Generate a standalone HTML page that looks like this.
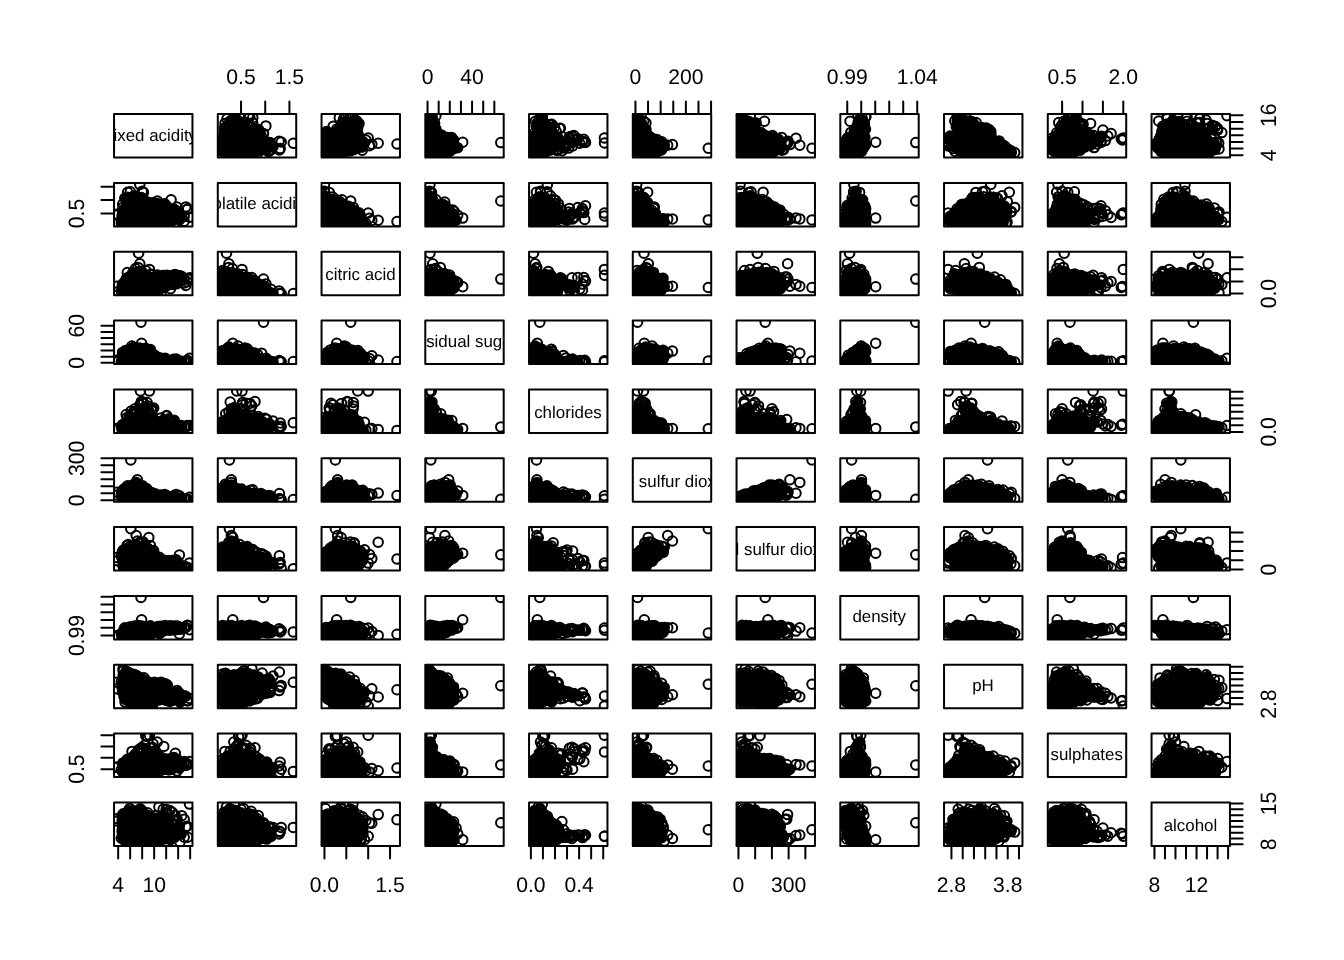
<!DOCTYPE html>
<html><head><meta charset="utf-8"><title>pairs</title>
<style>
html,body{margin:0;padding:0;background:#fff}
svg{display:block}
text{font-family:"Liberation Sans",Arial,Helvetica,sans-serif;fill:#000;text-rendering:geometricPrecision}
.a{font-size:21.12px}
.l{font-size:16.90px}
.p{fill:none;stroke:none;marker-start:url(#m);marker-mid:url(#m);marker-end:url(#m)}
.b{fill:none;stroke:#000;stroke-width:2;stroke-linejoin:round}
.f{fill:none;stroke:#000;stroke-width:1.2}
.t{fill:none;stroke:#000;stroke-width:2;stroke-linecap:round}
</style></head><body>
<svg width="1344" height="960" viewBox="0 0 1344 960">
<defs><marker id="m" markerUnits="userSpaceOnUse" markerWidth="14" markerHeight="14" refX="7" refY="7" orient="0"><circle cx="7" cy="7" r="4.752" fill="none" stroke="#000" stroke-width="2"/></marker>
<clipPath id="c0_0"><rect x="114.05" y="114.05" width="78.41" height="43.50"/></clipPath><clipPath id="c0_1"><rect x="217.80" y="114.05" width="78.41" height="43.50"/></clipPath><clipPath id="c0_2"><rect x="321.55" y="114.05" width="78.41" height="43.50"/></clipPath><clipPath id="c0_3"><rect x="425.30" y="114.05" width="78.41" height="43.50"/></clipPath><clipPath id="c0_4"><rect x="529.05" y="114.05" width="78.41" height="43.50"/></clipPath><clipPath id="c0_5"><rect x="632.80" y="114.05" width="78.41" height="43.50"/></clipPath><clipPath id="c0_6"><rect x="736.55" y="114.05" width="78.41" height="43.50"/></clipPath><clipPath id="c0_7"><rect x="840.30" y="114.05" width="78.41" height="43.50"/></clipPath><clipPath id="c0_8"><rect x="944.05" y="114.05" width="78.41" height="43.50"/></clipPath><clipPath id="c0_9"><rect x="1047.80" y="114.05" width="78.41" height="43.50"/></clipPath><clipPath id="c0_10"><rect x="1151.55" y="114.05" width="78.41" height="43.50"/></clipPath><clipPath id="c1_0"><rect x="114.05" y="182.89" width="78.41" height="43.50"/></clipPath><clipPath id="c1_1"><rect x="217.80" y="182.89" width="78.41" height="43.50"/></clipPath><clipPath id="c1_2"><rect x="321.55" y="182.89" width="78.41" height="43.50"/></clipPath><clipPath id="c1_3"><rect x="425.30" y="182.89" width="78.41" height="43.50"/></clipPath><clipPath id="c1_4"><rect x="529.05" y="182.89" width="78.41" height="43.50"/></clipPath><clipPath id="c1_5"><rect x="632.80" y="182.89" width="78.41" height="43.50"/></clipPath><clipPath id="c1_6"><rect x="736.55" y="182.89" width="78.41" height="43.50"/></clipPath><clipPath id="c1_7"><rect x="840.30" y="182.89" width="78.41" height="43.50"/></clipPath><clipPath id="c1_8"><rect x="944.05" y="182.89" width="78.41" height="43.50"/></clipPath><clipPath id="c1_9"><rect x="1047.80" y="182.89" width="78.41" height="43.50"/></clipPath><clipPath id="c1_10"><rect x="1151.55" y="182.89" width="78.41" height="43.50"/></clipPath><clipPath id="c2_0"><rect x="114.05" y="251.73" width="78.41" height="43.50"/></clipPath><clipPath id="c2_1"><rect x="217.80" y="251.73" width="78.41" height="43.50"/></clipPath><clipPath id="c2_2"><rect x="321.55" y="251.73" width="78.41" height="43.50"/></clipPath><clipPath id="c2_3"><rect x="425.30" y="251.73" width="78.41" height="43.50"/></clipPath><clipPath id="c2_4"><rect x="529.05" y="251.73" width="78.41" height="43.50"/></clipPath><clipPath id="c2_5"><rect x="632.80" y="251.73" width="78.41" height="43.50"/></clipPath><clipPath id="c2_6"><rect x="736.55" y="251.73" width="78.41" height="43.50"/></clipPath><clipPath id="c2_7"><rect x="840.30" y="251.73" width="78.41" height="43.50"/></clipPath><clipPath id="c2_8"><rect x="944.05" y="251.73" width="78.41" height="43.50"/></clipPath><clipPath id="c2_9"><rect x="1047.80" y="251.73" width="78.41" height="43.50"/></clipPath><clipPath id="c2_10"><rect x="1151.55" y="251.73" width="78.41" height="43.50"/></clipPath><clipPath id="c3_0"><rect x="114.05" y="320.57" width="78.41" height="43.50"/></clipPath><clipPath id="c3_1"><rect x="217.80" y="320.57" width="78.41" height="43.50"/></clipPath><clipPath id="c3_2"><rect x="321.55" y="320.57" width="78.41" height="43.50"/></clipPath><clipPath id="c3_3"><rect x="425.30" y="320.57" width="78.41" height="43.50"/></clipPath><clipPath id="c3_4"><rect x="529.05" y="320.57" width="78.41" height="43.50"/></clipPath><clipPath id="c3_5"><rect x="632.80" y="320.57" width="78.41" height="43.50"/></clipPath><clipPath id="c3_6"><rect x="736.55" y="320.57" width="78.41" height="43.50"/></clipPath><clipPath id="c3_7"><rect x="840.30" y="320.57" width="78.41" height="43.50"/></clipPath><clipPath id="c3_8"><rect x="944.05" y="320.57" width="78.41" height="43.50"/></clipPath><clipPath id="c3_9"><rect x="1047.80" y="320.57" width="78.41" height="43.50"/></clipPath><clipPath id="c3_10"><rect x="1151.55" y="320.57" width="78.41" height="43.50"/></clipPath><clipPath id="c4_0"><rect x="114.05" y="389.41" width="78.41" height="43.50"/></clipPath><clipPath id="c4_1"><rect x="217.80" y="389.41" width="78.41" height="43.50"/></clipPath><clipPath id="c4_2"><rect x="321.55" y="389.41" width="78.41" height="43.50"/></clipPath><clipPath id="c4_3"><rect x="425.30" y="389.41" width="78.41" height="43.50"/></clipPath><clipPath id="c4_4"><rect x="529.05" y="389.41" width="78.41" height="43.50"/></clipPath><clipPath id="c4_5"><rect x="632.80" y="389.41" width="78.41" height="43.50"/></clipPath><clipPath id="c4_6"><rect x="736.55" y="389.41" width="78.41" height="43.50"/></clipPath><clipPath id="c4_7"><rect x="840.30" y="389.41" width="78.41" height="43.50"/></clipPath><clipPath id="c4_8"><rect x="944.05" y="389.41" width="78.41" height="43.50"/></clipPath><clipPath id="c4_9"><rect x="1047.80" y="389.41" width="78.41" height="43.50"/></clipPath><clipPath id="c4_10"><rect x="1151.55" y="389.41" width="78.41" height="43.50"/></clipPath><clipPath id="c5_0"><rect x="114.05" y="458.25" width="78.41" height="43.50"/></clipPath><clipPath id="c5_1"><rect x="217.80" y="458.25" width="78.41" height="43.50"/></clipPath><clipPath id="c5_2"><rect x="321.55" y="458.25" width="78.41" height="43.50"/></clipPath><clipPath id="c5_3"><rect x="425.30" y="458.25" width="78.41" height="43.50"/></clipPath><clipPath id="c5_4"><rect x="529.05" y="458.25" width="78.41" height="43.50"/></clipPath><clipPath id="c5_5"><rect x="632.80" y="458.25" width="78.41" height="43.50"/></clipPath><clipPath id="c5_6"><rect x="736.55" y="458.25" width="78.41" height="43.50"/></clipPath><clipPath id="c5_7"><rect x="840.30" y="458.25" width="78.41" height="43.50"/></clipPath><clipPath id="c5_8"><rect x="944.05" y="458.25" width="78.41" height="43.50"/></clipPath><clipPath id="c5_9"><rect x="1047.80" y="458.25" width="78.41" height="43.50"/></clipPath><clipPath id="c5_10"><rect x="1151.55" y="458.25" width="78.41" height="43.50"/></clipPath><clipPath id="c6_0"><rect x="114.05" y="527.09" width="78.41" height="43.50"/></clipPath><clipPath id="c6_1"><rect x="217.80" y="527.09" width="78.41" height="43.50"/></clipPath><clipPath id="c6_2"><rect x="321.55" y="527.09" width="78.41" height="43.50"/></clipPath><clipPath id="c6_3"><rect x="425.30" y="527.09" width="78.41" height="43.50"/></clipPath><clipPath id="c6_4"><rect x="529.05" y="527.09" width="78.41" height="43.50"/></clipPath><clipPath id="c6_5"><rect x="632.80" y="527.09" width="78.41" height="43.50"/></clipPath><clipPath id="c6_6"><rect x="736.55" y="527.09" width="78.41" height="43.50"/></clipPath><clipPath id="c6_7"><rect x="840.30" y="527.09" width="78.41" height="43.50"/></clipPath><clipPath id="c6_8"><rect x="944.05" y="527.09" width="78.41" height="43.50"/></clipPath><clipPath id="c6_9"><rect x="1047.80" y="527.09" width="78.41" height="43.50"/></clipPath><clipPath id="c6_10"><rect x="1151.55" y="527.09" width="78.41" height="43.50"/></clipPath><clipPath id="c7_0"><rect x="114.05" y="595.93" width="78.41" height="43.50"/></clipPath><clipPath id="c7_1"><rect x="217.80" y="595.93" width="78.41" height="43.50"/></clipPath><clipPath id="c7_2"><rect x="321.55" y="595.93" width="78.41" height="43.50"/></clipPath><clipPath id="c7_3"><rect x="425.30" y="595.93" width="78.41" height="43.50"/></clipPath><clipPath id="c7_4"><rect x="529.05" y="595.93" width="78.41" height="43.50"/></clipPath><clipPath id="c7_5"><rect x="632.80" y="595.93" width="78.41" height="43.50"/></clipPath><clipPath id="c7_6"><rect x="736.55" y="595.93" width="78.41" height="43.50"/></clipPath><clipPath id="c7_7"><rect x="840.30" y="595.93" width="78.41" height="43.50"/></clipPath><clipPath id="c7_8"><rect x="944.05" y="595.93" width="78.41" height="43.50"/></clipPath><clipPath id="c7_9"><rect x="1047.80" y="595.93" width="78.41" height="43.50"/></clipPath><clipPath id="c7_10"><rect x="1151.55" y="595.93" width="78.41" height="43.50"/></clipPath><clipPath id="c8_0"><rect x="114.05" y="664.77" width="78.41" height="43.50"/></clipPath><clipPath id="c8_1"><rect x="217.80" y="664.77" width="78.41" height="43.50"/></clipPath><clipPath id="c8_2"><rect x="321.55" y="664.77" width="78.41" height="43.50"/></clipPath><clipPath id="c8_3"><rect x="425.30" y="664.77" width="78.41" height="43.50"/></clipPath><clipPath id="c8_4"><rect x="529.05" y="664.77" width="78.41" height="43.50"/></clipPath><clipPath id="c8_5"><rect x="632.80" y="664.77" width="78.41" height="43.50"/></clipPath><clipPath id="c8_6"><rect x="736.55" y="664.77" width="78.41" height="43.50"/></clipPath><clipPath id="c8_7"><rect x="840.30" y="664.77" width="78.41" height="43.50"/></clipPath><clipPath id="c8_8"><rect x="944.05" y="664.77" width="78.41" height="43.50"/></clipPath><clipPath id="c8_9"><rect x="1047.80" y="664.77" width="78.41" height="43.50"/></clipPath><clipPath id="c8_10"><rect x="1151.55" y="664.77" width="78.41" height="43.50"/></clipPath><clipPath id="c9_0"><rect x="114.05" y="733.61" width="78.41" height="43.50"/></clipPath><clipPath id="c9_1"><rect x="217.80" y="733.61" width="78.41" height="43.50"/></clipPath><clipPath id="c9_2"><rect x="321.55" y="733.61" width="78.41" height="43.50"/></clipPath><clipPath id="c9_3"><rect x="425.30" y="733.61" width="78.41" height="43.50"/></clipPath><clipPath id="c9_4"><rect x="529.05" y="733.61" width="78.41" height="43.50"/></clipPath><clipPath id="c9_5"><rect x="632.80" y="733.61" width="78.41" height="43.50"/></clipPath><clipPath id="c9_6"><rect x="736.55" y="733.61" width="78.41" height="43.50"/></clipPath><clipPath id="c9_7"><rect x="840.30" y="733.61" width="78.41" height="43.50"/></clipPath><clipPath id="c9_8"><rect x="944.05" y="733.61" width="78.41" height="43.50"/></clipPath><clipPath id="c9_9"><rect x="1047.80" y="733.61" width="78.41" height="43.50"/></clipPath><clipPath id="c9_10"><rect x="1151.55" y="733.61" width="78.41" height="43.50"/></clipPath><clipPath id="c10_0"><rect x="114.05" y="802.46" width="78.41" height="43.50"/></clipPath><clipPath id="c10_1"><rect x="217.80" y="802.46" width="78.41" height="43.50"/></clipPath><clipPath id="c10_2"><rect x="321.55" y="802.46" width="78.41" height="43.50"/></clipPath><clipPath id="c10_3"><rect x="425.30" y="802.46" width="78.41" height="43.50"/></clipPath><clipPath id="c10_4"><rect x="529.05" y="802.46" width="78.41" height="43.50"/></clipPath><clipPath id="c10_5"><rect x="632.80" y="802.46" width="78.41" height="43.50"/></clipPath><clipPath id="c10_6"><rect x="736.55" y="802.46" width="78.41" height="43.50"/></clipPath><clipPath id="c10_7"><rect x="840.30" y="802.46" width="78.41" height="43.50"/></clipPath><clipPath id="c10_8"><rect x="944.05" y="802.46" width="78.41" height="43.50"/></clipPath><clipPath id="c10_9"><rect x="1047.80" y="802.46" width="78.41" height="43.50"/></clipPath><clipPath id="c10_10"><rect x="1151.55" y="802.46" width="78.41" height="43.50"/></clipPath></defs>
<rect width="1344" height="960" fill="#fff"/>
<g clip-path="url(#c0_0)"><text class="l" text-anchor="middle" x="152.95" y="141.00">fixed acidity</text></g>
<rect class="b" x="114.05" y="114.05" width="78.41" height="43.50"/>
<g clip-path="url(#c0_1)"><path class="f" transform="translate(0 .5)" d="M237 114h1M253 114h1M234 115h5M230 116h10M244 116h1M229 117h11M244 117h1M228 118h20M253 118h1M226 119h27M226 120h27M226 121h27M224 122h29M256 122h1M224 123h25M252 123h5M223 124h26M252 124h5M221 125h28M252 125h9M221 126h40M221 127h41M220 128h43M221 129h43M221 130h45M221 131h44M220 132h45M221 133h44M221 134h44M221 135h45M220 136h48M219 137h49M278 137h1M218 138h53M218 139h55M218 140h56M284 140h1M218 141h56M284 141h2M217 142h59M217 143h59M217 144h60M280 144h1M217 145h67M217 146h61M281 146h3M217 147h60M217 148h60M218 149h58M218 150h58M218 151h53M274 151h2M219 152h51M274 152h2M219 153h51M277 153h1M220 154h50M279 154h1M220 155h38M267 155h3M222 156h36M223 157h16M243 157h2M235 158h2M236 159h1"/><polyline class="p" points="223.5,151.4 222.4,149.6 226.6,152.5 225.9,133.5 222.0,149.3 247.3,152.3 243.6,123.7 250.1,131.1 267.4,148.6 221.8,146.7 224.4,153.5 257.8,150.5 229.3,152.5 281.2,142.0 240.5,122.6 270.0,144.2 268.5,151.6 221.0,145.2 252.8,117.7 270.2,150.4 279.4,150.0 233.8,152.9 221.9,142.3 244.8,125.9 270.1,149.7 261.1,135.6 263.5,133.5 280.2,148.5 223.3,140.2 260.8,150.1 227.5,153.1 221.0,147.2 230.1,152.8 224.7,132.4 265.9,125.9 222.7,151.6 230.3,121.4 249.7,116.7 264.9,140.9 247.7,124.1 227.0,118.7 270.1,143.4 222.8,139.6 238.2,155.9 247.5,125.9 239.7,155.7 237.8,153.0 223.0,138.4 224.5,132.1 229.9,121.3 225.0,123.4 231.8,121.0 293.3,143.3 252.7,122.7 233.8,120.0 244.7,152.9 248.3,117.0 269.9,142.4 245.1,122.2 273.0,146.4 254.9,128.5 221.9,139.6 221.2,143.0 252.0,152.6 258.6,129.5 227.3,126.6 237.2,120.3 257.8,152.8 234.3,115.7 224.5,128.1 236.2,118.7 279.1,141.3"/></g>
<rect class="b" x="217.80" y="114.05" width="78.41" height="43.50"/>
<g clip-path="url(#c0_2)"><path class="f" transform="translate(0 .5)" d="M351 112h3M345 113h9M341 114h2M346 114h4M353 114h1M346 115h2M353 115h2M346 116h2M353 116h5M340 117h1M344 117h4M351 117h8M340 118h20M339 119h22M339 120h22M339 121h23M337 122h26M337 123h27M337 124h26M335 125h28M334 126h28M326 127h2M333 127h29M324 128h5M332 128h30M323 129h39M323 130h39M323 131h39M322 132h40M322 133h40M322 134h41M322 135h42M322 136h42M321 137h43M321 138h44M321 139h45M320 140h47M371 140h4M320 141h54M320 142h49M320 143h49M320 144h49M320 145h48M320 146h48M375 146h1M320 147h48M375 147h1M320 148h47M320 149h47M320 150h47M320 151h43M320 152h39M320 153h36M321 154h32M322 155h26M323 156h22M324 157h14M341 157h1M328 158h3M328 159h2"/><polyline class="p" points="336.7,152.5 369.5,145.7 325.0,144.6 326.3,138.0 324.5,152.3 324.5,148.6 327.8,153.5 337.7,152.5 362.0,147.1 351.7,149.3 342.1,151.5 324.5,142.0 336.7,129.0 339.3,117.7 331.7,152.9 350.1,150.4 343.9,152.1 326.3,133.5 324.7,144.5 359.0,123.6 326.6,131.4 335.5,153.1 325.5,138.5 363.0,141.8 341.0,152.9 371.8,144.3 356.0,121.4 357.5,148.0 350.7,116.7 343.7,118.7 351.7,149.8 337.7,155.9 357.8,133.5 327.6,155.7 345.9,121.3 359.1,136.6 365.9,140.0 356.8,121.0 378.2,143.3 325.8,135.0 356.9,129.6 353.7,149.8 342.2,122.7 355.1,120.0 345.9,117.0 347.2,151.1 325.1,138.5 362.3,150.2 350.6,150.8 397.0,144.0 324.5,152.6 333.2,126.2 368.2,138.0 352.9,115.7 357.6,128.1 350.7,118.7 364.5,143.2"/></g>
<rect class="b" x="321.55" y="114.05" width="78.41" height="43.50"/>
<g clip-path="url(#c0_3)"><path class="f" transform="translate(0 .5)" d="M428 113h6M427 114h8M426 115h10M426 116h11M426 117h11M426 118h11M426 119h11M425 120h14M425 121h14M425 122h14M425 123h14M425 124h14M425 125h14M425 126h14M425 127h15M425 128h15M425 129h16M425 130h16M425 131h18M425 132h20M425 133h28M425 134h29M425 135h30M425 136h31M424 137h33M424 138h34M424 139h34M424 140h34M424 141h34M424 142h34M424 143h35M424 144h36M424 145h37M424 146h38M424 147h38M424 148h38M424 149h38M424 150h37M424 151h36M424 152h32M424 153h30M425 154h28M425 155h26M425 156h24M425 157h11M439 157h2M429 158h1M429 159h1M429 160h1"/><polyline class="p" points="428.8,148.3 428.6,150.3 429.5,134.4 438.1,152.5 428.7,138.3 429.0,146.1 428.7,143.7 428.5,146.9 429.7,131.5 428.5,142.3 429.3,131.2 428.5,151.2 442.3,151.9 428.4,139.1 429.9,123.7 429.1,129.1 429.0,153.5 430.0,117.7 446.3,152.9 452.8,143.4 452.0,148.1 451.7,149.3 432.2,153.1 451.5,137.4 428.4,152.8 428.7,132.4 434.7,152.9 430.0,121.4 430.0,116.7 462.7,142.3 457.7,147.7 429.2,127.7 429.5,124.1 442.0,152.5 434.6,123.0 429.1,155.9 439.9,153.0 432.3,155.7 428.8,121.3 453.0,140.3 432.2,117.0 441.1,135.9 453.6,140.1 450.0,151.2 441.9,135.3 438.5,133.8 500.8,142.6 453.5,148.7 428.5,137.7 435.9,129.1 435.9,115.7 447.5,137.4"/></g>
<rect class="b" x="425.30" y="114.05" width="78.41" height="43.50"/>
<g clip-path="url(#c0_4)"><path class="f" transform="translate(0 .5)" d="M541 112h4M540 113h6M539 114h8M538 115h9M537 116h10M535 117h12M535 118h12M535 119h12M534 120h16M534 121h16M554 121h1M532 122h18M554 122h2M532 123h19M554 123h2M532 124h27M532 125h24M532 126h24M532 127h24M532 128h24M532 129h24M532 130h24M531 131h26M531 132h26M561 132h1M571 132h2M531 133h30M568 133h5M576 133h1M531 134h30M566 134h3M572 134h1M576 134h2M531 135h30M566 135h3M572 135h2M577 135h3M530 136h32M565 136h4M572 136h2M577 136h6M530 137h32M565 137h9M577 137h7M587 137h1M529 138h54M587 138h1M529 139h54M587 139h1M529 140h53M588 140h1M529 141h52M588 141h2M529 142h52M528 143h53M528 144h37M568 144h19M528 145h37M568 145h9M581 145h8M528 146h37M568 146h7M581 146h6M528 147h37M568 147h3M529 148h41M529 149h41M529 150h39M529 151h26M561 151h7M529 152h26M561 152h7M529 153h26M530 154h21M556 154h4M530 155h18M532 156h14M532 157h11M533 158h1M539 158h1"/><polyline class="p" points="534.1,141.2 545.3,150.4 534.1,149.9 533.0,152.5 570.0,138.6 552.0,147.7 584.7,141.8 540.7,153.5 534.5,139.0 535.2,152.5 533.2,146.2 557.7,149.0 535.3,135.8 556.7,146.3 540.4,117.7 572.0,136.3 577.8,138.8 535.7,152.9 537.1,125.9 568.8,143.2 556.2,131.6 572.4,142.7 532.5,146.2 551.1,148.5 534.7,132.8 545.3,123.6 550.9,130.9 579.8,143.2 550.2,150.1 532.7,142.8 559.6,128.5 533.7,139.5 546.5,151.5 560.4,128.3 574.3,139.6 541.7,116.7 533.0,149.0 551.1,127.7 560.0,141.0 539.9,118.7 573.9,135.6 569.4,136.8 536.8,155.9 536.2,126.0 535.8,155.7 535.3,121.3 532.0,146.0 533.6,139.1 550.2,125.1 604.5,143.0 582.5,141.2 550.7,124.4 565.8,146.9 537.4,122.6 554.6,127.2 568.6,148.1 542.3,117.0 551.8,124.2 556.9,150.4 532.8,140.3 585.5,142.4 572.6,145.9 562.2,150.8 583.8,139.2 533.1,139.0 582.3,141.6 563.4,147.9 604.4,138.0 544.1,152.8 542.4,115.7 561.9,136.4 558.1,138.0"/></g>
<rect class="b" x="529.05" y="114.05" width="78.41" height="43.50"/>
<g clip-path="url(#c0_5)"><path class="f" transform="translate(0 .5)" d="M638 112h2M636 113h4M635 114h6M634 115h8M633 116h9M633 117h13M633 118h12M633 119h12M633 120h12M632 121h13M632 122h14M632 123h16M632 124h16M632 125h16M632 126h18M632 127h18M632 128h18M632 129h19M632 130h19M632 131h19M632 132h19M632 133h20M632 134h21M632 135h25M632 136h27M632 137h30M632 138h32M632 139h33M632 140h34M632 141h37M632 142h37M632 143h37M632 144h37M632 145h37M632 146h37M632 147h37M632 148h37M632 149h37M632 150h34M633 151h33M633 152h32M634 153h30M634 154h28M635 155h24M637 156h19M639 157h15M646 158h2M646 159h2"/><polyline class="p" points="637.0,147.5 636.5,146.0 636.9,142.3 636.7,134.4 652.8,152.5 636.7,131.5 640.1,152.3 636.2,146.6 636.1,131.2 641.7,123.7 636.6,142.8 646.1,153.5 636.2,142.0 637.0,122.6 637.0,148.9 636.9,138.5 636.7,117.7 650.3,138.0 649.4,152.9 636.9,149.2 636.9,150.6 636.5,129.6 636.2,145.1 661.8,141.7 635.9,142.7 636.4,138.4 635.9,140.4 638.0,152.4 657.6,151.4 649.5,137.4 654.7,152.3 636.2,137.9 639.8,152.8 640.6,153.1 635.9,128.7 652.0,152.9 637.5,116.7 653.0,139.3 636.5,150.4 636.2,136.2 646.0,123.0 647.4,134.7 650.0,155.9 636.1,133.9 663.2,147.3 636.3,126.0 644.8,155.7 643.8,121.3 654.4,139.2 636.6,121.0 672.4,144.6 638.0,117.0 646.0,129.5 635.8,146.4 636.2,124.5 656.9,139.6 664.3,144.9 650.1,136.9 667.7,145.3 661.5,150.0 708.3,148.3 641.0,115.7"/></g>
<rect class="b" x="632.80" y="114.05" width="78.41" height="43.50"/>
<g clip-path="url(#c0_6)"><path class="f" transform="translate(0 .5)" d="M740 113h6M739 114h7M739 115h8M738 116h9M738 117h12M738 118h14M738 119h20M737 120h23M737 121h23M737 122h24M736 123h25M736 124h25M736 125h24M736 126h24M736 127h24M736 128h26M735 129h28M735 130h29M736 131h30M736 132h39M736 133h40M736 134h44M736 135h44M736 136h45M736 137h46M787 137h2M736 138h55M736 139h56M736 140h51M790 140h2M736 141h50M790 141h3M735 142h50M790 142h3M735 143h50M790 143h2M736 144h49M790 144h2M736 145h50M790 145h1M736 146h50M789 146h2M736 147h54M736 148h54M736 149h52M736 150h48M787 150h1M736 151h48M737 152h46M737 153h46M738 154h39M781 154h2M739 155h38M741 156h6M750 156h25M751 157h2M756 157h11M757 158h1M757 159h1"/><polyline class="p" points="740.3,137.7 766.9,152.5 754.7,151.9 778.5,139.8 744.2,152.3 751.0,151.2 770.9,151.9 740.7,142.8 762.7,153.5 783.5,149.6 771.4,152.5 766.5,136.0 740.0,144.0 741.0,122.6 740.1,131.6 740.5,148.3 780.3,145.9 796.0,138.3 743.4,117.7 740.0,141.9 786.7,141.9 780.0,143.4 780.5,141.7 739.8,137.6 741.0,127.8 751.3,123.6 740.0,148.7 754.4,152.4 759.2,153.1 780.0,147.5 781.6,137.4 773.6,152.3 753.5,152.8 760.7,132.4 739.6,128.7 770.8,152.9 749.0,121.4 786.8,142.3 741.3,150.3 750.1,151.6 742.1,116.7 756.2,123.0 763.7,134.7 759.9,155.9 739.6,142.8 740.0,126.0 754.3,155.7 740.1,150.1 781.3,146.1 764.5,121.3 779.3,149.0 741.0,121.0 787.6,143.3 780.1,148.9 740.6,151.9 740.1,134.6 789.9,144.6 785.0,142.3 739.9,125.0 739.5,130.5 765.7,153.1 772.5,135.6 739.6,137.6 745.2,152.6 778.4,139.3 781.9,150.3 799.8,145.3 739.5,143.7 812.0,148.3 750.3,115.7 788.0,141.3"/></g>
<rect class="b" x="736.55" y="114.05" width="78.41" height="43.50"/>
<g clip-path="url(#c0_7)"><path class="f" transform="translate(0 .5)" d="M861 113h4M860 114h5M858 115h7M857 116h9M856 117h10M855 118h12M855 119h12M855 120h14M854 121h15M854 122h15M854 123h15M854 124h15M853 125h16M852 126h18M850 127h20M850 128h20M850 129h20M850 130h20M850 131h19M850 132h18M847 133h21M846 134h22M845 135h24M844 136h25M843 137h27M843 138h26M842 139h27M841 140h28M840 141h31M840 142h31M840 143h31M840 144h31M840 145h30M840 146h30M839 147h30M840 148h28M840 149h28M840 150h27M840 151h26M839 152h27M839 153h26M840 154h25M840 155h23M841 156h15M859 156h1M842 157h11M843 158h1M849 158h2"/><polyline class="p" points="859.7,150.4 845.2,149.9 854.2,152.5 847.7,138.3 863.5,133.2 865.0,144.9 845.7,142.3 844.7,151.2 864.1,146.5 859.1,151.9 844.1,149.6 850.5,153.5 845.1,144.7 859.3,122.6 844.1,145.3 862.0,117.7 849.4,137.2 863.8,123.6 845.0,141.3 854.4,130.9 864.9,137.4 844.5,152.8 850.8,132.4 865.5,129.3 843.5,153.1 843.8,142.7 865.7,116.7 875.7,142.3 862.8,148.9 864.4,124.1 845.8,155.9 843.6,147.4 847.2,155.7 846.6,153.0 850.0,121.3 847.7,137.8 856.7,127.1 861.4,151.5 859.1,120.0 858.1,122.6 865.7,117.0 865.5,145.0 863.8,122.2 915.8,142.6 857.9,115.7 860.1,118.7"/></g>
<rect class="b" x="840.30" y="114.05" width="78.41" height="43.50"/>
<g clip-path="url(#c0_8)"><path class="f" transform="translate(0 .5)" d="M961 114h6M953 115h1M961 115h6M953 116h1M957 116h10M953 117h19M953 118h23M953 119h24M953 120h24M953 121h24M953 122h25M953 123h25M981 123h1M952 124h36M952 125h38M952 126h40M952 127h41M953 128h40M954 129h40M954 130h41M954 131h41M949 132h46M948 133h47M947 134h48M945 135h51M945 136h51M944 137h57M944 138h58M944 139h59M945 140h58M946 141h59M946 142h60M946 143h62M946 144h63M945 145h65M945 146h66M945 147h68M946 148h69M947 149h68M948 150h67M954 151h62M954 152h62M957 153h59M957 154h58M957 155h58M965 156h40M1010 156h5M974 157h3M980 157h16"/><polyline class="p" points="980.9,152.5 965.3,151.9 962.2,150.9 997.1,152.3 991.5,153.5 1002.9,152.5 1006.2,149.0 1003.0,145.0 973.2,125.5 965.6,117.7 955.2,151.4 1009.3,150.0 973.4,152.9 977.7,127.8 972.8,123.6 954.0,146.4 982.8,152.4 1007.1,148.5 981.7,153.1 958.5,148.8 948.9,146.1 982.6,128.7 987.0,152.9 958.2,128.6 960.5,150.6 1005.9,151.6 966.6,121.4 989.8,132.6 957.1,116.7 983.7,128.2 991.0,135.1 969.4,152.5 966.6,118.7 949.8,140.1 953.2,148.4 990.9,155.9 976.1,153.0 979.1,155.7 971.1,121.3 981.5,127.6 954.8,121.0 1011.3,152.4 950.1,136.1 957.3,121.0 1004.8,146.3 999.1,140.9 976.1,122.6 1010.8,150.8 958.2,117.0 986.3,128.1 990.8,131.5 972.7,122.4 1014.7,152.6 956.3,126.6 988.9,129.4 960.0,151.3 974.1,124.5 958.7,120.3 948.1,138.0 961.6,115.7 962.7,118.7"/></g>
<rect class="b" x="944.05" y="114.05" width="78.41" height="43.50"/>
<g clip-path="url(#c0_9)"><path class="f" transform="translate(0 .5)" d="M1072 113h2M1067 114h1M1072 114h4M1066 115h2M1072 115h8M1065 116h3M1071 116h10M1063 117h18M1062 118h19M1062 119h20M1062 120h23M1060 121h27M1060 122h21M1084 122h3M1059 123h22M1084 123h3M1058 124h23M1084 124h4M1057 125h30M1056 126h31M1056 127h31M1056 128h32M1055 129h36M1054 130h37M1108 130h1M1053 131h41M1053 132h41M1097 132h6M1053 133h41M1097 133h9M1051 134h55M1122 134h2M1050 135h56M1049 136h58M1048 137h58M1117 137h2M1126 137h2M1048 138h58M1117 138h2M1127 138h1M1048 139h58M1117 139h2M1048 140h55M1118 140h1M1048 141h55M1118 141h1M1126 141h1M1048 142h54M1119 142h1M1048 143h54M1120 143h5M1048 144h54M1122 144h1M1048 145h55M1048 146h48M1099 146h3M1048 147h48M1099 147h1M1048 148h45M1048 149h44M1048 150h39M1091 150h1M1048 151h38M1049 152h35M1050 153h33M1052 154h29M1053 155h24M1055 156h20M1059 157h4M1066 157h5M1062 158h1"/><polyline class="p" points="1055.4,151.4 1053.0,145.9 1059.4,152.5 1054.8,151.9 1073.2,151.2 1111.1,133.6 1060.7,152.3 1052.7,143.3 1066.6,151.9 1094.4,141.8 1089.8,145.6 1060.9,153.5 1052.2,145.2 1097.2,144.0 1079.7,122.6 1068.7,117.7 1083.0,147.2 1101.5,136.3 1052.4,149.9 1070.6,152.9 1073.7,151.6 1056.7,132.8 1086.9,132.5 1051.8,146.8 1094.1,147.6 1065.9,152.4 1059.2,153.1 1052.0,149.7 1107.8,136.0 1080.3,128.7 1051.6,145.6 1076.0,121.4 1079.9,126.1 1098.7,139.6 1070.3,116.7 1066.1,152.9 1076.0,118.7 1093.7,135.6 1084.9,147.0 1090.6,123.5 1099.7,136.8 1065.5,155.9 1065.7,155.7 1063.8,121.3 1051.9,144.2 1105.4,140.6 1102.9,130.0 1060.6,127.1 1121.3,139.0 1090.2,135.0 1074.4,120.0 1066.6,121.0 1100.9,142.0 1058.7,122.6 1081.4,148.1 1071.9,117.0 1083.1,124.2 1076.7,150.4 1080.2,150.2 1122.5,140.0 1100.9,142.4 1055.2,136.7 1052.3,140.8 1073.4,152.6 1056.7,152.7 1061.9,125.4 1066.8,120.3 1052.3,138.1 1123.3,138.0 1076.0,115.7"/></g>
<rect class="b" x="1047.80" y="114.05" width="78.41" height="43.50"/>
<g clip-path="url(#c0_10)"><path class="f" transform="translate(0 .5)" d="M1165 113h4M1171 116h3M1203 116h1M1171 117h5M1179 117h3M1191 117h1M1203 117h1M1170 118h14M1190 118h2M1200 118h4M1169 119h15M1190 119h2M1195 119h1M1201 119h3M1163 120h22M1189 120h7M1202 120h2M1163 121h26M1192 121h4M1202 121h2M1211 121h3M1162 122h27M1192 122h4M1202 122h2M1210 122h4M1160 123h29M1192 123h5M1202 123h2M1209 123h5M1217 123h1M1159 124h45M1207 124h7M1217 124h2M1159 125h46M1208 125h12M1159 126h46M1208 126h3M1214 126h3M1159 127h46M1208 127h3M1214 127h3M1221 127h1M1159 128h46M1208 128h3M1214 128h3M1159 129h60M1158 130h60M1158 131h59M1158 132h59M1158 133h59M1157 134h54M1214 134h5M1157 135h54M1157 136h54M1156 137h55M1155 138h58M1216 138h5M1155 139h63M1154 140h64M1221 140h1M1152 141h66M1222 141h1M1151 142h68M1151 143h68M1150 144h71M1151 145h72M1151 146h70M1152 147h68M1154 148h66M1154 149h66M1155 150h64M1156 151h63M1157 152h62M1158 153h61M1158 154h56M1160 155h53M1163 156h48M1164 157h3M1177 157h2M1193 157h8M1204 157h3M1197 158h3M1197 159h3"/><polyline class="p" points="1185.7,151.4 1161.5,150.4 1211.7,149.9 1166.7,152.5 1159.3,139.0 1162.8,133.2 1200.1,151.9 1156.7,144.9 1176.9,152.3 1157.4,146.5 1164.2,151.9 1171.5,123.7 1165.6,153.5 1206.8,139.0 1180.2,152.5 1161.5,136.0 1196.5,122.6 1173.5,151.6 1186.2,117.7 1215.5,126.6 1194.6,152.9 1171.1,152.1 1186.6,127.8 1207.1,123.6 1161.8,131.6 1215.5,147.1 1187.2,152.4 1177.6,153.1 1198.9,152.8 1217.6,130.3 1206.5,153.1 1212.4,128.7 1200.5,152.9 1217.6,128.6 1212.4,142.7 1179.3,121.4 1167.1,116.7 1200.7,128.2 1154.5,144.2 1159.8,148.9 1166.9,124.1 1170.4,152.5 1182.0,152.9 1167.1,118.7 1198.0,123.0 1190.8,123.5 1200.7,155.9 1193.0,153.0 1196.6,155.7 1187.1,121.3 1209.5,152.4 1173.1,152.4 1158.7,121.0 1161.0,151.5 1157.5,147.7 1214.9,149.6 1211.5,138.9 1214.3,143.2 1160.7,136.0 1206.0,120.0 1221.8,132.6 1219.0,148.9 1173.4,121.0 1208.6,127.9 1199.6,122.6 1187.1,117.0 1216.3,142.3 1184.7,124.6 1212.3,125.3 1218.7,143.0 1192.6,125.2 1173.0,120.3 1162.7,126.2 1227.0,115.7 1199.7,118.7"/></g>
<rect class="b" x="1151.55" y="114.05" width="78.41" height="43.50"/>
<g clip-path="url(#c1_0)"><path class="f" transform="translate(0 .5)" d="M141 187h3M140 188h2M138 189h1M138 190h1M138 191h1M147 191h1M132 192h7M147 192h1M126 193h16M147 193h1M123 194h24M122 195h25M122 196h25M121 197h26M121 198h29M153 198h3M121 199h37M121 200h46M122 201h46M122 202h47M122 203h48M187 203h1M122 204h48M174 204h1M187 204h2M122 205h54M122 206h55M119 207h64M191 207h1M119 208h64M191 208h1M119 209h64M118 210h65M118 211h65M118 212h70M118 213h71M118 214h68M118 215h68M118 216h68M118 217h68M118 218h70M117 219h71M117 220h71M117 221h67M117 222h66M117 223h64M118 224h57M179 224h2M119 225h55M120 226h42M165 226h4M122 227h28M129 228h18"/><polyline class="p" points="125.2,223.2 139.1,223.4 128.4,223.8 157.4,221.9 129.0,224.1 136.7,223.5 123.5,210.0 136.8,223.9 133.6,224.1 121.3,222.7 126.8,204.2 152.8,221.6 142.2,191.2 164.8,221.3 138.1,197.4 124.8,198.2 136.3,224.6 185.8,206.9 126.9,197.3 127.6,192.2 122.5,217.5 141.5,224.1 128.2,197.4 153.6,202.4 157.3,201.1 130.3,191.8 157.3,203.6 145.3,223.3 132.6,224.6 148.2,222.5 159.4,222.6 171.1,199.7 122.1,218.0 124.7,223.7 179.2,219.5 187.7,208.7 133.4,196.8 144.1,200.2 174.3,209.8 184.2,221.3 139.5,197.4 146.4,223.6 117.0,215.1 122.2,223.0 117.3,214.2 122.2,215.3 148.5,223.5 179.4,219.7 175.6,222.4 139.8,184.5 176.9,207.0 181.8,217.5 122.5,211.4 187.1,209.5 174.2,209.2 141.4,197.5 177.8,211.2 139.4,224.5 134.1,195.8 153.0,222.0 166.4,205.8 173.6,219.2 146.4,224.1 123.0,207.4 164.7,203.7 169.8,221.1 171.9,220.9 148.3,202.2 122.7,204.2 189.5,217.3 167.1,222.7 184.2,216.2 143.4,192.4"/></g>
<rect class="b" x="114.05" y="182.89" width="78.41" height="43.50"/>
<g clip-path="url(#c1_1)"><text class="l" text-anchor="middle" x="256.70" y="209.00">volatile acidity</text></g>
<rect class="b" x="217.80" y="182.89" width="78.41" height="43.50"/>
<g clip-path="url(#c1_2)"><path class="f" transform="translate(0 .5)" d="M324 187h2M321 188h8M324 189h1M324 190h1M324 191h1M323 192h6M320 193h10M320 194h10M320 195h14M320 196h15M338 196h2M320 197h15M338 197h2M320 198h22M320 199h23M320 200h27M320 201h27M320 202h30M320 203h34M320 204h34M320 205h34M320 206h35M320 207h38M320 208h39M320 209h41M320 210h42M320 211h44M320 212h44M320 213h44M320 214h44M371 214h2M320 215h45M371 215h2M320 216h45M320 217h45M320 218h48M320 219h48M320 220h48M320 221h49M320 222h50M321 223h50M321 224h50M322 225h48M323 226h46M326 227h42M330 228h20"/><polyline class="p" points="340.1,223.4 332.1,223.8 357.8,222.9 351.8,223.0 369.5,218.3 325.0,208.8 332.0,224.1 341.5,223.5 324.5,210.0 337.6,223.5 341.6,223.9 360.2,223.8 324.5,198.9 337.8,224.1 327.8,222.7 324.5,204.2 330.8,199.2 324.5,191.2 325.1,218.7 324.5,208.0 341.8,224.6 354.2,210.5 324.5,197.3 324.5,192.2 340.1,202.9 356.9,223.4 353.4,207.6 328.1,223.5 330.4,224.1 332.4,196.9 359.0,212.7 348.7,224.2 348.5,206.3 353.3,223.7 363.0,223.3 342.0,199.7 371.8,220.4 324.5,196.8 324.6,211.6 360.6,216.9 324.5,213.3 324.5,214.9 326.2,223.0 324.5,222.3 365.9,223.6 378.2,220.2 343.9,224.4 324.5,184.5 324.6,219.4 331.1,224.3 333.9,224.2 324.5,195.8 339.3,202.1 397.0,221.6 336.8,200.1 350.7,201.0 336.1,224.5 342.2,203.9 360.2,215.4 368.2,213.0 339.8,201.8 329.3,192.4"/></g>
<rect class="b" x="321.55" y="182.89" width="78.41" height="43.50"/>
<g clip-path="url(#c1_3)"><path class="f" transform="translate(0 .5)" d="M429 187h2M426 188h8M426 189h5M426 190h5M425 191h6M435 191h1M426 192h6M435 192h1M426 193h10M426 194h10M425 195h11M425 196h11M425 197h11M425 198h12M425 199h12M441 199h2M425 200h13M441 200h3M425 201h21M425 202h22M425 203h24M425 204h24M425 205h25M425 206h29M425 207h29M425 208h29M425 209h29M425 210h30M425 211h34M424 212h35M424 213h35M424 214h35M424 215h35M424 216h35M424 217h35M424 218h37M424 219h37M424 220h37M424 221h37M424 222h37M424 223h35M424 224h33M425 225h29M425 226h28M426 227h26M427 228h23"/><polyline class="p" points="428.8,208.5 428.9,218.1 453.2,219.7 449.3,222.3 428.6,216.1 429.1,223.2 444.0,223.4 442.2,223.8 428.9,221.7 428.5,223.0 428.6,219.5 436.2,224.1 429.2,223.5 429.1,211.7 450.8,222.0 429.7,202.7 429.9,223.9 433.3,224.1 450.2,222.7 429.5,191.2 439.3,224.0 430.2,197.4 430.0,198.2 446.6,207.9 432.0,224.6 429.6,199.2 431.5,192.2 428.3,223.8 443.9,224.1 452.8,210.1 429.5,197.4 454.0,220.7 428.4,212.4 429.4,202.7 430.1,196.9 451.7,214.4 429.6,191.8 435.8,199.6 428.5,224.6 433.3,203.3 431.5,199.7 436.2,204.8 447.3,224.3 462.7,218.1 457.7,215.2 432.6,199.5 443.0,204.4 449.4,210.9 429.9,184.5 429.1,204.6 452.0,213.3 445.0,206.0 435.3,224.3 449.5,223.5 448.8,224.2 441.9,224.5 429.4,195.8 444.7,202.1 500.8,201.0 456.1,220.2 435.3,203.4 454.0,211.3"/></g>
<rect class="b" x="425.30" y="182.89" width="78.41" height="43.50"/>
<g clip-path="url(#c1_4)"><path class="f" transform="translate(0 .5)" d="M540 187h3M544 188h7M544 189h1M541 191h1M541 192h1M536 193h11M536 194h11M535 195h13M552 195h3M533 196h19M532 197h20M532 198h20M531 199h24M559 199h1M531 200h25M559 200h1M531 201h25M559 201h1M531 202h29M531 203h29M531 204h29M580 204h2M531 205h29M580 205h2M531 206h29M563 206h2M579 206h3M585 206h1M530 207h32M579 207h7M530 208h32M565 208h1M578 208h5M530 209h32M565 209h1M570 209h4M578 209h5M530 210h32M565 210h1M570 210h11M587 210h1M530 211h50M585 211h3M530 212h50M585 212h3M530 213h50M585 213h3M529 214h59M529 215h55M587 215h1M529 216h42M574 216h10M528 217h43M574 217h6M528 218h43M578 218h2M528 219h45M528 220h37M568 220h5M528 221h37M568 221h5M528 222h37M568 222h7M528 223h31M564 223h6M528 224h29M566 224h2M529 225h26M530 226h24M531 227h21M533 228h11M549 228h1"/><polyline class="p" points="534.5,223.2 536.0,223.4 534.0,215.2 536.9,223.8 535.5,207.4 533.0,221.5 535.4,224.1 541.9,223.5 570.0,215.9 584.7,219.5 538.3,223.9 535.0,224.1 533.4,216.4 557.7,209.8 534.8,211.4 553.5,199.2 551.7,204.1 540.5,191.2 544.5,197.4 533.3,215.6 537.2,224.6 552.0,222.3 539.2,197.3 536.4,192.2 572.0,213.3 577.8,207.6 533.2,222.4 535.6,202.9 568.8,218.3 572.4,214.0 532.5,217.2 539.3,196.9 547.1,191.8 548.6,222.5 579.8,212.7 534.8,209.3 550.2,202.5 532.7,219.8 535.2,199.6 533.5,223.5 534.6,208.8 533.8,224.3 574.3,217.1 532.3,221.7 555.5,200.2 560.0,208.1 573.9,217.8 569.4,208.4 556.1,220.1 542.4,223.8 532.0,222.6 534.5,207.4 542.7,224.4 604.5,215.9 547.4,184.5 582.5,210.8 533.7,212.8 554.9,203.6 565.8,217.5 568.6,212.0 585.5,205.8 550.5,195.8 567.0,220.2 572.6,218.9 562.2,217.2 583.8,212.6 549.0,224.0 582.3,208.6 558.4,203.9 563.4,222.0 563.4,218.9 533.9,208.5 604.4,213.0 561.9,211.1 540.6,192.4"/></g>
<rect class="b" x="529.05" y="182.89" width="78.41" height="43.50"/>
<g clip-path="url(#c1_5)"><path class="f" transform="translate(0 .5)" d="M635 187h3M633 188h8M633 189h1M632 190h2M641 190h2M632 191h2M641 191h2M632 192h2M637 192h6M633 193h12M633 194h13M633 195h14M632 196h16M632 197h17M632 198h17M633 199h17M633 200h18M633 201h19M633 202h19M632 203h24M632 204h21M632 205h21M632 206h21M632 207h22M632 208h23M632 209h27M632 210h27M632 211h27M632 212h28M632 213h28M632 214h31M632 215h36M632 216h36M632 217h36M632 218h36M632 219h36M632 220h36M632 221h37M632 222h37M632 223h37M633 224h35M634 225h33M634 226h32M636 227h24M638 228h21"/><polyline class="p" points="637.0,217.4 636.5,213.5 651.4,223.4 656.1,216.5 657.8,223.8 636.7,216.7 638.2,223.0 646.4,224.1 638.9,223.5 636.7,208.9 636.2,218.4 636.1,216.2 642.0,223.4 643.6,223.9 642.1,224.1 636.3,220.2 655.1,214.2 636.7,221.2 636.2,191.2 636.9,204.7 637.0,197.4 644.2,198.2 636.3,221.3 647.9,224.6 643.6,197.3 647.7,192.2 652.6,223.8 651.3,210.1 636.7,202.4 638.0,196.9 637.8,191.8 635.9,208.9 640.1,224.2 647.5,202.5 637.4,223.2 660.0,222.9 636.2,203.8 636.1,222.5 657.2,224.3 636.2,197.4 636.1,212.3 659.7,218.7 653.6,208.3 663.2,218.9 636.0,204.2 637.9,223.6 637.0,223.6 636.7,184.5 655.5,213.3 644.6,224.3 672.4,218.9 663.1,218.7 635.7,214.6 638.2,195.8 664.3,222.3 667.7,218.9 636.1,219.9 708.3,219.9 654.3,207.1 638.3,192.4"/></g>
<rect class="b" x="632.80" y="182.89" width="78.41" height="43.50"/>
<g clip-path="url(#c1_6)"><path class="f" transform="translate(0 .5)" d="M737 188h1M745 189h1M745 190h1M745 191h1M744 192h9M741 193h15M737 194h19M737 195h22M736 196h31M736 197h31M736 198h29M768 198h1M736 199h29M768 199h2M736 200h29M768 200h3M736 201h35M736 202h37M736 203h40M735 204h43M736 205h42M736 206h46M736 207h47M736 208h48M736 209h48M736 210h49M735 211h49M735 212h49M735 213h49M787 213h2M735 214h56M735 215h58M735 216h58M736 217h51M790 217h5M736 218h50M790 218h2M736 219h50M790 219h2M736 220h50M790 220h2M736 221h50M790 221h5M736 222h51M790 222h2M737 223h53M737 224h47M787 224h2M737 225h46M738 226h44M740 227h41M746 228h31"/><polyline class="p" points="740.3,218.8 770.7,223.4 772.4,223.8 778.5,212.0 755.4,224.1 744.3,223.5 777.5,222.9 765.2,223.8 756.4,224.1 740.7,211.2 783.5,214.2 740.0,217.8 740.5,191.2 752.2,224.0 743.3,197.4 753.8,198.2 796.0,218.1 740.1,221.3 756.3,224.6 752.5,197.3 763.1,192.2 767.5,223.8 761.7,223.5 741.0,207.5 761.6,224.1 786.7,218.0 780.0,210.1 740.2,209.1 780.5,220.9 739.8,215.7 749.0,196.9 751.0,191.8 740.1,208.9 774.3,223.8 751.4,224.2 762.4,199.6 781.6,220.6 759.2,224.6 740.8,222.5 778.9,223.7 740.6,205.4 739.6,216.4 769.4,204.8 786.8,218.9 775.2,224.3 740.1,207.0 741.3,197.4 769.4,223.9 739.6,211.1 748.8,223.8 739.6,204.2 787.6,220.2 768.4,224.4 740.6,223.0 740.0,184.5 771.3,206.0 748.0,224.1 789.9,218.9 785.0,218.9 739.5,214.6 763.6,224.5 750.4,195.8 766.9,202.1 799.8,218.9 761.5,202.7 812.0,219.9 774.5,207.1 740.0,197.7 788.0,217.3 748.6,192.4"/></g>
<rect class="b" x="736.55" y="182.89" width="78.41" height="43.50"/>
<g clip-path="url(#c1_7)"><path class="f" transform="translate(0 .5)" d="M855 187h3M851 188h10M851 189h10M850 190h11M850 191h11M850 192h11M850 193h11M850 194h11M850 195h14M849 196h16M848 197h18M848 198h19M848 199h19M848 200h19M847 201h20M845 202h22M844 203h24M844 204h25M843 205h26M843 206h26M843 207h27M843 208h27M843 209h27M842 210h28M842 211h28M841 212h29M841 213h29M841 214h29M841 215h29M840 216h31M840 217h31M839 218h32M839 219h32M840 220h30M840 221h30M840 222h30M840 223h30M840 224h30M840 225h30M841 226h28M843 227h25M845 228h20"/><polyline class="p" points="847.2,208.5 858.4,223.4 845.2,221.9 854.3,223.8 865.0,220.2 850.7,224.1 847.7,223.5 845.8,223.3 844.7,222.0 844.1,219.3 851.1,204.2 860.4,199.2 856.2,191.2 852.1,198.2 844.2,222.4 851.7,224.6 855.2,192.2 845.5,223.8 860.3,224.1 853.6,191.8 848.2,224.2 844.2,223.0 846.3,224.6 865.5,213.2 862.6,199.7 843.5,218.0 843.8,223.0 860.5,224.3 865.7,208.7 875.7,218.1 865.6,223.8 856.0,224.0 844.9,213.5 843.6,219.7 853.9,184.5 847.0,206.7 847.3,205.5 854.7,224.5 864.7,205.8 915.8,201.0 843.7,223.1 864.6,223.9 859.6,192.4"/></g>
<rect class="b" x="840.30" y="182.89" width="78.41" height="43.50"/>
<g clip-path="url(#c1_8)"><path class="f" transform="translate(0 .5)" d="M986 187h1M972 193h11M987 193h8M970 194h13M987 194h12M970 195h28M969 196h29M968 197h30M968 198h30M967 199h32M1002 199h2M961 200h43M960 201h44M959 202h47M958 203h49M957 204h51M955 205h54M954 206h57M953 207h58M953 208h58M953 209h58M951 210h60M951 211h60M949 212h62M948 213h63M947 214h64M946 215h65M945 216h66M945 217h65M945 218h65M945 219h65M945 220h66M945 221h63M946 222h62M1011 222h1M946 223h61M947 224h60M949 225h58M951 226h56M952 227h56M962 228h26"/><polyline class="p" points="988.7,223.2 970.0,223.4 967.8,223.8 961.2,207.4 967.4,224.1 973.0,223.5 960.4,223.3 953.3,222.3 972.1,223.9 954.3,223.8 987.4,198.9 966.6,224.1 991.5,222.7 979.9,223.3 1002.9,220.0 971.6,199.2 1006.2,209.1 985.2,191.2 975.9,197.4 997.5,198.2 1003.0,220.8 981.9,223.5 963.5,224.6 993.3,197.3 1009.3,192.2 1000.3,223.8 972.2,224.1 993.7,197.4 999.2,204.0 975.2,223.5 991.5,223.6 989.8,196.9 982.5,191.8 955.0,212.4 1007.1,222.1 976.8,224.6 985.3,223.6 948.9,219.7 959.9,223.7 962.5,204.8 1005.9,223.7 1000.6,204.0 957.1,208.7 983.5,196.8 949.8,221.4 972.7,197.4 996.4,198.3 984.8,224.0 961.7,204.4 1007.4,201.8 1006.9,211.7 981.4,223.8 972.9,224.4 983.8,199.5 952.4,215.5 990.8,184.5 1011.3,211.6 1002.2,205.3 1010.8,212.2 996.4,223.6 986.1,224.2 979.8,197.5 971.6,224.5 1004.3,206.1 1002.0,195.8 950.2,216.2 969.1,202.1 963.3,204.2 1003.0,222.4 978.7,224.5 1014.7,207.4 948.1,213.0 975.9,192.4"/></g>
<rect class="b" x="944.05" y="182.89" width="78.41" height="43.50"/>
<g clip-path="url(#c1_9)"><path class="f" transform="translate(0 .5)" d="M1057 188h4M1062 192h5M1057 193h13M1055 194h15M1054 195h24M1054 196h24M1054 197h25M1054 198h25M1055 199h27M1055 200h27M1055 201h27M1085 201h1M1054 202h28M1085 202h2M1054 203h28M1085 203h4M1053 204h33M1089 204h2M1094 204h3M1053 205h33M1089 205h4M1096 205h1M1101 205h1M1053 206h33M1089 206h4M1096 206h1M1101 206h2M1052 207h37M1092 207h1M1096 207h9M1052 208h37M1092 208h13M1052 209h37M1092 209h13M1122 209h3M1050 210h55M1124 210h2M1049 211h57M1126 211h1M1049 212h57M1118 212h1M1126 212h2M1048 213h58M1118 213h1M1126 213h2M1048 214h52M1104 214h4M1117 214h2M1048 215h47M1098 215h2M1104 215h4M1116 215h3M1048 216h47M1098 216h2M1104 216h4M1116 216h3M1048 217h47M1098 217h9M1116 217h4M1048 218h47M1098 218h1M1106 218h1M1119 218h5M1048 219h51M1106 219h1M1048 220h51M1048 221h52M1048 222h51M1048 223h42M1093 223h6M1049 224h41M1049 225h37M1050 226h34M1052 227h31M1054 228h20M1078 228h1"/><polyline class="p" points="1055.4,223.2 1066.8,223.4 1061.9,223.8 1053.0,221.4 1111.1,217.5 1059.1,224.1 1052.7,221.5 1089.6,215.9 1094.4,219.5 1089.8,214.7 1055.6,224.1 1052.2,215.8 1075.1,199.2 1083.7,209.3 1062.1,191.2 1097.2,208.1 1056.4,207.9 1058.8,224.6 1071.5,199.2 1062.1,197.3 1056.6,192.2 1077.2,202.9 1101.5,213.3 1052.4,219.0 1063.4,224.1 1058.2,204.8 1073.6,223.5 1087.3,206.8 1058.1,196.9 1074.4,191.8 1054.3,223.4 1051.8,215.5 1080.9,223.4 1094.1,222.5 1061.6,224.6 1053.8,223.6 1052.0,218.9 1083.8,204.8 1107.8,214.8 1051.6,215.9 1052.1,221.5 1098.7,217.1 1090.2,213.8 1084.9,220.9 1068.7,224.0 1055.2,210.8 1099.7,208.4 1052.4,213.5 1086.8,208.6 1051.9,222.1 1105.4,210.8 1057.3,204.2 1064.8,224.4 1086.1,220.8 1102.9,216.2 1058.0,184.5 1098.1,210.8 1121.3,214.8 1054.3,224.2 1072.5,223.9 1100.9,212.2 1066.9,197.5 1080.2,203.2 1122.5,213.5 1100.9,205.8 1064.8,195.8 1078.2,224.1 1072.5,224.5 1093.6,208.6 1123.3,213.0 1067.8,192.4 1052.3,222.9"/></g>
<rect class="b" x="1047.80" y="182.89" width="78.41" height="43.50"/>
<g clip-path="url(#c1_10)"><path class="f" transform="translate(0 .5)" d="M1173 188h1M1181 188h2M1173 189h1M1181 189h2M1181 190h5M1172 191h1M1181 191h5M1172 192h1M1181 192h6M1167 193h11M1181 193h8M1166 194h23M1163 195h26M1162 196h28M1161 197h33M1160 198h34M1160 199h34M1160 200h38M1160 201h42M1160 202h42M1160 203h42M1205 203h6M1160 204h52M1157 205h55M1157 206h56M1157 207h56M1157 208h57M1218 208h3M1157 209h58M1221 209h1M1157 210h58M1222 210h1M1157 211h58M1157 212h61M1223 212h1M1156 213h62M1223 213h1M1155 214h64M1154 215h66M1154 216h69M1153 217h70M1153 218h70M1152 219h71M1152 220h71M1151 221h72M1151 222h71M1151 223h70M1151 224h69M1154 225h62M1154 226h61M1154 227h59M1158 228h35M1196 228h2M1205 228h1"/><polyline class="p" points="1176.1,223.4 1211.7,221.9 1176.4,223.8 1192.1,223.0 1156.7,220.2 1181.9,224.1 1195.5,223.5 1165.6,223.4 1157.4,222.0 1172.6,223.5 1207.3,222.3 1178.8,223.9 1163.0,223.8 1179.0,198.9 1209.6,222.7 1163.9,199.2 1185.0,191.2 1168.4,223.5 1198.4,205.8 1176.2,197.4 1169.9,224.6 1174.5,197.3 1177.9,192.2 1196.6,223.8 1215.5,216.7 1165.6,224.1 1201.8,222.3 1191.0,202.9 1185.5,197.4 1208.9,209.3 1203.9,208.6 1203.7,223.5 1164.2,204.6 1168.7,196.9 1176.4,191.8 1161.8,213.3 1186.2,224.2 1209.8,223.0 1161.0,208.5 1188.6,224.6 1199.8,223.6 1209.3,208.8 1159.6,223.7 1198.5,205.4 1217.6,218.9 1217.6,213.5 1212.4,223.0 1159.1,216.6 1165.2,224.3 1206.5,204.0 1154.5,223.8 1190.4,200.9 1174.1,224.0 1195.8,204.1 1157.4,217.0 1161.3,204.4 1161.7,224.4 1208.2,207.6 1185.0,184.5 1214.9,216.2 1205.2,224.0 1155.2,221.7 1201.4,204.9 1214.3,207.9 1160.7,211.8 1221.8,221.6 1219.0,212.0 1191.5,224.2 1197.9,223.9 1207.0,206.7 1174.0,224.3 1184.7,195.8 1218.7,219.8 1158.1,224.0 1193.4,201.0 1227.0,217.3 1173.1,192.4"/></g>
<rect class="b" x="1151.55" y="182.89" width="78.41" height="43.50"/>
<g clip-path="url(#c2_0)"><path class="f" transform="translate(0 .5)" d="M136 263h2M143 266h2M132 267h1M139 267h6M131 268h2M136 268h9M130 269h15M130 270h17M175 270h1M129 271h21M154 271h5M163 271h5M173 271h7M129 272h21M154 272h28M127 273h57M126 274h66M124 275h64M124 276h64M123 277h63M122 278h64M192 278h2M122 279h64M192 279h2M121 280h68M192 280h1M120 281h69M118 282h71M118 283h73M118 284h66M189 284h2M118 285h64M189 285h1M118 286h64M118 287h61M118 288h59M183 288h1M118 289h51M118 290h50M117 291h51M117 292h45M118 293h44M118 294h44M118 295h44M118 296h44M121 297h29"/><polyline class="p" points="148.5,276.9 123.2,286.8 128.1,292.7 136.3,293.1 135.5,268.6 137.3,293.3 149.3,292.6 140.4,293.0 123.5,293.6 135.6,273.8 130.1,293.6 145.9,292.4 121.3,291.8 126.8,293.6 132.8,272.8 146.5,275.8 128.9,278.5 142.2,293.6 132.6,293.6 165.5,286.8 185.8,285.4 154.4,277.1 126.9,279.4 123.9,282.8 157.3,292.6 137.6,293.5 175.2,274.4 161.2,292.4 122.1,287.5 148.3,293.0 142.4,272.3 171.1,283.9 122.4,284.5 138.0,267.4 179.2,276.1 131.2,275.3 187.7,279.1 184.2,282.9 117.0,286.3 137.9,272.4 157.4,275.1 170.8,284.4 117.3,291.9 159.9,276.2 179.4,281.7 151.8,274.4 154.8,292.0 145.7,270.6 180.0,275.7 139.8,263.8 151.0,292.4 154.6,292.8 164.4,275.6 128.0,277.4 173.8,275.0 176.9,283.8 181.8,276.6 163.2,275.6 179.9,281.9 187.1,281.7 172.7,284.5 150.6,274.3 148.4,293.3 127.3,272.6 126.2,279.1 138.6,253.3 157.9,292.2 123.0,293.6 171.3,275.8 145.0,293.6 162.5,287.6 170.5,288.8 149.4,269.4 189.5,277.8 167.1,275.2 184.2,279.1 139.8,271.4"/></g>
<rect class="b" x="114.05" y="251.73" width="78.41" height="43.50"/>
<g clip-path="url(#c2_1)"><path class="f" transform="translate(0 .5)" d="M233 264h1M223 266h2M221 267h4M220 268h8M232 268h1M219 269h18M219 270h24M219 271h24M246 271h1M219 272h24M246 272h1M218 273h30M218 274h33M219 275h32M219 276h37M219 277h38M218 278h41M218 279h41M218 280h43M264 280h1M218 281h47M217 282h48M217 283h50M217 284h54M217 285h53M217 286h53M217 287h53M217 288h54M217 289h59M217 290h60M218 291h59M284 291h1M218 292h59M284 292h1M219 293h58M284 293h2M220 294h58M284 294h2M221 295h57M284 295h1M222 296h57M224 297h55"/><polyline class="p" points="222.4,289.4 239.7,292.7 224.1,275.1 255.2,293.1 232.4,268.6 249.4,293.3 222.0,289.4 245.6,293.0 247.3,293.6 260.5,292.3 242.2,277.7 222.4,273.8 267.4,293.6 221.8,286.2 230.6,293.2 250.8,280.7 224.4,291.8 257.8,293.6 266.7,290.1 227.0,272.8 281.2,293.6 245.6,293.4 270.0,292.4 268.5,293.6 231.6,293.3 250.8,293.6 261.9,293.6 221.0,284.0 246.5,277.1 270.2,293.6 279.4,293.6 260.1,284.9 251.7,277.6 223.0,291.6 221.9,290.3 239.3,292.9 271.0,289.2 242.5,274.4 221.8,280.2 254.0,280.3 253.0,293.5 236.9,293.0 223.3,272.3 265.9,283.9 228.6,267.4 249.7,279.1 271.1,293.6 244.4,293.5 233.3,293.3 234.9,273.5 241.5,293.6 238.5,293.6 227.0,272.4 239.0,275.1 223.9,292.7 225.1,293.6 222.8,270.6 228.9,263.8 293.3,293.6 230.4,293.5 221.5,289.9 255.0,281.1 273.0,293.6 261.7,285.4 226.5,253.3 265.2,286.7 263.5,279.1 221.2,287.2 258.3,283.8 237.6,273.8 242.0,269.4 262.1,285.1 279.1,290.9"/></g>
<rect class="b" x="217.80" y="251.73" width="78.41" height="43.50"/>
<g clip-path="url(#c2_2)"><text class="l" text-anchor="middle" x="360.45" y="280.00">citric acid</text></g>
<rect class="b" x="321.55" y="251.73" width="78.41" height="43.50"/>
<g clip-path="url(#c2_3)"><path class="f" transform="translate(0 .5)" d="M436 264h2M431 265h1M435 265h3M429 266h3M435 266h4M430 267h2M435 267h2M430 268h7M430 269h7M444 269h1M427 270h20M425 271h26M425 272h28M425 273h28M425 274h29M424 275h30M424 276h31M424 277h33M424 278h35M424 279h34M424 280h34M424 281h34M461 281h1M424 282h34M461 282h1M424 283h38M424 284h38M424 285h37M424 286h36M424 287h35M424 288h35M424 289h35M424 290h34M424 291h33M424 292h31M424 293h30M425 294h27M425 295h24M426 296h21M427 297h10"/><polyline class="p" points="428.8,287.0 428.9,284.8 453.2,284.1 428.6,286.9 428.9,283.0 429.0,279.6 429.2,292.7 430.3,293.1 428.7,279.2 428.5,278.5 428.9,290.1 428.6,283.2 435.4,268.6 430.0,293.3 429.9,293.6 428.7,276.5 434.8,273.8 430.6,293.6 428.5,293.2 432.3,272.8 446.0,292.1 432.9,293.0 428.5,281.8 428.5,288.5 452.0,287.7 454.0,283.3 434.9,273.2 445.9,274.8 440.4,291.5 440.2,292.4 436.7,293.0 433.5,272.3 440.3,267.4 441.7,292.8 462.7,286.8 457.7,282.5 441.2,274.1 444.3,273.5 450.5,279.5 432.7,293.6 431.9,272.4 434.9,293.6 428.7,270.6 450.3,278.0 432.7,263.8 428.4,275.5 450.8,290.3 429.9,253.3 500.8,279.1 453.5,287.3 456.1,281.5 454.0,288.0 449.6,275.0 429.1,273.8 431.3,269.4 437.8,271.4 453.7,280.4"/></g>
<rect class="b" x="425.30" y="251.73" width="78.41" height="43.50"/>
<g clip-path="url(#c2_4)"><path class="f" transform="translate(0 .5)" d="M536 263h4M531 266h3M531 267h5M531 268h7M530 269h8M530 270h11M545 270h1M530 271h23M530 272h24M608 272h1M530 273h25M530 274h25M559 274h4M580 274h2M530 275h34M530 276h35M529 277h38M529 278h38M580 278h2M529 279h38M580 279h2M529 280h40M580 280h1M589 280h1M529 281h47M580 281h1M529 282h47M579 282h2M528 283h54M528 284h54M528 285h52M528 286h51M585 286h1M528 287h51M585 287h1M528 288h51M529 289h50M529 290h50M529 291h33M566 291h13M529 292h33M567 292h7M578 292h1M530 293h31M571 293h2M578 293h1M530 294h31M571 294h2M531 295h30M531 296h29M533 297h20M556 297h2"/><polyline class="p" points="533.0,286.8 540.0,292.7 538.4,293.1 536.2,268.6 538.5,293.3 539.8,293.6 570.0,290.7 584.7,280.7 536.7,273.8 533.8,281.0 535.1,293.2 537.9,293.6 550.0,292.5 557.7,290.9 534.3,272.8 540.5,293.6 545.4,276.0 542.3,293.6 545.1,293.6 572.0,277.7 577.8,277.6 533.9,290.5 533.2,284.0 535.6,293.6 568.8,288.1 532.5,286.5 545.3,274.4 547.1,293.6 534.4,276.0 579.8,289.0 550.2,293.3 532.7,289.2 533.1,282.1 559.6,278.5 533.8,279.0 552.8,292.6 534.9,272.3 533.9,293.3 536.8,267.4 560.4,277.8 574.3,290.9 550.6,276.9 573.9,286.0 569.4,284.7 533.1,278.2 532.0,284.0 533.6,270.6 535.1,263.8 604.5,275.2 582.5,289.9 548.9,275.6 550.7,275.0 556.9,293.4 585.5,281.1 550.5,293.6 562.2,279.1 583.8,277.6 533.5,253.3 582.3,284.1 532.9,291.4 604.4,269.4 548.3,271.4"/></g>
<rect class="b" x="529.05" y="251.73" width="78.41" height="43.50"/>
<g clip-path="url(#c2_5)"><path class="f" transform="translate(0 .5)" d="M644 263h3M644 264h2M643 265h3M641 266h5M651 266h1M638 267h14M638 268h17M637 269h19M636 270h21M635 271h23M633 272h25M633 273h25M633 274h31M633 275h33M632 276h35M632 277h35M632 278h36M632 279h36M632 280h36M632 281h36M632 282h37M632 283h36M632 284h36M632 285h36M632 286h37M632 287h37M632 288h37M632 289h37M632 290h37M632 291h33M632 292h33M632 293h31M632 294h28M633 295h22M633 296h21M635 297h17"/><polyline class="p" points="637.0,283.2 636.5,287.1 657.8,289.4 636.8,291.9 654.4,290.1 636.7,280.3 640.2,292.7 656.4,277.9 639.6,293.1 647.3,268.6 638.5,293.3 640.8,293.0 636.7,284.5 640.1,293.6 636.1,278.9 644.5,292.4 644.2,293.6 636.9,292.9 636.2,293.6 648.5,292.7 636.3,277.5 647.7,293.6 636.1,284.1 649.9,292.8 636.5,289.1 661.8,278.4 639.1,273.2 636.2,292.0 635.9,291.0 655.0,276.3 658.4,290.4 636.1,281.6 639.1,272.3 635.9,277.6 646.0,267.4 651.4,292.9 636.1,286.8 653.5,272.4 637.0,275.1 663.2,286.3 637.0,270.6 648.3,263.8 672.4,286.3 663.1,278.2 644.0,253.3 664.3,286.5 667.7,286.3 661.5,289.6 708.3,287.5 643.5,269.4 648.0,271.4"/></g>
<rect class="b" x="632.80" y="251.73" width="78.41" height="43.50"/>
<g clip-path="url(#c2_6)"><path class="f" transform="translate(0 .5)" d="M762 267h1M754 268h1M758 268h5M766 268h5M753 269h18M746 270h28M740 271h35M738 272h41M737 273h42M787 273h1M737 274h47M787 274h3M736 275h48M790 275h1M736 276h49M790 276h1M736 277h49M790 277h2M735 278h50M790 278h2M735 279h50M790 279h3M736 280h49M790 280h3M736 281h50M789 281h4M736 282h57M736 283h55M736 284h55M736 285h53M735 286h53M735 287h52M735 288h52M735 289h52M735 290h49M735 291h49M736 292h47M736 293h44M736 294h43M736 295h38M737 296h36M738 297h29"/><polyline class="p" points="740.3,283.9 745.1,292.7 752.6,293.1 772.2,291.0 765.5,268.6 741.6,293.3 744.2,293.6 765.2,273.8 745.8,293.6 753.7,293.2 757.8,292.4 740.7,292.6 754.7,293.6 783.5,285.1 755.1,272.8 740.0,292.2 740.5,293.6 741.0,277.4 742.1,276.0 740.1,282.9 777.0,277.2 796.0,284.4 748.2,293.6 740.1,277.5 752.5,293.6 763.1,293.6 740.0,287.0 786.7,282.0 780.5,278.4 751.3,274.4 776.4,289.3 739.8,283.1 766.5,292.4 778.9,277.6 740.0,289.9 759.1,272.3 757.9,293.3 739.6,277.6 758.2,267.4 786.8,277.1 769.9,292.9 776.5,289.6 769.3,273.5 771.6,292.1 765.3,293.6 766.7,272.4 746.6,275.1 739.6,291.7 739.6,290.2 760.3,293.6 744.5,270.6 741.0,275.7 787.6,263.8 740.0,293.6 774.8,276.0 747.9,274.1 740.4,275.6 742.6,275.6 780.4,288.8 789.9,286.3 785.0,277.1 739.5,279.8 777.1,290.3 754.5,272.6 757.3,253.3 739.6,285.9 799.8,286.3 812.0,287.5 772.0,273.8 750.0,269.4 774.0,271.4 788.0,279.3"/></g>
<rect class="b" x="736.55" y="251.73" width="78.41" height="43.50"/>
<g clip-path="url(#c2_7)"><path class="f" transform="translate(0 .5)" d="M853 263h1M849 265h3M859 265h3M847 266h5M858 266h5M845 267h7M856 267h4M863 267h1M845 268h15M863 268h2M845 269h15M863 269h2M845 270h20M842 271h24M843 272h24M843 273h25M843 274h25M843 275h25M842 276h27M842 277h28M841 278h29M841 279h29M841 280h29M841 281h29M840 282h30M840 283h30M840 284h31M840 285h31M840 286h31M839 287h32M839 288h32M839 289h30M839 290h30M840 291h28M840 292h27M840 293h26M840 294h26M844 295h21M844 296h20M844 297h18"/><polyline class="p" points="851.6,292.7 857.9,293.1 846.6,278.5 865.0,284.9 851.4,268.6 853.9,293.3 850.7,293.6 844.7,286.7 864.1,287.6 855.5,293.6 844.1,293.2 849.2,272.8 845.1,279.0 844.2,284.2 844.1,287.0 857.7,293.6 860.2,293.0 845.5,291.3 858.7,273.2 863.8,274.4 862.3,290.3 849.5,293.5 865.5,286.2 855.0,272.3 843.5,287.0 854.8,267.4 843.8,283.8 861.8,292.8 865.7,279.1 875.7,286.8 843.6,289.1 843.7,283.6 846.3,270.6 847.5,263.8 865.7,281.7 847.8,272.6 849.6,253.3 915.8,279.1 864.9,288.8 860.7,269.4 843.7,290.7 860.0,271.4"/></g>
<rect class="b" x="840.30" y="251.73" width="78.41" height="43.50"/>
<g clip-path="url(#c2_8)"><path class="f" transform="translate(0 .5)" d="M969 266h1M952 267h1M961 267h1M969 267h6M952 268h1M960 268h2M965 268h11M952 269h1M960 269h17M952 270h4M959 270h24M951 271h32M951 272h37M950 273h39M950 274h42M948 275h45M948 276h46M948 277h51M947 278h53M946 279h55M946 280h61M946 281h63M946 282h64M946 283h64M946 284h64M945 285h66M945 286h66M945 287h67M946 288h67M946 289h69M947 290h68M948 291h67M949 292h67M953 293h63M957 294h59M959 295h56M962 296h53M968 297h47"/><polyline class="p" points="990.1,292.7 1000.4,279.7 987.8,293.1 999.0,284.2 976.2,292.4 958.1,290.3 966.2,268.6 993.8,293.3 981.4,293.0 985.8,277.7 997.1,293.6 953.3,277.7 954.3,273.8 987.4,293.6 975.8,293.2 973.0,272.8 985.2,293.6 992.7,293.4 979.5,293.3 981.4,293.6 987.2,277.5 1009.3,293.6 962.5,291.6 971.6,292.7 996.9,281.5 974.3,273.2 984.2,277.0 980.3,273.9 1007.1,287.4 990.9,278.7 948.9,286.5 969.0,272.3 979.3,267.4 1005.9,284.4 1000.6,293.6 970.1,292.4 989.2,293.6 971.8,292.9 964.4,274.1 949.8,283.0 953.2,288.9 972.7,293.6 969.9,293.6 979.3,293.6 965.1,272.4 1007.4,293.2 960.0,274.4 955.6,270.6 964.4,263.8 962.6,291.8 1011.3,293.3 950.1,280.3 968.6,293.2 962.3,292.0 950.2,287.9 1000.9,284.0 1010.8,291.8 1004.0,293.3 964.6,292.6 994.5,277.1 984.6,276.7 950.2,288.5 977.3,253.3 1014.7,293.6 986.3,276.3 948.1,269.4 960.9,291.7 973.4,271.4"/></g>
<rect class="b" x="944.05" y="251.73" width="78.41" height="43.50"/>
<g clip-path="url(#c2_9)"><path class="f" transform="translate(0 .5)" d="M1059 265h1M1059 266h1M1056 267h12M1056 268h12M1055 269h13M1053 270h16M1073 270h4M1052 271h29M1051 272h33M1050 273h40M1050 274h40M1050 275h41M1049 276h49M1104 276h2M1049 277h50M1105 277h1M1049 278h50M1105 278h3M1048 279h51M1105 279h3M1048 280h51M1105 280h3M1048 281h60M1048 282h60M1048 283h60M1048 284h57M1108 284h1M1048 285h54M1109 285h1M1126 285h1M1048 286h54M1109 286h1M1048 287h54M1117 287h1M1048 288h55M1117 288h1M1048 289h50M1102 289h1M1048 290h46M1102 290h3M1048 291h46M1102 291h1M1049 292h45M1102 292h1M1049 293h39M1091 293h3M1101 293h1M1050 294h38M1091 294h1M1052 295h33M1096 295h3M1053 296h32M1054 297h26"/><polyline class="p" points="1053.0,289.3 1066.5,292.7 1066.1,293.1 1111.1,281.5 1056.9,268.6 1061.6,293.3 1075.9,292.8 1060.7,293.6 1052.7,286.3 1089.6,290.7 1094.4,280.7 1066.6,293.6 1055.1,293.2 1062.8,293.6 1052.2,285.6 1057.4,272.8 1054.0,278.8 1097.2,291.2 1070.9,292.8 1070.1,276.0 1075.4,293.3 1053.4,277.5 1071.5,293.6 1056.6,293.6 1101.5,277.7 1053.1,279.2 1053.2,291.3 1087.3,292.9 1066.1,273.2 1073.1,274.4 1074.4,293.6 1053.7,274.8 1051.8,287.2 1087.6,278.2 1094.1,279.7 1078.9,292.3 1052.2,280.7 1074.8,273.9 1107.8,282.7 1063.3,267.4 1051.6,284.0 1052.1,289.0 1098.7,290.9 1081.4,276.9 1093.7,286.0 1090.6,276.8 1099.7,284.7 1105.4,286.3 1059.1,270.6 1059.3,263.8 1093.1,275.2 1086.1,277.3 1102.9,280.3 1098.1,289.9 1121.3,287.5 1080.3,275.6 1090.2,288.3 1100.9,287.5 1076.7,293.4 1080.2,292.9 1122.5,286.6 1100.9,281.1 1064.2,253.3 1052.2,290.9 1083.9,291.2 1081.7,275.8 1123.3,269.4 1064.8,271.4"/></g>
<rect class="b" x="1047.80" y="251.73" width="78.41" height="43.50"/>
<g clip-path="url(#c2_10)"><path class="f" transform="translate(0 .5)" d="M1192 263h1M1196 266h1M1162 267h3M1195 267h3M1160 268h5M1172 268h2M1180 268h2M1194 268h4M1165 269h1M1170 269h5M1179 269h4M1193 269h5M1207 269h2M1159 270h1M1165 270h20M1192 270h6M1201 270h1M1207 270h2M1159 271h1M1165 271h45M1157 272h54M1156 273h56M1155 274h57M1216 274h2M1154 275h58M1155 276h59M1155 277h59M1221 277h1M1155 278h60M1221 278h1M1154 279h61M1221 279h1M1154 280h65M1154 281h65M1222 281h2M1154 282h65M1152 283h69M1152 284h69M1151 285h70M1151 286h70M1151 287h72M1152 288h71M1153 289h66M1154 290h65M1155 291h63M1155 292h61M1155 293h59M1159 294h55M1159 295h52M1159 296h51M1162 297h47"/><polyline class="p" points="1175.2,292.7 1208.7,279.6 1168.5,293.1 1156.7,284.9 1193.0,268.6 1198.3,293.3 1179.6,292.8 1176.9,293.6 1157.4,287.6 1163.7,292.4 1163.0,273.8 1179.0,293.6 1205.7,293.2 1185.6,292.4 1174.3,293.6 1194.9,272.8 1208.7,279.0 1186.1,292.9 1185.0,293.6 1172.4,293.4 1203.7,292.8 1187.8,293.3 1166.6,293.6 1170.0,293.6 1192.7,292.5 1215.5,277.6 1191.0,293.6 1208.9,291.9 1162.8,273.2 1207.1,274.4 1159.8,290.3 1197.4,293.5 1164.8,293.3 1169.9,273.9 1215.5,285.4 1159.6,277.6 1217.6,279.1 1209.9,279.9 1172.6,272.3 1212.4,277.6 1192.3,267.4 1217.6,279.3 1159.1,292.8 1206.5,293.6 1154.5,279.5 1180.7,274.1 1188.5,293.5 1181.4,273.5 1158.4,279.5 1180.8,272.4 1197.3,274.4 1197.4,270.6 1158.7,275.7 1208.1,263.8 1164.3,277.0 1162.7,293.3 1214.9,288.2 1181.1,293.6 1155.2,286.4 1201.4,293.6 1221.8,284.6 1193.3,293.6 1219.0,293.1 1210.4,279.4 1216.3,286.0 1204.1,272.6 1198.6,253.3 1218.7,284.5 1183.2,273.8 1169.2,269.4 1227.0,277.8 1162.7,271.4"/></g>
<rect class="b" x="1151.55" y="251.73" width="78.41" height="43.50"/>
<g clip-path="url(#c3_0)"><path class="f" transform="translate(0 .5)" d="M131 342h3M129 343h8M129 344h18M128 345h23M125 346h28M123 347h31M122 348h33M120 349h35M119 350h36M119 351h37M118 352h39M118 353h41M118 354h49M118 355h50M172 355h6M187 355h1M116 356h63M186 356h3M118 357h72M118 358h73M118 359h68M189 359h2M118 360h68M189 360h3M117 361h69M189 361h3M117 362h69M189 362h3M117 363h75M117 364h74M115 365h75M117 366h1M121 366h47M179 366h1"/><polyline class="p" points="130.7,362.1 129.5,362.0 143.5,361.6 136.2,348.6 139.9,361.5 127.2,362.2 132.1,362.0 134.5,361.9 147.4,361.7 151.0,361.5 139.7,361.8 155.8,361.7 148.8,362.2 139.1,362.2 144.1,362.0 160.9,361.6 141.5,362.3 123.5,361.5 161.6,361.8 125.5,362.3 147.4,362.4 175.0,361.5 165.3,362.0 172.6,360.3 137.0,362.4 121.3,362.0 151.3,361.9 129.8,362.3 177.0,361.0 139.2,362.3 171.8,360.4 185.8,361.5 132.3,362.3 134.0,362.4 169.8,361.2 122.5,352.4 139.5,348.8 131.0,349.3 155.5,361.9 171.1,361.6 135.5,348.1 145.1,362.3 175.2,359.9 129.0,349.4 150.4,349.5 122.6,362.3 159.4,362.2 122.4,358.9 179.2,361.5 166.7,361.9 187.7,361.5 141.6,343.3 131.9,346.1 139.5,348.1 184.2,361.5 176.2,358.9 117.0,362.0 122.2,356.0 117.3,360.2 179.4,362.1 168.5,360.5 127.1,362.4 181.8,361.2 145.1,348.7 187.1,360.2 153.0,355.3 145.6,348.3 173.4,359.2 158.5,358.7 125.6,350.4 154.1,354.9 156.8,356.7 141.0,322.2 149.9,362.3 165.3,358.2 160.5,358.1 189.5,358.2"/></g>
<rect class="b" x="114.05" y="320.57" width="78.41" height="43.50"/>
<g clip-path="url(#c3_1)"><path class="f" transform="translate(0 .5)" d="M228 343h3M235 343h2M226 344h12M242 344h5M225 345h24M223 346h27M220 347h31M219 348h33M218 349h38M218 350h42M218 351h41M217 352h42M217 353h42M217 354h45M265 354h3M217 355h52M217 356h53M217 357h55M277 357h1M217 358h60M217 359h60M284 359h1M217 360h60M284 360h1M217 361h60M284 361h2M217 362h60M284 362h2M217 363h60M284 363h1M218 364h59M284 364h1M219 365h56M220 366h41"/><polyline class="p" points="250.0,362.1 232.7,362.0 229.8,348.6 242.8,361.5 225.2,350.8 236.4,362.2 258.3,361.3 223.6,361.9 230.4,361.8 225.4,362.0 228.2,362.0 239.7,361.9 255.2,361.3 223.9,362.3 246.4,361.6 222.0,358.0 244.3,362.0 225.7,349.9 260.5,361.7 236.9,362.4 242.3,362.0 222.3,361.5 267.4,361.1 227.2,362.4 221.8,359.6 230.6,362.3 257.8,361.8 266.7,361.3 224.4,350.2 252.2,361.8 281.2,361.7 270.0,361.3 251.1,352.2 221.0,360.4 266.9,361.7 279.4,360.6 222.4,362.4 221.9,353.7 247.2,348.8 270.1,361.7 228.0,348.1 242.9,362.3 263.5,361.8 271.0,361.4 239.4,349.4 280.2,361.7 247.2,361.9 266.1,358.2 221.0,362.3 264.0,361.9 233.0,362.4 256.6,358.0 221.5,351.9 232.8,343.3 238.0,346.1 257.4,354.2 258.2,358.3 254.7,361.9 293.3,361.5 257.2,361.9 254.5,353.1 221.7,351.0 221.3,354.9 273.0,361.8 240.7,362.3 261.7,353.3 263.5,322.2 225.3,362.4 228.9,347.0 245.0,348.1 259.6,361.9 279.1,361.0"/></g>
<rect class="b" x="217.80" y="320.57" width="78.41" height="43.50"/>
<g clip-path="url(#c3_2)"><path class="f" transform="translate(0 .5)" d="M342 342h4M342 343h6M332 344h18M332 345h19M329 346h29M328 347h32M327 348h35M325 349h37M324 350h39M324 351h40M323 352h42M322 353h47M322 354h47M322 355h47M322 356h47M321 357h48M375 357h1M320 358h49M320 359h49M373 359h1M320 360h47M373 360h1M320 361h47M371 361h3M320 362h47M371 362h1M321 363h45M371 363h1M321 364h45M369 364h1M322 365h44M324 366h37M365 366h2"/><polyline class="p" points="336.5,362.1 340.3,362.0 341.5,348.6 344.3,361.6 327.5,361.4 343.6,362.1 354.6,361.5 349.7,362.0 330.3,361.6 326.1,361.9 325.4,361.3 351.8,362.3 330.8,362.1 347.3,362.0 369.5,358.5 325.0,361.4 334.6,362.3 324.5,361.5 336.7,362.3 340.4,362.4 355.3,362.2 324.5,361.1 325.2,362.3 362.0,360.2 327.1,352.6 324.5,360.6 338.3,348.8 328.7,362.3 358.3,352.6 337.5,348.5 326.6,355.8 325.5,357.7 343.2,362.3 333.1,362.4 363.0,359.5 371.8,355.7 325.9,355.0 336.7,343.3 344.4,346.1 360.6,353.5 349.9,350.1 362.7,360.4 349.7,362.3 346.3,362.3 324.5,358.7 365.9,362.2 352.6,350.2 378.2,360.0 357.7,361.7 324.5,362.0 358.3,361.8 357.1,362.4 330.4,349.9 397.0,361.5 350.7,322.2 335.8,348.4 346.4,347.0 334.5,348.1 358.0,350.6 360.2,362.0 368.2,360.7 364.5,357.1"/></g>
<rect class="b" x="321.55" y="320.57" width="78.41" height="43.50"/>
<g clip-path="url(#c3_3)"><text class="l" text-anchor="middle" x="464.20" y="347.00">residual sugar</text></g>
<rect class="b" x="425.30" y="320.57" width="78.41" height="43.50"/>
<g clip-path="url(#c3_4)"><path class="f" transform="translate(0 .5)" d="M533 342h4M533 343h5M532 344h10M531 345h12M552 345h1M530 346h15M552 346h2M530 347h19M530 348h22M555 348h1M529 349h23M555 349h1M529 350h27M529 351h28M529 352h29M529 353h31M529 354h31M529 355h31M569 355h5M528 356h34M569 356h7M583 356h3M528 357h59M528 358h60M528 359h54M585 359h4M528 360h54M588 360h2M528 361h54M588 361h2M529 362h53M588 362h2M529 363h54M588 363h2M529 364h54M587 364h2M530 365h53M586 365h2M532 366h26"/><polyline class="p" points="535.6,362.1 537.1,362.0 534.1,361.6 552.3,361.5 538.4,362.2 548.3,361.6 541.3,361.7 533.0,356.9 543.7,361.8 535.9,362.3 542.9,350.7 542.1,362.0 533.4,362.0 570.0,361.3 584.7,360.3 534.1,351.8 534.2,362.3 533.2,362.1 557.7,361.7 542.2,362.3 533.3,351.3 533.5,350.3 552.0,351.4 572.0,360.1 577.8,361.9 551.0,361.9 568.8,361.8 538.9,348.1 572.4,361.0 539.3,362.3 547.6,361.8 532.5,359.8 579.8,360.6 559.6,361.4 534.9,348.5 544.9,362.2 560.4,361.9 574.3,361.7 537.3,343.3 535.1,346.1 532.3,360.5 560.0,361.2 550.4,362.3 556.1,356.1 569.4,361.0 557.1,362.0 532.0,357.1 549.5,353.7 542.5,350.1 604.5,361.7 582.5,361.6 541.7,349.3 565.8,357.9 548.1,351.6 533.0,362.3 551.4,349.3 532.6,362.2 533.2,349.9 585.5,361.8 567.0,361.0 547.3,362.4 572.6,359.1 562.2,361.5 539.8,322.2 582.3,361.6 563.4,355.5 534.3,347.0 554.1,353.9 563.4,361.6 604.4,360.7 554.5,362.2"/></g>
<rect class="b" x="529.05" y="320.57" width="78.41" height="43.50"/>
<g clip-path="url(#c3_5)"><path class="f" transform="translate(0 .5)" d="M649 342h1M644 343h6M639 344h1M643 344h7M639 345h18M639 346h19M662 346h2M638 347h28M635 348h32M635 349h33M634 350h34M633 351h35M633 352h35M633 353h35M633 354h35M632 355h37M632 356h39M632 357h37M632 358h36M632 359h36M632 360h35M632 361h35M632 362h34M632 363h33M633 364h31M634 365h27M635 366h23"/><polyline class="p" points="642.5,362.1 638.9,362.0 637.8,361.6 637.0,359.7 637.9,362.0 636.5,361.7 644.8,361.8 650.3,361.3 637.8,354.7 658.1,351.4 648.5,361.8 647.6,362.0 650.2,362.0 637.2,356.3 637.7,362.3 636.1,361.8 641.6,362.4 639.6,351.4 644.8,362.4 636.8,356.1 652.6,362.4 655.0,361.8 642.8,349.9 651.3,348.8 644.3,348.1 636.2,360.8 661.8,351.2 654.8,349.3 635.9,361.8 636.4,355.6 659.0,360.9 657.6,361.9 660.2,361.0 641.6,349.5 644.3,343.3 652.1,346.1 647.1,362.3 637.0,352.6 649.5,362.3 663.2,359.1 636.9,362.4 655.5,349.3 672.4,351.1 636.2,357.5 663.1,350.3 635.7,361.7 664.3,355.7 637.5,322.2 667.7,353.2 645.8,347.0 661.5,360.6 708.3,361.0 639.0,348.3"/></g>
<rect class="b" x="632.80" y="320.57" width="78.41" height="43.50"/>
<g clip-path="url(#c3_6)"><path class="f" transform="translate(0 .5)" d="M764 342h3M763 343h6M759 344h18M757 345h25M755 346h29M753 347h32M749 348h37M747 349h39M745 350h41M744 351h42M743 352h43M743 353h44M738 354h51M737 355h53M736 356h56M736 357h56M736 358h56M736 359h50M789 359h3M736 360h49M789 360h3M736 361h49M736 362h49M736 363h46M737 364h44M738 365h42M740 366h38"/><polyline class="p" points="764.3,362.1 754.0,362.0 770.5,348.6 740.3,361.2 758.1,362.2 744.7,361.6 749.2,361.3 751.0,362.0 741.3,361.4 741.3,361.7 745.1,361.9 755.5,352.0 770.6,361.3 778.5,359.2 767.3,362.0 772.5,362.0 760.3,362.1 758.3,362.3 741.2,361.8 751.0,362.3 783.5,355.7 747.8,362.2 740.0,361.3 769.4,362.1 773.3,362.0 740.1,361.5 768.8,362.3 796.0,361.8 755.8,362.4 739.9,361.8 786.7,357.6 780.0,348.8 761.4,362.4 777.4,361.9 753.5,351.3 744.7,362.3 746.9,353.5 781.6,349.5 749.1,362.3 753.5,362.3 739.6,361.4 779.8,359.2 767.9,343.3 765.8,346.1 764.8,362.3 744.0,362.4 739.6,361.7 742.5,358.0 756.4,350.2 776.4,348.9 787.6,360.0 750.2,352.3 789.9,351.1 785.0,357.7 765.2,322.2 747.2,362.4 739.6,357.7 799.8,353.2 741.2,362.3 775.6,348.1 812.0,361.0 759.3,348.3 788.0,354.5"/></g>
<rect class="b" x="736.55" y="320.57" width="78.41" height="43.50"/>
<g clip-path="url(#c3_7)"><path class="f" transform="translate(0 .5)" d="M860 342h3M859 343h5M858 344h8M857 345h10M855 346h13M854 347h15M853 348h17M851 349h19M850 350h20M848 351h22M846 352h24M845 353h25M844 354h25M844 355h25M844 356h25M843 357h26M843 358h26M841 359h29M840 360h30M840 361h30M839 362h31M840 363h30M840 364h29M841 365h27M842 366h20"/><polyline class="p" points="847.2,362.1 849.8,362.0 859.6,348.6 858.0,361.5 851.5,361.9 854.5,361.7 859.5,361.5 845.2,361.3 860.7,361.4 863.5,361.3 846.6,362.3 855.0,362.1 865.0,350.7 845.7,362.3 857.8,361.8 844.7,362.3 844.1,362.3 855.0,352.2 848.3,355.3 852.9,352.4 863.1,348.1 859.7,361.8 857.2,349.4 864.9,349.5 864.0,354.2 865.5,361.0 843.5,362.4 861.1,361.9 865.7,361.5 875.7,343.3 861.2,346.1 865.6,351.9 864.1,348.1 850.7,362.3 846.7,359.1 865.7,360.2 865.5,349.3 915.8,322.2"/></g>
<rect class="b" x="840.30" y="320.57" width="78.41" height="43.50"/>
<g clip-path="url(#c3_8)"><path class="f" transform="translate(0 .5)" d="M964 342h3M962 343h10M958 344h18M982 344h1M956 345h29M955 346h31M950 347h42M948 348h49M947 349h50M947 350h56M946 351h58M946 352h59M945 353h61M945 354h61M945 355h62M945 356h65M945 357h67M945 358h70M945 359h70M944 360h1M948 360h67M944 361h1M948 361h68M948 362h68M945 363h70M946 364h68M951 365h63M954 366h53"/><polyline class="p" points="983.8,362.1 970.5,362.0 962.0,361.6 981.2,362.2 993.3,361.3 975.1,362.0 966.9,361.7 985.0,351.6 990.7,361.3 978.8,362.0 990.1,361.9 959.2,362.2 1000.4,355.0 988.1,351.9 957.2,362.2 988.8,362.1 997.1,361.5 969.8,362.3 964.6,361.8 957.0,349.9 991.5,362.1 972.9,362.4 999.6,362.0 954.5,361.5 996.7,362.4 1002.9,356.8 1004.3,362.3 967.5,362.3 962.2,361.8 1006.2,360.0 976.0,362.3 996.0,353.7 980.1,362.3 1009.3,360.6 992.0,362.3 1000.3,362.4 956.2,349.9 974.8,348.8 988.6,362.4 958.9,348.1 998.8,354.0 977.7,362.3 954.0,350.9 954.8,362.1 985.8,362.4 948.9,354.9 998.6,351.7 1005.9,362.1 981.1,349.5 971.1,343.3 965.0,346.1 983.6,362.4 950.4,352.9 964.3,362.4 952.4,361.0 1011.3,361.5 950.1,360.8 950.4,351.4 992.7,351.9 989.5,350.7 975.3,348.7 1002.1,355.2 984.7,322.2 1014.7,362.1 982.5,348.4 969.9,347.0 948.1,360.7"/></g>
<rect class="b" x="944.05" y="320.57" width="78.41" height="43.50"/>
<g clip-path="url(#c3_9)"><path class="f" transform="translate(0 .5)" d="M1060 341h1M1057 342h4M1056 343h6M1055 344h8M1069 344h3M1053 345h20M1053 346h25M1052 347h27M1052 348h28M1051 349h30M1050 350h31M1049 351h33M1048 352h35M1048 353h36M1048 354h39M1048 355h40M1048 356h41M1094 356h2M1100 356h3M1048 357h64M1125 357h1M1048 358h59M1126 358h1M1048 359h59M1118 359h1M1126 359h1M1048 360h59M1116 360h3M1127 360h1M1048 361h59M1116 361h3M1127 361h1M1048 362h59M1116 362h3M1048 363h59M1118 363h1M1126 363h1M1049 364h58M1050 365h62M1052 366h31"/><polyline class="p" points="1063.3,362.1 1061.4,362.0 1058.1,361.6 1082.7,361.5 1067.7,362.2 1058.5,361.9 1071.7,361.7 1076.2,361.5 1072.7,361.8 1053.0,360.1 1057.4,362.0 1111.1,361.3 1055.9,350.7 1072.2,362.0 1052.7,356.0 1089.6,361.3 1094.4,360.3 1065.5,362.4 1089.8,361.6 1079.3,361.6 1055.1,362.3 1052.2,353.5 1054.0,362.2 1063.2,362.3 1083.7,361.5 1097.2,361.6 1074.8,361.9 1101.5,360.1 1060.0,362.4 1079.6,361.9 1052.4,361.9 1093.5,361.9 1056.7,348.8 1062.4,349.3 1056.2,348.1 1077.0,361.8 1086.9,361.7 1066.7,349.4 1067.9,362.4 1051.8,359.9 1079.2,354.3 1080.9,362.3 1076.7,350.4 1052.0,362.0 1082.3,357.6 1086.7,361.9 1071.1,362.3 1107.8,361.3 1051.6,355.6 1056.4,362.3 1098.7,361.7 1057.2,343.3 1058.4,346.1 1070.3,348.1 1073.8,362.3 1090.6,361.1 1086.8,360.0 1105.4,361.5 1102.9,361.1 1121.3,361.5 1052.7,362.3 1100.9,361.7 1122.5,361.6 1079.1,353.7 1100.9,361.8 1054.9,350.1 1069.9,322.2 1084.7,357.7 1059.7,347.0 1076.4,362.3 1123.3,360.7"/></g>
<rect class="b" x="1047.80" y="320.57" width="78.41" height="43.50"/>
<g clip-path="url(#c3_10)"><path class="f" transform="translate(0 .5)" d="M1176 343h1M1184 343h2M1161 344h9M1174 344h7M1184 344h3M1194 344h2M1159 345h39M1156 346h43M1155 347h44M1153 348h50M1152 349h52M1151 350h58M1153 351h57M1153 352h59M1153 353h60M1153 354h60M1151 355h66M1153 356h65M1153 357h69M1153 358h69M1153 359h70M1152 360h71M1153 361h71M1155 362h69M1155 363h70M1156 364h68M1157 365h64M1161 366h53"/><polyline class="p" points="1198.9,362.1 1167.5,362.0 1191.4,361.6 1185.4,348.6 1181.8,361.5 1183.0,362.2 1178.5,361.6 1172.0,361.9 1200.6,362.0 1194.9,361.6 1211.7,361.3 1185.9,362.1 1175.2,361.9 1192.8,362.2 1159.3,361.3 1162.8,361.3 1178.8,362.0 1192.1,362.3 1162.0,362.1 1195.8,362.1 1156.7,350.7 1203.6,362.3 1171.0,362.3 1157.4,349.9 1183.1,362.4 1188.2,362.0 1205.7,362.3 1165.6,362.0 1209.6,362.0 1196.7,362.3 1207.1,354.2 1203.9,353.6 1209.7,362.3 1215.5,361.2 1169.7,349.9 1189.5,348.8 1185.1,362.4 1162.3,348.1 1200.7,351.9 1193.2,349.4 1187.1,362.4 1174.2,348.5 1209.3,355.8 1198.2,362.4 1217.6,361.6 1217.6,362.0 1212.4,362.3 1175.6,362.3 1201.8,362.3 1162.9,343.3 1173.6,346.1 1154.5,351.9 1164.0,348.1 1190.7,362.3 1157.4,359.1 1158.7,361.7 1161.7,362.3 1179.8,362.3 1214.9,359.1 1155.2,358.0 1164.0,362.4 1221.8,360.7 1219.0,361.4 1179.0,348.7 1194.1,362.4 1195.0,348.3 1193.4,322.2 1183.9,347.0 1166.6,348.1 1227.0,358.2"/></g>
<rect class="b" x="1151.55" y="320.57" width="78.41" height="43.50"/>
<g clip-path="url(#c4_0)"><path class="f" transform="translate(0 .5)" d="M140 396h2M140 397h2M139 398h5M138 399h5M138 400h1M137 401h2M146 401h1M137 402h2M146 402h3M136 403h3M143 403h6M136 404h3M143 404h6M152 404h3M136 405h21M136 406h16M155 406h3M131 407h18M156 407h2M131 408h18M157 408h1M131 409h18M152 409h1M157 409h1M130 410h2M136 410h14M127 411h5M136 411h14M127 412h5M136 412h14M127 413h29M125 414h32M170 414h1M125 415h32M167 415h4M125 416h32M165 416h2M170 416h5M125 417h42M170 417h7M125 418h42M173 418h5M123 419h47M173 419h5M123 420h47M173 420h6M121 421h61M187 421h3M120 422h72M119 423h74M117 424h69M189 424h5M117 425h69M189 425h5M117 426h69M189 426h5M117 427h69M189 427h4M118 428h68M189 428h4M118 429h68M189 429h2M118 430h70M118 431h66M118 432h44M166 432h7M176 432h6M118 433h43M178 433h3M121 434h29M132 435h5"/><polyline class="p" points="143.5,430.1 136.1,429.8 127.7,430.1 139.8,430.0 125.2,429.9 132.6,430.2 123.2,430.7 141.0,430.4 134.9,430.5 161.6,427.2 138.3,430.5 148.3,410.2 142.4,402.0 161.8,427.9 172.6,427.1 121.3,426.5 147.5,429.9 129.4,417.0 153.3,429.5 132.1,430.4 134.2,417.6 130.4,430.6 171.8,425.5 165.5,427.7 185.8,426.6 152.3,409.1 147.8,405.9 154.5,420.3 171.1,428.5 139.9,410.9 160.8,417.9 140.8,408.8 134.5,431.0 158.6,429.8 175.2,423.9 162.1,420.8 140.0,404.8 127.5,421.2 140.5,430.9 122.1,428.5 166.3,416.0 146.5,430.3 125.0,423.2 148.2,430.2 122.1,429.6 166.7,415.5 146.4,407.8 187.7,425.9 163.8,420.9 136.2,431.1 167.8,420.7 184.2,426.9 153.7,408.0 151.4,410.5 117.0,428.6 127.4,430.6 170.8,428.9 175.4,427.4 117.3,429.2 179.4,429.4 134.9,431.3 172.5,421.2 140.4,391.0 143.6,403.2 173.8,420.9 181.8,426.5 133.2,412.5 168.8,418.8 131.2,411.0 187.1,425.5 165.8,427.9 174.2,420.3 127.0,417.5 131.6,430.9 145.1,430.8 141.4,401.6 136.2,411.8 135.0,408.8 126.2,414.5 147.1,402.5 147.6,430.7 136.3,413.8 181.2,425.5 149.4,391.1 122.7,424.5 189.5,425.5 152.1,414.7"/></g>
<rect class="b" x="114.05" y="389.41" width="78.41" height="43.50"/>
<g clip-path="url(#c4_1)"><path class="f" transform="translate(0 .5)" d="M239 387h1M244 399h3M250 399h2M246 400h1M250 400h3M246 401h1M250 401h1M246 402h1M246 403h1M232 404h6M246 404h1M255 404h1M230 405h9M242 405h5M255 405h1M228 406h11M242 406h5M252 406h4M228 407h13M244 407h5M255 407h1M227 408h14M244 408h5M227 409h14M244 409h6M228 410h22M228 411h22M253 411h2M228 412h22M253 412h2M227 413h23M253 413h8M227 414h39M225 415h39M224 416h40M222 417h42M270 417h1M221 418h44M270 418h1M219 419h47M270 419h1M277 419h1M219 420h52M277 420h1M218 421h55M277 421h1M218 422h61M218 423h61M282 423h3M218 424h59M283 424h2M217 425h60M283 425h2M217 426h60M283 426h3M217 427h60M284 427h2M217 428h60M284 428h1M217 429h60M217 430h60M218 431h54M276 431h2M282 431h1M218 432h51M219 433h49M221 434h32M223 435h12"/><polyline class="p" points="250.0,429.3 223.5,429.9 237.8,429.9 238.0,430.2 252.1,429.4 226.6,430.7 222.0,429.4 244.9,429.4 230.7,430.4 236.8,410.2 230.2,402.0 267.4,427.1 221.8,429.6 235.7,430.5 230.6,430.6 247.7,417.0 244.9,429.7 266.7,419.3 281.2,426.5 270.0,424.3 237.3,430.6 221.0,428.4 225.1,420.2 266.9,424.0 270.2,427.3 279.4,428.8 241.4,409.1 251.7,405.9 225.0,430.6 260.1,429.3 232.4,410.9 240.1,408.8 234.4,431.0 257.1,428.8 280.2,422.9 242.5,404.8 248.5,429.7 260.8,421.2 229.7,430.9 266.1,429.5 221.0,429.1 223.0,430.4 242.5,429.9 221.5,430.3 234.6,407.8 226.2,431.1 264.9,418.3 250.7,415.7 233.3,408.0 250.2,410.5 229.1,417.9 224.7,431.3 251.6,417.9 251.9,429.9 221.4,425.3 236.7,391.0 293.3,422.7 246.0,403.2 253.1,429.8 242.4,430.3 222.7,430.9 255.0,401.6 273.0,421.0 246.1,430.0 228.9,411.8 231.3,408.8 261.7,429.3 242.6,402.5 222.1,421.8 249.8,403.4 258.3,416.6 225.7,413.8 231.3,413.8 250.0,430.2 242.0,391.1 265.0,423.2 262.1,421.5 279.1,426.5"/></g>
<rect class="b" x="217.80" y="389.41" width="78.41" height="43.50"/>
<g clip-path="url(#c4_2)"><path class="f" transform="translate(0 .5)" d="M331 399h1M343 399h2M336 402h1M327 403h2M336 403h1M349 403h3M327 404h3M336 404h4M349 404h2M326 405h4M333 405h11M349 405h2M326 406h20M349 406h2M330 407h15M330 408h15M333 409h12M333 410h18M333 411h24M330 412h27M325 413h32M325 414h32M325 415h32M324 416h34M323 417h37M321 418h41M321 419h41M321 420h41M320 421h43M320 422h43M320 423h43M320 424h44M320 425h44M368 425h1M320 426h49M374 426h2M320 427h47M320 428h47M320 429h47M320 430h48M321 431h47M374 431h1M322 432h46M374 432h1M323 433h47M324 434h35M362 434h5M336 435h7"/><polyline class="p" points="334.6,430.1 349.1,429.4 341.9,430.0 336.7,430.7 357.8,429.1 346.0,429.5 346.7,429.9 329.2,429.7 369.5,429.0 325.0,427.7 324.5,426.9 339.4,430.5 329.7,410.2 347.7,402.0 349.7,429.9 360.2,428.7 347.1,430.3 325.2,429.5 324.5,428.0 330.1,430.0 329.3,417.0 362.0,430.0 350.8,430.0 324.5,425.6 324.5,424.0 324.5,428.8 353.1,409.1 333.2,430.3 353.4,405.9 341.7,430.6 324.5,429.3 334.3,410.9 338.0,408.8 337.3,431.0 355.3,429.5 332.4,430.5 359.0,423.9 324.5,422.9 356.3,429.9 332.8,404.8 325.0,421.2 332.4,430.9 345.3,430.7 351.7,416.0 329.9,430.4 326.3,419.8 349.2,430.4 353.7,430.0 363.0,429.7 325.0,430.2 371.8,428.6 352.9,415.5 329.3,407.8 338.2,408.0 340.5,410.5 352.3,430.7 341.8,431.3 327.8,417.9 365.9,430.4 378.2,429.6 357.7,391.0 334.7,409.1 331.1,403.2 324.5,429.8 357.9,420.9 324.9,417.5 347.1,401.6 324.5,421.0 341.9,411.8 350.6,414.5 353.3,402.5 397.0,430.4 358.0,430.1 341.5,403.4 328.4,430.8 368.2,391.1 364.5,422.2"/></g>
<rect class="b" x="321.55" y="389.41" width="78.41" height="43.50"/>
<g clip-path="url(#c4_3)"><path class="f" transform="translate(0 .5)" d="M426 389h1M426 390h1M435 390h1M425 391h2M435 391h1M426 392h1M435 392h1M426 393h1M428 396h5M428 397h5M427 398h7M426 399h9M426 400h10M425 401h11M425 402h12M425 403h12M425 404h12M425 405h12M425 406h13M425 407h13M425 408h14M425 409h14M425 410h13M425 411h13M425 412h13M425 413h13M425 414h17M425 415h20M425 416h27M425 417h27M425 418h27M425 419h27M425 420h28M424 421h29M424 422h30M424 423h32M424 424h33M424 425h36M424 426h36M424 427h37M424 428h38M424 429h38M424 430h38M424 431h38M425 432h37M426 433h34M427 434h30M429 435h10"/><polyline class="p" points="428.8,429.3 429.7,430.1 429.9,420.0 440.0,429.8 449.3,429.4 428.6,427.7 429.1,430.0 438.1,430.7 444.2,429.5 444.0,429.9 428.5,429.1 449.3,425.2 428.5,429.5 433.0,430.4 429.0,430.5 439.7,430.5 446.8,429.8 432.0,402.0 447.3,430.1 428.8,430.6 429.6,417.0 450.2,430.0 428.5,425.6 448.2,430.6 450.2,430.4 448.1,420.2 432.5,409.1 429.3,405.9 429.2,420.7 441.8,430.6 429.3,410.9 454.0,427.4 433.0,431.0 444.5,430.4 436.5,430.9 453.3,429.7 428.6,424.1 429.3,415.5 462.7,428.4 457.7,429.6 428.4,421.0 439.6,417.9 429.0,417.3 428.5,430.4 437.9,431.3 429.5,391.0 429.7,403.2 452.0,425.9 453.0,429.9 436.4,412.5 428.4,430.7 451.8,420.5 428.6,430.9 429.4,401.6 434.2,408.8 500.8,426.9 440.7,413.8 456.1,430.0 443.7,419.0 431.3,391.1"/></g>
<rect class="b" x="425.30" y="389.41" width="78.41" height="43.50"/>
<g clip-path="url(#c4_4)"><text class="l" text-anchor="middle" x="567.95" y="418.00">chlorides</text></g>
<rect class="b" x="529.05" y="389.41" width="78.41" height="43.50"/>
<g clip-path="url(#c4_5)"><path class="f" transform="translate(0 .5)" d="M640 395h1M639 396h5M639 397h5M639 398h6M638 399h5M646 399h1M640 400h3M646 400h2M636 401h1M640 401h3M646 401h3M636 402h1M640 402h9M635 403h2M640 403h10M635 404h15M635 405h15M635 406h15M634 407h16M633 408h18M633 409h18M633 410h19M634 411h19M634 412h16M653 412h1M634 413h16M653 413h2M633 414h17M653 414h2M633 415h22M633 416h22M632 417h25M632 418h26M632 419h31M632 420h33M632 421h33M632 422h34M632 423h34M632 424h36M632 425h37M632 426h37M632 427h37M632 428h37M632 429h37M632 430h37M632 431h37M633 432h36M634 433h31M636 434h23M643 435h4"/><polyline class="p" points="637.8,430.1 637.0,427.6 643.9,430.1 649.8,429.4 640.2,430.0 636.5,421.4 650.3,429.9 646.2,430.2 636.7,427.1 652.8,430.7 658.1,429.3 636.7,423.7 641.2,430.4 645.5,430.5 636.2,429.4 636.1,427.2 637.4,410.2 642.2,402.0 639.3,430.5 648.2,430.4 652.6,420.2 646.6,409.1 636.1,422.4 644.2,405.9 651.9,419.5 643.3,431.0 636.4,430.0 659.0,429.5 640.1,404.8 635.9,420.8 636.1,430.0 660.2,429.6 657.2,430.3 637.0,415.5 646.2,431.1 659.3,422.9 639.2,408.0 646.2,410.5 663.2,429.2 637.0,430.4 637.5,391.0 637.1,409.1 639.3,403.2 648.1,412.5 657.4,422.4 672.4,428.6 663.1,429.6 654.3,420.5 635.7,424.7 641.1,401.6 644.2,402.5 664.3,428.5 645.2,403.4 667.7,428.6 650.2,413.8 636.0,418.6 661.5,423.0 708.3,428.8 639.8,430.8 643.5,391.1"/></g>
<rect class="b" x="632.80" y="389.41" width="78.41" height="43.50"/>
<g clip-path="url(#c4_6)"><path class="f" transform="translate(0 .5)" d="M744 396h3M744 397h3M742 398h5M753 399h1M749 401h1M749 402h1M756 402h1M749 403h1M756 403h1M746 404h4M755 404h2M744 405h7M755 405h5M741 406h17M741 407h15M762 407h1M740 408h15M762 408h1M768 408h5M739 409h15M768 409h5M738 410h16M760 410h2M766 410h3M738 411h16M758 411h4M766 411h3M774 411h1M738 412h16M758 412h4M766 412h3M774 412h1M738 413h24M766 413h3M774 413h1M738 414h37M737 415h38M736 416h41M736 417h48M735 418h49M736 419h49M736 420h49M736 421h49M736 422h49M735 423h50M735 424h55M735 425h58M735 426h58M736 427h59M736 428h59M736 429h59M736 430h59M737 431h58M738 432h54M739 433h51M740 434h40M752 435h12"/><polyline class="p" points="753.2,430.1 740.3,428.0 769.8,429.4 765.2,429.6 751.9,430.0 764.8,430.2 768.0,429.8 779.2,429.3 766.9,430.7 772.8,429.7 774.6,429.9 750.0,429.9 744.3,429.4 751.9,430.4 763.3,430.5 756.8,430.5 754.5,410.2 775.3,420.2 744.2,402.0 773.2,430.0 760.3,430.5 783.5,429.4 754.7,430.6 746.4,429.6 750.1,430.4 740.0,423.9 772.1,430.4 756.8,417.6 740.1,426.8 796.0,427.8 775.5,430.4 740.7,420.5 747.5,430.1 757.3,409.1 758.5,405.9 742.8,429.5 786.7,419.5 749.2,410.9 745.9,408.8 753.1,431.0 741.8,430.5 739.8,427.7 740.0,420.8 752.3,404.8 771.4,430.7 757.4,430.9 781.6,429.6 742.5,416.0 740.8,430.0 739.6,427.3 786.8,428.6 749.0,430.7 747.8,407.8 759.0,431.1 769.9,417.9 744.3,410.5 761.1,417.3 747.5,430.5 740.0,428.9 762.4,431.3 744.5,430.4 787.6,429.6 746.0,391.0 756.8,409.1 754.9,403.2 770.2,412.5 780.4,422.4 789.9,428.6 742.4,411.0 780.8,420.5 739.5,424.7 777.1,430.6 744.2,401.6 773.6,411.8 771.9,408.8 770.1,414.5 754.9,402.5 744.5,403.4 739.6,422.6 740.9,416.6 799.8,428.6 739.5,418.6 763.5,413.8 812.0,428.8 750.0,391.1"/></g>
<rect class="b" x="736.55" y="389.41" width="78.41" height="43.50"/>
<g clip-path="url(#c4_7)"><path class="f" transform="translate(0 .5)" d="M855 396h6M855 397h6M854 398h7M853 399h9M852 400h10M852 401h10M852 402h11M852 403h11M852 404h12M852 405h12M851 406h13M851 407h13M850 408h15M850 409h15M849 410h15M851 411h13M851 412h13M847 413h1M851 413h14M847 414h19M847 415h19M847 416h19M846 417h22M844 418h25M844 419h26M843 420h27M842 421h28M841 422h29M841 423h29M841 424h29M840 425h30M840 426h31M840 427h31M840 428h31M839 429h32M840 430h29M840 431h29M840 432h28M841 433h26M842 434h22M846 435h6"/><polyline class="p" points="855.2,429.8 861.9,429.4 852.1,430.0 845.2,430.1 858.6,429.7 854.2,430.7 857.7,429.9 865.0,425.2 849.9,430.4 844.7,429.9 864.1,428.8 857.8,402.0 859.4,430.0 844.1,429.5 847.0,430.6 854.0,417.0 861.3,430.0 844.2,425.6 857.6,430.6 860.3,409.1 848.3,431.0 845.4,430.5 857.0,404.8 849.8,430.9 864.9,429.6 861.6,416.0 865.5,426.3 843.5,429.6 875.7,428.4 847.0,421.0 850.6,431.3 856.8,391.0 843.8,430.4 855.6,412.5 865.7,425.5 865.5,420.5 846.3,430.9 861.5,430.6 855.8,401.6 852.8,411.8 845.3,422.8 854.2,408.8 851.0,414.5 860.5,402.5 915.8,426.9 860.7,391.1"/></g>
<rect class="b" x="840.30" y="389.41" width="78.41" height="43.50"/>
<g clip-path="url(#c4_8)"><path class="f" transform="translate(0 .5)" d="M965 396h1M965 397h1M968 400h1M968 401h1M965 402h4M963 403h7M963 404h10M960 405h14M960 406h16M960 407h16M960 408h6M969 408h7M960 409h6M969 409h8M960 410h6M969 410h9M960 411h19M962 412h18M962 413h20M986 413h1M962 414h25M992 414h2M957 415h1M962 415h25M992 415h2M956 416h39M956 417h39M956 418h40M955 419h41M954 420h46M954 421h47M952 422h59M952 423h59M950 424h61M948 425h63M946 426h67M946 427h67M945 428h70M945 429h70M945 430h70M946 431h67M947 432h65M949 433h60M952 434h53M960 435h2M967 435h8"/><polyline class="p" points="962.0,430.1 976.0,429.6 958.5,421.5 988.7,429.9 980.1,429.6 985.0,429.4 990.7,429.9 978.8,430.0 1002.2,429.9 975.8,430.2 983.3,429.5 965.3,430.0 980.9,430.7 999.0,429.7 992.7,423.2 965.4,430.4 977.1,430.5 963.7,430.5 969.7,410.2 964.1,402.0 987.0,429.9 991.4,430.0 996.7,429.8 953.8,430.0 1004.3,429.2 974.6,430.6 990.5,417.0 959.1,429.9 966.1,417.6 997.5,425.6 1003.0,430.3 952.0,428.5 1009.3,428.8 965.3,409.1 988.6,430.5 966.7,405.9 970.8,410.9 999.2,426.0 963.9,408.8 998.5,425.3 974.5,431.0 993.8,430.2 952.1,429.3 956.1,430.4 957.6,404.8 991.4,421.2 954.8,426.4 967.0,430.9 993.5,430.7 952.9,430.1 971.0,430.4 959.5,430.6 948.9,429.0 991.5,419.8 961.3,415.5 971.9,431.1 982.0,418.3 949.8,428.5 970.9,408.0 986.5,430.6 1006.9,426.3 960.6,431.3 981.2,417.9 978.0,416.8 958.1,421.2 966.1,391.0 971.3,403.2 1011.3,426.3 1000.6,425.9 974.0,412.5 955.4,425.3 1010.8,426.1 973.2,411.0 1006.6,429.5 961.4,420.3 989.0,417.5 1004.0,425.9 984.8,430.9 977.6,430.8 960.7,401.6 998.1,424.0 1002.0,421.0 965.5,411.8 976.5,414.5 964.6,402.5 971.8,403.4 987.9,416.6 1014.7,426.5 998.4,430.6 979.9,416.6 962.7,413.8 955.4,420.4 948.1,391.1 1003.3,430.6"/></g>
<rect class="b" x="944.05" y="389.41" width="78.41" height="43.50"/>
<g clip-path="url(#c4_9)"><path class="f" transform="translate(0 .5)" d="M1093 396h2M1093 397h2M1093 398h6M1095 399h4M1097 400h2M1081 401h2M1097 401h2M1083 402h1M1097 402h2M1083 403h2M1097 403h2M1083 404h2M1089 404h2M1094 404h9M1081 405h10M1094 405h11M1075 406h1M1080 406h6M1089 406h2M1094 406h9M1076 407h5M1084 407h2M1089 407h10M1058 408h2M1076 408h5M1084 408h2M1089 408h1M1095 408h3M1057 409h3M1064 409h3M1076 409h5M1085 409h1M1089 409h1M1095 409h3M1054 410h6M1065 410h2M1076 410h5M1085 410h1M1089 410h1M1095 410h3M1104 410h2M1054 411h6M1065 411h2M1076 411h5M1085 411h7M1095 411h3M1056 412h6M1065 412h2M1070 412h11M1085 412h3M1092 412h4M1056 413h6M1065 413h23M1092 413h4M1099 413h2M1056 414h32M1092 414h3M1099 414h3M1054 415h33M1092 415h3M1099 415h3M1054 416h33M1092 416h3M1053 417h34M1092 417h4M1053 418h45M1053 419h45M1052 420h46M1105 420h2M1123 420h1M1051 421h48M1105 421h2M1050 422h49M1102 422h3M1049 423h50M1102 423h2M1108 423h1M1126 423h1M1048 424h51M1102 424h1M1116 424h2M1048 425h53M1116 425h2M1048 426h53M1116 426h2M1048 427h47M1048 428h47M1048 429h46M1106 429h1M1121 429h2M1048 430h45M1048 431h44M1049 432h36M1050 433h32M1052 434h27M1058 435h4"/><polyline class="p" points="1058.1,430.1 1082.7,420.0 1064.2,429.6 1055.3,430.0 1069.0,430.0 1063.9,430.0 1054.3,424.4 1053.0,429.2 1059.4,430.7 1084.2,427.3 1054.8,430.1 1073.6,429.7 1111.1,426.5 1065.1,430.5 1052.7,428.4 1089.6,410.2 1094.4,402.0 1053.9,430.2 1070.9,430.0 1089.8,426.7 1068.8,417.0 1052.2,429.1 1055.9,430.4 1097.2,421.9 1071.8,430.4 1076.0,429.7 1060.4,417.6 1101.5,409.1 1079.6,405.9 1052.4,424.7 1093.5,420.7 1079.9,410.9 1081.9,417.9 1084.1,408.8 1059.9,431.0 1051.8,429.4 1080.9,429.3 1094.1,422.1 1080.6,404.8 1073.8,416.0 1056.5,419.8 1052.0,430.1 1107.8,424.5 1051.6,429.1 1078.7,415.5 1098.7,407.8 1060.8,431.1 1087.6,415.7 1093.7,408.0 1084.9,427.8 1058.7,417.9 1090.6,427.2 1099.7,410.5 1062.1,417.9 1068.9,430.4 1105.4,425.9 1093.1,391.0 1102.9,423.9 1085.4,409.1 1098.1,403.2 1121.3,425.2 1074.5,430.1 1090.2,422.5 1100.9,420.5 1062.1,412.5 1081.4,411.0 1122.5,424.2 1100.9,401.6 1060.1,411.8 1062.1,408.8 1057.9,414.5 1075.6,402.5 1054.4,430.7 1093.6,403.4 1055.5,413.8 1078.2,430.1 1066.2,413.8 1074.8,430.3 1084.8,420.5 1123.3,391.1 1053.7,430.8 1089.5,414.7 1090.8,416.8"/></g>
<rect class="b" x="1047.80" y="389.41" width="78.41" height="43.50"/>
<g clip-path="url(#c4_10)"><path class="f" transform="translate(0 .5)" d="M1169 396h2M1169 397h2M1169 398h5M1166 399h9M1164 400h12M1163 401h13M1163 402h13M1162 403h14M1162 404h14M1162 405h14M1164 406h12M1164 407h12M1164 408h12M1163 409h14M1161 410h17M1162 411h16M1162 412h16M1184 412h1M1162 413h24M1161 414h31M1160 415h33M1159 416h36M1157 417h39M1156 418h46M1155 419h52M1155 420h54M1154 421h58M1154 422h63M1153 423h71M1152 424h72M1151 425h73M1151 426h73M1150 427h74M1151 428h73M1151 429h72M1152 430h70M1154 431h68M1156 432h63M1158 433h60M1160 434h55M1194 435h5M1203 435h2"/><polyline class="p" points="1191.4,430.1 1177.6,429.8 1198.0,430.1 1167.7,429.4 1199.4,430.0 1185.7,429.9 1172.0,429.6 1200.6,430.0 1174.4,429.9 1211.7,430.1 1186.8,430.0 1179.3,430.0 1166.7,430.7 1159.3,428.2 1204.3,429.7 1156.7,425.2 1197.3,430.4 1182.6,430.5 1171.1,429.9 1198.7,430.5 1157.4,428.8 1171.8,402.0 1207.3,429.7 1195.5,430.5 1209.6,430.0 1206.8,429.9 1163.4,430.0 1210.7,430.4 1164.9,417.6 1178.7,430.6 1185.5,430.5 1171.1,405.9 1189.7,430.4 1215.5,426.0 1162.7,419.5 1208.9,425.6 1203.9,431.0 1171.1,430.4 1207.1,423.9 1159.8,429.4 1172.9,430.4 1193.5,420.8 1198.9,422.1 1215.5,429.8 1205.0,430.9 1192.5,430.7 1190.7,419.9 1192.6,419.8 1217.6,427.4 1154.5,427.3 1197.7,431.1 1174.9,415.7 1163.4,417.3 1188.1,417.9 1211.9,430.4 1178.5,416.8 1196.0,431.3 1189.7,417.9 1169.2,391.0 1205.1,422.7 1165.0,409.1 1166.6,403.2 1221.8,427.7 1219.0,426.8 1166.8,411.0 1160.3,429.9 1159.2,420.5 1178.8,430.8 1170.9,401.6 1173.4,411.8 1212.3,425.7 1158.1,421.8 1180.7,416.6 1175.9,430.5 1183.7,416.6 1180.8,413.8 1169.2,391.1 1227.0,425.5 1195.6,414.7"/></g>
<rect class="b" x="1151.55" y="389.41" width="78.41" height="43.50"/>
<g clip-path="url(#c5_0)"><path class="f" transform="translate(0 .5)" d="M134 478h3M133 479h6M133 480h7M131 481h12M126 482h19M125 483h21M124 484h23M123 485h26M121 486h29M120 487h31M119 488h34M119 489h36M119 490h39M164 490h1M118 491h49M177 491h1M118 492h51M172 492h2M177 492h1M181 492h1M118 493h60M181 493h2M117 494h67M187 494h1M117 495h69M117 496h69M189 496h2M118 497h68M189 497h3M118 498h68M189 498h5M118 499h68M189 499h4M119 500h67M189 500h3M120 501h66M189 501h2M121 502h70M124 503h65M133 504h34"/><polyline class="p" points="129.5,498.4 132.2,499.4 134.8,499.7 141.5,499.5 139.1,499.5 155.8,499.6 123.2,490.6 160.9,499.6 123.5,497.7 133.8,499.8 161.6,499.9 175.0,496.8 130.3,499.2 172.6,498.5 121.3,494.3 142.2,499.9 177.0,499.4 129.6,499.4 148.3,499.5 171.8,497.6 151.7,499.6 128.8,499.3 145.1,499.6 185.8,499.6 149.2,492.0 169.8,498.9 126.6,499.5 164.3,499.7 136.4,499.9 142.6,485.7 140.8,500.0 145.0,500.0 123.3,498.9 125.2,488.0 150.4,492.5 123.4,489.6 149.4,499.9 122.6,497.9 171.1,499.0 122.1,497.4 166.1,500.0 122.4,491.1 179.2,498.6 187.7,499.2 146.9,490.6 184.2,498.9 152.5,499.9 176.2,494.4 155.2,493.7 117.0,492.2 156.7,499.9 171.2,499.4 132.6,484.9 170.8,499.8 117.3,495.1 179.4,495.7 180.0,499.4 172.5,496.3 165.9,495.4 147.2,489.8 181.8,498.9 159.0,499.9 137.4,479.8 172.7,499.8 164.6,494.4 146.4,488.4 136.9,484.3 151.2,492.2 136.2,482.4 127.6,485.8 130.8,459.9 189.5,497.2 160.5,495.0"/></g>
<rect class="b" x="114.05" y="458.25" width="78.41" height="43.50"/>
<g clip-path="url(#c5_1)"><path class="f" transform="translate(0 .5)" d="M227 479h1M234 479h2M224 480h4M234 480h2M223 481h13M222 482h14M221 483h15M221 484h16M219 485h24M218 486h26M249 486h1M218 487h32M217 488h33M218 489h39M218 490h46M218 491h47M268 491h1M217 492h55M217 493h58M217 494h58M217 495h62M283 495h1M218 496h60M283 496h1M218 497h60M218 498h60M284 498h1M218 499h59M284 499h2M218 500h59M284 500h2M219 501h58M284 501h1M220 502h57M284 502h1M222 503h50M282 503h2M225 504h26M258 504h1"/><polyline class="p" points="233.9,499.4 256.4,498.5 241.1,499.7 235.6,488.8 222.4,487.9 244.2,499.5 235.2,499.6 249.6,499.0 223.9,498.7 222.0,494.2 223.0,498.3 254.8,498.9 249.4,499.6 232.1,499.8 236.1,499.9 250.1,499.7 267.4,498.5 221.8,496.6 229.0,499.8 239.7,489.4 227.1,499.6 281.2,499.9 256.9,499.5 270.0,499.4 268.5,495.4 227.0,499.8 221.0,493.4 252.8,499.6 270.2,495.8 279.4,493.5 238.0,499.9 247.2,491.5 261.1,499.6 227.8,485.7 253.7,494.1 280.2,499.0 249.3,500.0 221.8,497.7 247.0,499.8 260.8,493.6 223.6,499.2 224.1,486.7 258.5,499.8 224.8,499.9 264.0,499.5 254.4,499.9 221.5,488.2 266.2,499.4 244.6,499.9 270.1,499.9 250.4,490.2 231.3,484.9 222.8,498.9 239.9,499.9 222.8,499.4 253.0,493.4 293.3,499.6 241.4,489.1 221.9,498.6 235.7,488.1 231.3,479.8 241.7,500.0 273.0,498.7 225.2,484.3 231.3,482.4 229.4,459.9 252.6,489.8 262.1,494.2 279.1,498.7"/></g>
<rect class="b" x="217.80" y="458.25" width="78.41" height="43.50"/>
<g clip-path="url(#c5_2)"><path class="f" transform="translate(0 .5)" d="M337 478h2M334 479h8M333 480h9M333 481h9M345 481h9M330 482h25M329 483h27M328 484h29M327 485h30M327 486h37M325 487h41M324 488h42M323 489h44M322 490h48M321 491h49M374 491h1M321 492h48M374 492h1M320 493h49M373 493h1M320 494h49M373 494h1M320 495h49M373 495h1M320 496h49M373 496h3M320 497h50M373 497h2M320 498h54M320 499h51M320 500h50M321 501h45M321 502h44M323 503h36M325 504h29"/><polyline class="p" points="343.3,499.4 336.2,499.7 345.8,499.5 327.5,499.5 338.7,499.6 348.4,499.6 330.3,499.3 369.5,493.7 325.0,498.6 324.5,497.7 340.6,499.8 350.9,499.9 324.5,498.5 333.1,499.7 324.5,495.4 325.7,499.5 324.5,499.9 326.1,493.0 353.8,499.4 356.2,498.6 353.5,499.8 324.5,493.5 326.0,492.3 334.5,499.9 351.9,485.7 361.2,498.3 327.4,499.9 329.3,500.0 343.4,500.0 355.8,489.4 341.8,486.7 330.3,487.5 346.1,499.9 363.0,498.3 371.8,494.4 325.7,491.5 337.5,499.9 362.7,490.2 348.9,499.9 357.8,499.4 365.9,499.4 378.2,493.1 337.6,479.8 352.2,485.0 349.7,485.7 397.0,495.5 337.6,482.4 331.8,485.8 335.4,459.9 368.2,495.8 346.7,484.9 364.5,493.3"/></g>
<rect class="b" x="321.55" y="458.25" width="78.41" height="43.50"/>
<g clip-path="url(#c5_3)"><path class="f" transform="translate(0 .5)" d="M443 479h1M440 480h4M433 481h12M449 481h4M430 482h23M429 483h25M428 484h27M427 485h28M426 486h29M425 487h32M425 488h32M425 489h32M424 490h33M424 491h35M424 492h38M424 493h37M424 494h37M424 495h37M424 496h36M424 497h36M424 498h36M424 499h34M424 500h30M425 501h29M426 502h24M453 502h1M427 503h21M429 504h2"/><polyline class="p" points="428.8,496.4 428.9,498.4 429.7,499.0 438.8,498.6 429.9,499.2 433.1,499.4 428.6,497.7 429.0,498.9 429.6,499.7 442.2,499.0 428.7,495.8 428.5,498.7 428.6,494.1 429.0,492.1 439.3,499.3 430.8,499.8 428.5,499.0 429.3,499.9 448.0,498.0 450.2,496.8 428.7,492.0 428.3,490.7 429.4,489.5 437.1,499.4 452.8,491.5 454.0,495.3 448.5,485.7 452.0,489.5 440.6,499.7 431.1,487.2 429.2,488.0 430.9,486.6 451.6,496.9 462.7,495.4 457.7,491.0 454.1,493.0 446.0,499.4 434.2,484.9 428.3,499.5 448.7,479.8 437.1,499.9 446.6,499.3 450.2,485.0 445.0,485.7 440.4,484.3 500.8,499.2 444.9,482.4 456.1,494.5 431.6,485.8 430.8,459.9 453.7,498.3"/></g>
<rect class="b" x="425.30" y="458.25" width="78.41" height="43.50"/>
<g clip-path="url(#c5_4)"><path class="f" transform="translate(0 .5)" d="M536 478h2M533 479h8M533 480h9M533 481h9M532 482h10M545 482h4M532 483h18M531 484h20M531 485h20M531 486h23M530 487h26M530 488h27M564 488h1M529 489h29M529 490h31M567 490h7M529 491h35M567 491h4M574 491h11M529 492h42M574 492h12M528 493h43M574 493h13M528 494h61M528 495h56M587 495h2M528 496h54M587 496h3M529 497h53M587 497h3M529 498h53M585 498h5M529 499h50M585 499h4M530 500h49M583 500h5M530 501h49M583 501h4M531 502h32M568 502h7M583 502h1M532 503h30M569 503h4M535 504h20"/><polyline class="p" points="534.1,499.0 538.6,499.4 549.8,499.7 541.3,499.5 533.0,490.6 535.3,499.3 545.6,499.6 533.6,497.1 535.4,499.8 539.4,499.9 570.0,499.2 584.7,496.5 533.4,498.1 557.7,498.3 552.0,490.8 572.0,494.1 548.0,499.9 577.8,495.4 553.2,491.1 568.8,497.8 572.4,495.9 532.5,495.9 538.9,485.7 534.4,499.7 535.2,487.2 579.8,497.7 550.9,500.0 559.6,498.5 534.3,499.9 541.6,499.9 553.0,499.7 535.1,486.6 533.8,488.2 560.4,499.4 532.3,494.3 547.1,487.0 573.9,498.2 569.4,494.3 535.7,484.9 532.0,494.9 533.6,499.4 558.1,499.4 604.5,499.2 571.9,499.4 582.5,498.1 565.8,493.3 536.9,479.8 535.0,485.0 546.0,499.9 551.4,489.8 543.9,500.1 585.5,497.1 562.2,494.9 583.8,495.4 582.3,494.9 536.9,482.4 563.4,492.1 554.9,500.0 554.1,491.6 546.9,485.8 536.5,459.9 532.8,497.9 604.4,495.8"/></g>
<rect class="b" x="529.05" y="458.25" width="78.41" height="43.50"/>
<g clip-path="url(#c5_5)"><text class="l" text-anchor="middle" x="671.70" y="487.00">free sulfur dioxide</text></g>
<rect class="b" x="632.80" y="458.25" width="78.41" height="43.50"/>
<g clip-path="url(#c5_6)"><path class="f" transform="translate(0 .5)" d="M779 480h2M768 481h11M766 482h13M782 482h3M765 483h14M782 483h4M762 484h25M760 485h27M756 486h31M752 487h36M751 488h39M749 489h42M744 490h49M741 491h52M739 492h48M790 492h3M738 493h48M790 493h2M737 494h49M790 494h2M737 495h49M790 495h2M737 496h54M736 497h48M787 497h3M736 498h48M787 498h2M736 499h45M787 499h1M735 500h42M736 501h39M736 502h35M737 503h32M739 504h5M749 504h6"/><polyline class="p" points="755.8,499.0 766.5,498.6 751.7,499.4 740.3,498.2 761.2,498.3 744.7,498.5 745.8,499.7 741.3,499.5 779.2,489.0 774.7,496.3 770.9,497.1 759.3,499.3 745.6,495.4 752.5,499.8 741.2,499.9 750.5,494.2 740.7,499.7 783.5,489.4 740.0,499.5 755.3,499.5 796.0,493.2 759.5,490.8 741.0,496.1 753.4,492.6 786.7,491.1 760.1,489.9 780.5,485.7 739.8,499.5 746.2,494.9 740.1,500.0 776.9,487.2 739.8,500.0 760.8,499.1 781.6,492.5 745.4,494.3 750.3,493.6 764.1,498.9 764.4,499.5 739.6,500.0 768.6,486.6 786.8,495.0 753.4,490.9 771.2,497.6 779.8,495.1 773.1,497.5 748.4,493.7 762.4,489.1 744.3,494.3 740.7,495.9 770.1,498.0 771.9,484.9 767.5,499.1 744.0,499.9 763.2,488.3 767.3,499.4 748.5,499.9 754.4,499.9 787.6,493.1 758.4,490.4 755.7,490.5 780.4,488.1 789.9,479.8 769.2,485.0 778.1,495.7 785.0,495.0 739.5,500.1 779.3,484.3 764.2,487.7 799.8,482.4 812.0,459.9 760.8,489.2 778.0,484.9 788.0,491.9"/></g>
<rect class="b" x="736.55" y="458.25" width="78.41" height="43.50"/>
<g clip-path="url(#c5_7)"><path class="f" transform="translate(0 .5)" d="M858 478h4M858 479h8M857 480h9M852 481h14M850 482h16M848 483h18M847 484h19M846 485h20M844 486h24M843 487h26M843 488h27M842 489h28M842 490h28M841 491h29M841 492h29M840 493h31M840 494h31M839 495h32M839 496h32M839 497h32M839 498h31M839 499h31M840 500h30M840 501h29M841 502h27M842 503h25M848 504h13"/><polyline class="p" points="850.6,499.4 857.5,499.7 853.4,499.5 863.5,498.3 846.6,498.7 859.8,499.4 865.0,491.1 849.5,499.8 857.8,499.9 854.6,499.8 844.1,496.4 846.3,499.6 845.4,493.3 844.6,498.7 844.2,495.2 862.0,499.6 845.5,490.7 848.3,489.5 861.5,485.7 849.9,487.2 848.7,488.0 865.5,497.0 843.5,497.4 859.5,500.0 850.0,486.6 846.0,489.9 865.7,499.2 875.7,495.4 865.6,491.7 844.6,499.1 853.1,484.9 843.6,499.5 863.9,499.6 851.2,499.9 843.7,495.3 847.8,499.9 861.5,479.8 865.5,489.8 915.8,499.2 861.4,482.4 851.6,459.9 843.7,494.5"/></g>
<rect class="b" x="840.30" y="458.25" width="78.41" height="43.50"/>
<g clip-path="url(#c5_8)"><path class="f" transform="translate(0 .5)" d="M968 480h1M964 481h17M961 482h20M985 482h2M961 483h26M960 484h33M956 485h38M952 486h52M951 487h53M950 488h54M1010 488h2M949 489h55M947 490h61M947 491h61M946 492h63M945 493h69M945 494h70M944 495h71M944 496h69M944 497h68M945 498h67M945 499h67M948 500h64M949 501h63M949 502h60M954 503h54M962 504h32"/><polyline class="p" points="962.0,499.0 974.7,499.4 981.0,499.7 978.5,499.5 964.6,499.6 971.2,499.3 962.7,499.4 993.8,498.6 972.2,499.8 964.6,499.9 999.6,499.2 954.5,498.5 982.7,499.8 968.1,499.4 1002.9,494.4 1004.3,494.6 987.8,499.6 1006.2,495.1 985.2,499.9 991.0,499.4 952.0,491.8 1009.3,493.5 958.0,498.9 1000.3,490.7 974.5,499.9 995.4,499.7 977.2,499.9 967.6,485.7 988.9,500.0 994.2,499.8 999.5,499.6 954.0,490.2 997.6,489.6 948.9,498.8 959.9,489.3 996.5,499.9 982.6,500.0 961.3,499.4 957.1,499.2 959.0,489.0 949.8,495.8 989.5,488.3 959.0,499.4 972.8,484.9 1007.4,498.6 979.4,486.9 967.3,499.8 992.2,500.0 1006.9,498.9 950.4,496.8 969.0,499.9 955.6,499.4 954.8,499.4 976.8,485.6 1011.3,492.2 950.1,496.7 1000.6,499.6 950.2,494.4 979.7,499.9 1004.8,499.3 968.3,479.8 1010.8,497.5 966.0,485.0 985.0,487.3 962.1,487.5 953.5,490.0 959.9,485.7 962.1,499.9 1003.0,490.1 981.5,484.3 1014.7,498.6 999.8,499.9 956.3,499.8 965.0,482.4 989.0,485.8 987.5,459.9 948.1,495.8 978.1,484.9 950.0,493.0"/></g>
<rect class="b" x="944.05" y="458.25" width="78.41" height="43.50"/>
<g clip-path="url(#c5_9)"><path class="f" transform="translate(0 .5)" d="M1063 480h4M1061 481h8M1055 482h15M1053 483h19M1052 484h23M1078 484h1M1052 485h29M1051 486h32M1051 487h33M1051 488h34M1050 489h36M1049 490h37M1099 490h4M1049 491h39M1092 491h12M1048 492h57M1048 493h58M1126 493h1M1048 494h61M1118 494h1M1126 494h1M1048 495h61M1118 495h1M1127 495h1M1048 496h59M1117 496h2M1127 496h1M1048 497h59M1116 497h3M1048 498h59M1116 498h3M1049 499h58M1116 499h3M1049 500h55M1119 500h1M1050 501h54M1051 502h53M1052 503h42M1103 503h3M1055 504h19M1080 504h1"/><polyline class="p" points="1082.7,499.2 1059.8,499.4 1075.7,498.5 1076.2,499.7 1068.0,499.5 1062.8,499.5 1053.0,493.8 1072.4,499.6 1111.1,499.4 1057.4,499.3 1066.4,499.8 1067.5,499.9 1052.7,495.6 1089.6,499.2 1079.3,499.7 1071.8,488.9 1052.2,496.3 1054.0,499.6 1062.1,499.9 1097.2,498.6 1101.5,494.1 1093.5,498.8 1053.2,498.8 1070.7,499.9 1060.2,485.7 1087.3,495.4 1060.3,499.9 1051.8,497.0 1069.2,486.7 1082.3,493.2 1055.1,499.9 1083.8,499.2 1107.8,498.2 1080.3,500.0 1051.6,494.1 1054.9,489.9 1090.2,499.4 1081.3,490.2 1099.7,494.3 1076.4,499.9 1062.1,484.9 1070.4,486.9 1105.4,499.2 1063.8,499.9 1102.9,498.9 1085.4,499.4 1121.3,496.8 1052.7,498.9 1055.3,486.4 1062.1,479.8 1067.3,485.0 1122.5,496.1 1052.2,492.4 1078.2,488.4 1064.1,484.3 1093.6,494.9 1084.7,499.8 1069.9,482.4 1072.4,500.0 1057.8,499.9 1067.8,459.9 1123.3,495.8"/></g>
<rect class="b" x="1047.80" y="458.25" width="78.41" height="43.50"/>
<g clip-path="url(#c5_10)"><path class="f" transform="translate(0 .5)" d="M1169 478h1M1169 479h1M1168 480h2M1168 481h2M1179 481h6M1164 482h21M1189 482h1M1164 483h26M1195 483h7M1162 484h28M1194 484h12M1159 485h48M1157 486h51M1155 487h54M1153 488h57M1152 489h60M1216 489h1M1151 490h68M1151 491h69M1151 492h70M1151 493h70M1151 494h70M1151 495h73M1152 496h71M1152 497h71M1153 498h70M1155 499h69M1155 500h69M1155 501h69M1156 502h69M1157 503h66M1163 504h31M1200 504h1M1209 504h4"/><polyline class="p" points="1192.3,499.4 1203.4,498.5 1168.6,499.7 1194.9,499.5 1176.9,499.5 1179.1,499.6 1182.6,499.6 1163.7,488.6 1208.7,498.6 1156.7,491.1 1185.8,499.3 1190.4,499.8 1179.1,499.9 1171.1,499.5 1162.2,489.1 1199.3,499.0 1162.1,498.6 1206.8,499.1 1208.6,499.6 1173.8,499.5 1185.0,499.9 1196.5,499.4 1203.7,499.0 1201.3,499.8 1204.3,499.4 1171.5,499.9 1189.6,489.5 1215.5,498.9 1167.5,485.7 1182.8,499.9 1196.1,487.2 1215.5,494.3 1174.1,486.7 1187.5,487.5 1174.2,499.8 1167.4,499.9 1159.6,489.3 1217.6,498.6 1164.3,499.5 1212.4,500.0 1217.6,497.1 1199.7,486.6 1205.4,490.9 1154.5,491.7 1177.0,499.9 1208.3,491.8 1204.0,489.4 1161.3,499.3 1188.2,499.9 1186.0,484.9 1193.9,499.8 1158.7,499.4 1192.3,485.6 1155.2,494.9 1208.0,499.8 1200.1,499.9 1221.8,499.3 1219.0,499.6 1165.0,479.8 1180.7,485.0 1162.8,499.9 1216.3,493.4 1197.2,499.8 1164.9,500.1 1172.3,485.7 1160.7,484.3 1171.3,482.4 1166.3,485.8 1180.8,459.9 1203.9,488.0 1227.0,497.2 1209.6,499.8"/></g>
<rect class="b" x="1151.55" y="458.25" width="78.41" height="43.50"/>
<g clip-path="url(#c6_0)"><path class="f" transform="translate(0 .5)" d="M138 537h3M138 538h7M133 539h1M137 539h2M143 539h3M128 540h1M133 540h1M137 540h2M143 540h4M128 541h11M143 541h5M128 542h22M128 543h22M123 544h1M127 544h23M123 545h28M122 546h33M121 547h35M120 548h37M119 549h39M119 550h39M118 551h40M118 552h40M117 553h44M117 554h45M117 555h46M175 555h1M117 556h49M169 556h10M118 557h62M118 558h62M118 559h64M118 560h64M118 561h65M119 562h66M119 563h69M119 564h71M119 565h67M189 565h2M119 566h67M189 566h4M119 567h67M189 567h3M120 568h72M120 569h72M121 570h70M122 571h68M123 572h58M139 573h3"/><polyline class="p" points="149.8,568.5 139.1,568.0 155.8,567.9 146.1,547.3 137.3,567.8 160.9,567.9 123.5,566.3 142.4,567.5 140.7,568.3 121.3,556.1 128.3,544.5 123.2,551.3 138.5,568.7 142.2,568.4 177.0,568.1 131.0,567.4 160.8,568.6 130.6,568.4 148.8,537.6 133.8,568.0 171.8,568.0 133.6,568.6 145.1,568.3 185.8,566.8 142.3,542.8 139.5,546.5 142.6,546.2 150.1,568.8 146.9,568.3 167.7,568.1 160.8,559.4 162.1,568.7 130.0,568.7 145.0,568.8 123.3,560.7 122.1,558.0 150.4,545.6 123.4,550.0 127.6,549.1 122.6,561.2 159.4,557.2 166.1,568.9 122.4,551.6 154.8,568.5 179.2,563.7 141.6,542.7 127.1,568.0 159.0,568.7 187.7,567.5 184.2,567.3 176.2,559.7 155.2,555.5 117.0,557.6 140.6,568.9 170.8,568.7 117.3,560.7 127.4,568.6 134.6,545.8 179.4,555.1 152.4,568.8 169.1,560.6 129.5,546.9 180.0,568.1 139.8,542.3 172.5,560.4 124.2,568.4 181.8,566.9 137.4,541.0 141.6,543.7 174.2,568.3 164.6,560.3 162.8,568.9 153.6,550.6 148.0,548.5 123.0,565.8 127.1,545.4 136.2,535.5 130.8,528.7 189.5,562.9 143.2,542.1"/></g>
<rect class="b" x="114.05" y="527.09" width="78.41" height="43.50"/>
<g clip-path="url(#c6_1)"><path class="f" transform="translate(0 .5)" d="M233 531h1M233 532h1M227 533h2M227 534h2M227 535h2M227 536h2M227 537h6M227 538h11M227 539h11M226 540h13M225 541h14M225 542h14M247 542h1M221 543h29M220 544h31M219 545h34M219 546h36M218 547h38M218 548h37M217 549h38M258 549h1M217 550h38M258 550h4M217 551h45M265 551h1M217 552h45M265 552h2M217 553h52M217 554h53M217 555h53M217 556h54M217 557h54M217 558h55M280 558h1M217 559h58M278 559h5M217 560h62M283 560h1M218 561h60M218 562h60M284 562h1M218 563h60M284 563h1M218 564h60M284 564h1M218 565h60M284 565h1M218 566h60M219 567h59M220 568h51M274 568h6M220 569h51M221 570h50M221 571h50M223 572h41M268 572h4M236 573h4M245 573h1"/><polyline class="p" points="231.5,568.5 244.2,568.0 235.2,567.9 240.3,567.9 245.0,568.1 243.8,547.3 249.4,567.8 222.0,560.1 223.0,566.3 249.4,567.9 224.1,547.9 267.4,565.4 240.8,568.3 229.0,567.9 245.1,568.3 239.7,544.5 233.2,568.7 281.2,568.4 222.2,561.9 270.0,566.9 268.5,561.0 236.5,568.6 232.8,537.6 227.0,568.6 221.0,559.6 270.2,561.8 279.4,555.8 251.9,568.1 232.9,542.8 247.2,546.5 256.7,567.7 245.2,568.5 249.0,568.6 252.3,568.3 237.0,568.8 271.0,563.7 280.2,562.6 222.5,549.6 221.8,562.4 266.1,556.2 250.0,550.4 228.2,545.6 221.0,558.0 258.5,567.7 224.8,568.2 222.6,547.1 255.6,568.3 265.9,567.0 256.6,552.4 221.5,549.2 240.3,568.6 252.7,568.6 270.1,567.9 245.4,568.9 257.8,568.9 228.9,542.3 221.4,552.9 266.2,567.6 223.9,568.4 293.3,568.7 241.4,547.6 254.5,551.3 221.9,564.3 231.3,541.0 222.0,565.1 239.0,568.9 273.0,562.9 261.7,553.8 263.5,554.7 263.3,568.1 231.3,535.5 229.4,528.7 252.6,549.5 269.5,568.7 234.3,542.1 279.1,563.9"/></g>
<rect class="b" x="217.80" y="527.09" width="78.41" height="43.50"/>
<g clip-path="url(#c6_2)"><path class="f" transform="translate(0 .5)" d="M339 531h1M339 532h1M334 538h2M341 538h1M334 539h2M341 539h1M334 540h3M340 540h2M349 540h3M333 541h9M345 541h1M349 541h3M332 542h23M331 543h24M329 544h27M328 545h31M327 546h32M326 547h37M325 548h38M323 549h41M322 550h43M322 551h47M321 552h47M321 553h47M320 554h48M320 555h48M320 556h48M320 557h48M320 558h48M320 559h48M320 560h48M320 561h48M320 562h46M320 563h46M320 564h44M320 565h44M320 566h44M320 567h43M320 568h42M320 569h42M321 570h40M322 571h38M323 572h36M328 573h3M336 573h4M348 573h2"/><polyline class="p" points="341.9,568.5 327.5,568.0 330.3,567.9 333.5,568.1 329.2,550.8 347.8,568.1 369.5,554.5 325.0,567.8 324.5,566.3 350.9,568.0 326.3,568.3 324.5,560.5 339.9,544.5 362.0,560.3 327.0,568.7 324.5,568.4 353.8,568.1 356.2,567.5 339.3,568.4 343.7,568.6 354.1,548.2 341.1,537.6 324.5,564.1 353.5,568.6 324.5,555.8 336.4,568.7 345.4,542.8 351.9,546.2 329.3,568.6 351.3,568.7 332.2,548.5 353.3,547.1 331.1,568.7 363.0,558.1 353.2,568.9 371.8,558.6 330.4,549.7 354.2,542.7 347.3,568.5 325.7,552.1 360.6,552.4 324.5,554.6 329.1,550.0 362.7,553.9 357.8,565.0 328.0,568.9 330.6,568.9 346.9,568.8 365.9,566.2 356.8,568.1 378.2,542.3 324.5,568.7 356.2,549.4 359.7,564.3 356.9,568.5 333.2,546.3 337.6,541.0 354.2,543.7 348.1,546.0 349.4,568.9 330.4,548.1 362.3,560.6 397.0,559.0 338.4,568.9 337.6,535.5 335.6,569.0 335.4,528.7 360.2,550.9 368.2,563.1 364.5,549.8 350.3,542.1"/></g>
<rect class="b" x="321.55" y="527.09" width="78.41" height="43.50"/>
<g clip-path="url(#c6_3)"><path class="f" transform="translate(0 .5)" d="M441 538h1M445 538h1M437 539h5M445 539h1M437 540h11M433 541h1M437 541h11M452 541h1M433 542h21M428 543h27M428 544h28M427 545h30M426 546h31M425 547h33M425 548h33M425 549h34M424 550h36M424 551h36M424 552h37M424 553h38M424 554h38M424 555h38M424 556h38M424 557h38M424 558h35M424 559h34M424 560h33M424 561h32M424 562h30M424 563h28M424 564h27M424 565h26M424 566h25M424 567h24M424 568h23M425 569h20M425 570h16M426 571h14M428 572h11"/><polyline class="p" points="428.8,555.2 428.9,560.9 430.4,568.5 428.6,558.6 429.5,567.9 434.1,547.3 428.5,562.3 429.1,550.6 428.6,556.5 429.2,566.3 440.3,544.5 428.5,554.0 429.5,568.4 428.9,550.2 436.4,546.3 429.4,537.6 429.1,567.7 429.5,568.7 436.9,542.8 452.8,546.5 448.5,546.2 428.6,564.2 429.2,547.9 430.2,568.8 448.2,561.2 428.6,566.1 433.7,567.8 429.2,568.7 444.4,564.9 451.5,545.6 436.8,542.7 462.7,553.2 457.7,554.4 428.5,567.6 434.0,568.1 436.3,567.3 450.3,559.6 432.7,542.3 446.5,563.0 448.7,541.0 428.7,549.9 429.6,568.9 441.9,565.1 500.8,554.7 436.7,568.9 444.9,535.5 454.0,548.9 430.8,528.7 453.7,558.0 442.5,542.1"/></g>
<rect class="b" x="425.30" y="527.09" width="78.41" height="43.50"/>
<g clip-path="url(#c6_4)"><path class="f" transform="translate(0 .5)" d="M534 532h1M539 532h1M533 536h2M533 537h6M542 537h1M533 538h10M533 539h10M532 540h11M531 541h12M531 542h20M531 543h20M531 544h21M531 545h26M530 546h27M566 546h1M529 547h28M564 547h3M570 547h1M529 548h29M561 548h1M566 548h5M529 549h33M567 549h1M529 550h33M567 550h1M571 550h1M529 551h34M567 551h1M529 552h34M567 552h1M529 553h34M567 553h1M529 554h34M567 554h4M528 555h35M566 555h10M528 556h35M566 556h2M581 556h1M528 557h35M566 557h2M528 558h35M566 558h2M577 558h2M528 559h35M566 559h1M574 559h5M528 560h39M571 560h8M583 560h1M528 561h39M571 561h8M583 561h1M529 562h59M529 563h59M529 564h58M529 565h45M578 565h4M529 566h45M578 566h3M529 567h45M578 567h3M529 568h38M570 568h4M579 568h2M602 568h1M530 569h37M570 569h4M580 569h1M531 570h31M566 570h1M570 570h2M586 570h1M532 571h29M568 571h2M534 572h26M539 573h5"/><polyline class="p" points="537.9,568.5 533.0,553.7 545.6,567.9 533.6,562.0 570.0,560.6 552.0,549.1 584.7,566.3 535.4,544.5 533.6,563.0 545.3,568.7 540.5,568.4 533.6,550.9 538.3,537.6 533.5,549.0 551.3,568.3 572.0,559.1 548.0,568.3 577.8,558.4 535.2,567.1 553.2,542.8 568.8,563.6 572.4,565.4 532.5,561.4 533.4,567.7 533.2,557.5 538.4,568.8 536.7,568.5 550.9,568.7 579.8,561.9 533.1,551.3 532.7,559.0 542.7,546.5 559.6,567.3 533.0,563.7 560.4,562.5 574.3,564.4 545.0,546.6 532.3,558.1 556.1,552.1 569.4,566.3 540.3,568.9 532.0,556.3 556.0,567.9 535.1,542.3 604.5,565.4 582.5,560.4 565.8,551.9 548.1,546.3 536.9,541.0 568.6,567.4 551.4,546.0 543.9,568.9 533.2,548.1 585.5,566.3 567.0,550.0 572.6,551.0 562.2,552.0 583.8,560.4 533.1,565.8 582.3,566.2 547.6,568.9 558.4,568.2 536.9,535.5 563.4,551.7 554.9,569.0 563.4,555.6 536.5,528.7 604.4,563.1 534.5,568.3"/></g>
<rect class="b" x="529.05" y="527.09" width="78.41" height="43.50"/>
<g clip-path="url(#c6_5)"><path class="f" transform="translate(0 .5)" d="M644 538h5M652 538h1M643 539h6M653 539h1M644 540h5M653 540h3M644 541h6M653 541h6M644 542h19M641 543h22M667 543h1M641 544h22M667 544h1M641 545h22M667 545h2M640 546h23M667 546h2M638 547h31M637 548h31M637 549h31M635 550h33M634 551h34M633 552h35M633 553h34M633 554h34M633 555h33M633 556h32M633 557h29M633 558h28M633 559h26M632 560h26M632 561h25M632 562h25M632 563h24M632 564h23M632 565h22M632 566h19M632 567h19M632 568h18M632 569h17M632 570h16M633 571h13M634 572h11M636 573h1"/><polyline class="p" points="637.8,559.9 638.4,554.0 637.0,562.2 639.2,568.5 636.5,565.5 636.8,568.0 636.7,567.9 642.6,549.4 637.2,558.0 636.2,561.8 636.1,568.0 655.1,544.5 636.9,568.7 648.2,537.6 636.3,568.6 643.1,568.1 649.2,561.3 651.9,542.8 654.2,557.5 661.8,546.2 645.2,565.2 635.9,568.6 659.0,548.2 649.5,545.6 646.3,565.7 636.9,555.2 635.9,568.9 660.2,552.8 644.9,542.7 652.3,561.3 640.2,551.4 644.7,546.6 640.4,550.3 655.7,556.3 646.2,566.3 643.3,568.3 663.2,551.0 637.6,553.4 657.0,555.8 637.0,553.5 636.1,560.7 648.3,542.3 672.4,541.0 663.1,552.5 644.9,543.7 635.7,568.9 664.3,546.9 658.1,555.2 658.0,545.4 667.7,535.5 708.3,528.7 655.4,557.2 650.5,542.1"/></g>
<rect class="b" x="632.80" y="527.09" width="78.41" height="43.50"/>
<g clip-path="url(#c6_6)"><text class="l" text-anchor="middle" x="775.45" y="555.00">total sulfur dioxide</text></g>
<rect class="b" x="736.55" y="527.09" width="78.41" height="43.50"/>
<g clip-path="url(#c6_7)"><path class="f" transform="translate(0 .5)" d="M857 533h1M860 537h3M849 538h2M858 538h8M852 539h2M858 539h8M853 540h13M853 541h14M853 542h14M852 543h15M847 544h20M847 545h20M847 546h23M845 547h25M843 548h27M842 549h28M842 550h28M842 551h29M842 552h29M841 553h30M841 554h30M841 555h30M840 556h29M840 557h29M839 558h29M840 559h28M840 560h28M840 561h29M840 562h29M839 563h31M840 564h30M840 565h30M840 566h30M840 567h30M840 568h30M841 569h29M842 570h27M843 571h25M845 572h19M854 573h6"/><polyline class="p" points="857.7,568.5 845.2,560.9 863.5,567.2 865.0,550.3 853.9,567.8 860.0,567.9 844.7,562.6 862.3,559.7 864.1,549.2 859.8,568.3 844.1,561.1 845.3,554.8 856.5,544.5 845.6,554.0 853.0,568.0 848.7,550.2 844.6,564.5 849.3,568.4 844.2,559.3 854.5,546.3 845.6,552.7 855.4,537.6 844.1,558.4 851.1,568.6 855.5,568.6 860.9,542.8 863.5,559.8 851.9,547.9 845.4,567.7 858.5,568.8 844.2,566.1 849.9,548.2 862.7,546.5 864.9,545.6 864.0,557.0 848.1,549.8 865.5,565.3 843.5,558.4 859.5,568.9 843.8,567.0 851.7,542.7 864.9,555.3 865.7,567.5 875.7,553.2 865.6,550.1 844.5,567.6 846.3,551.4 843.6,566.4 855.7,568.9 843.7,562.9 863.9,560.6 862.4,568.1 847.5,542.3 846.5,568.4 861.5,541.0 862.1,568.5 851.7,543.7 865.5,546.0 845.8,551.0 915.8,554.7 861.4,535.5 853.9,569.0 851.6,528.7"/></g>
<rect class="b" x="840.30" y="527.09" width="78.41" height="43.50"/>
<g clip-path="url(#c6_8)"><path class="f" transform="translate(0 .5)" d="M967 537h3M964 538h6M964 539h6M973 539h1M964 540h6M973 540h1M964 541h10M985 541h2M959 542h1M964 542h24M958 543h31M957 544h35M954 545h38M996 545h4M952 546h49M951 547h52M950 548h53M949 549h54M1006 549h1M947 550h60M947 551h61M946 552h63M946 553h63M946 554h65M946 555h65M946 556h65M946 557h66M946 558h67M946 559h67M947 560h66M948 561h68M950 562h63M951 563h61M944 564h1M951 564h61M951 565h61M946 566h1M951 566h61M948 567h64M951 568h62M951 569h62M952 570h59M953 571h57M954 572h55M977 573h9M991 573h2"/><polyline class="p" points="980.3,568.5 977.2,567.9 977.9,546.9 971.2,567.9 985.1,568.1 963.4,547.3 999.0,550.5 976.2,568.1 962.7,567.7 993.8,567.8 964.6,568.0 957.0,549.2 991.4,550.2 968.4,544.5 1002.9,551.3 1004.3,554.0 982.5,568.7 985.2,568.4 975.2,568.4 988.8,568.0 991.2,568.4 968.3,537.6 952.0,553.1 990.2,568.6 1009.3,555.8 995.4,568.7 972.6,542.8 974.8,546.5 992.4,549.7 952.1,557.8 964.8,546.4 955.0,563.5 972.7,568.7 999.5,568.7 976.2,568.8 1007.1,557.9 997.6,550.0 948.9,561.3 959.9,547.1 982.6,568.9 963.3,542.7 982.5,546.6 957.1,567.5 965.8,568.1 959.0,547.2 949.8,557.5 962.1,567.8 1007.4,566.4 985.1,568.9 967.3,568.7 992.2,568.9 1006.9,568.6 976.0,545.8 955.6,566.2 954.8,568.1 964.4,542.3 979.5,546.4 1011.3,558.6 950.4,552.7 950.2,558.0 1002.2,568.4 957.3,568.0 968.3,541.0 1010.8,564.0 986.4,547.5 963.3,543.7 961.4,568.3 963.9,568.7 997.8,548.8 979.9,568.9 953.5,549.8 1014.7,565.8 985.8,545.4 965.0,535.5 987.5,528.7 955.4,549.0 948.1,563.1 950.0,553.0 994.3,547.0 990.4,568.9"/></g>
<rect class="b" x="944.05" y="527.09" width="78.41" height="43.50"/>
<g clip-path="url(#c6_9)"><path class="f" transform="translate(0 .5)" d="M1071 531h1M1071 532h1M1066 533h1M1061 537h5M1058 538h8M1057 539h18M1056 540h19M1055 541h20M1055 542h22M1054 543h25M1052 544h28M1051 545h30M1051 546h30M1050 547h32M1050 548h33M1050 549h34M1050 550h35M1049 551h37M1049 552h37M1048 553h38M1048 554h38M1048 555h38M1048 556h42M1098 556h2M1048 557h44M1097 557h2M1048 558h46M1097 558h2M1048 559h46M1097 559h2M1124 559h1M1048 560h52M1119 560h1M1125 560h2M1048 561h55M1119 561h1M1125 561h2M1048 562h55M1106 562h4M1118 562h1M1048 563h61M1117 563h2M1048 564h61M1048 565h60M1049 566h59M1116 566h1M1050 567h57M1050 568h57M1121 568h1M1051 569h56M1052 570h44M1099 570h8M1053 571h40M1104 571h5M1054 572h38M1065 573h9"/><polyline class="p" points="1070.0,568.5 1062.8,568.0 1053.0,555.5 1061.8,567.9 1072.3,568.1 1111.1,567.7 1075.9,567.6 1052.7,559.2 1089.6,560.6 1094.4,566.3 1079.3,568.3 1062.5,568.3 1052.2,557.0 1054.0,564.3 1077.3,568.7 1062.1,568.4 1097.2,564.0 1070.3,537.6 1063.9,568.6 1073.8,568.6 1083.0,568.0 1101.5,559.1 1067.5,568.7 1070.4,542.8 1056.7,546.5 1058.2,567.7 1053.2,564.7 1087.3,560.0 1055.6,567.7 1060.3,568.5 1051.8,555.1 1076.7,546.5 1052.0,561.0 1055.1,568.2 1056.0,547.1 1107.8,565.8 1053.4,552.1 1080.3,568.9 1051.6,555.3 1098.7,564.4 1090.2,567.3 1081.1,552.6 1051.8,561.5 1081.3,552.3 1099.7,566.3 1052.4,564.5 1065.9,568.9 1070.8,568.9 1054.6,547.3 1086.8,568.0 1105.4,567.2 1059.3,542.3 1056.1,568.4 1102.9,566.8 1098.1,560.4 1121.3,564.1 1053.8,549.4 1090.2,568.3 1100.9,562.1 1062.1,541.0 1083.1,568.3 1053.7,566.9 1068.8,568.9 1122.5,557.6 1078.2,548.9 1084.7,568.9 1069.9,535.5 1067.8,528.7 1123.3,563.1 1073.9,568.9"/></g>
<rect class="b" x="1047.80" y="527.09" width="78.41" height="43.50"/>
<g clip-path="url(#c6_10)"><path class="f" transform="translate(0 .5)" d="M1169 532h1M1175 535h1M1175 536h1M1164 537h3M1166 538h2M1159 539h1M1166 539h3M1158 540h2M1166 540h3M1158 541h2M1163 541h11M1158 542h17M1185 542h5M1157 543h39M1156 544h48M1155 545h51M1153 546h55M1152 547h59M1151 548h60M1151 549h60M1150 550h61M1151 551h62M1151 552h62M1152 553h61M1153 554h60M1153 555h61M1154 556h64M1154 557h65M1155 558h65M1155 559h66M1156 560h65M1157 561h66M1157 562h66M1157 563h66M1157 564h67M1156 565h68M1157 566h67M1157 567h65M1158 568h64M1159 569h62M1159 570h62M1159 571h62M1159 572h56M1189 573h5"/><polyline class="p" points="1189.4,568.5 1176.9,568.0 1179.1,567.9 1178.2,546.9 1167.0,567.9 1192.1,568.1 1162.8,567.2 1156.7,550.3 1198.3,567.8 1168.9,567.8 1157.4,549.2 1166.9,568.3 1181.3,567.9 1208.9,554.8 1167.4,544.5 1173.8,568.7 1185.0,568.4 1196.5,568.1 1192.7,568.4 1196.3,568.6 1203.7,568.4 1186.0,546.3 1170.2,537.6 1201.3,568.6 1171.5,568.3 1179.5,568.7 1162.7,542.8 1189.5,546.5 1182.0,568.5 1165.7,568.3 1177.0,568.8 1174.3,546.4 1196.1,548.2 1162.8,546.5 1163.2,545.6 1158.5,557.0 1160.2,558.7 1159.6,547.1 1217.6,567.0 1209.9,556.5 1212.4,568.9 1170.4,568.5 1199.7,542.7 1207.0,568.3 1154.5,550.1 1159.5,546.7 1157.4,555.1 1180.9,568.9 1191.5,568.9 1201.2,568.8 1158.7,568.1 1208.1,542.3 1202.9,549.5 1155.2,549.5 1160.7,565.3 1221.8,567.5 1219.0,564.6 1165.0,541.0 1162.8,568.4 1199.7,543.7 1216.3,560.3 1159.2,546.0 1201.8,548.4 1189.6,568.9 1208.7,551.0 1196.5,547.7 1193.6,568.9 1172.6,545.4 1171.3,535.5 1206.0,549.6 1180.8,528.7 1227.0,562.9 1168.3,568.7 1199.5,548.0 1161.7,542.1 1209.6,568.9"/></g>
<rect class="b" x="1151.55" y="527.09" width="78.41" height="43.50"/>
<g clip-path="url(#c7_0)"><path class="f" transform="translate(0 .5)" d="M136 621h3M165 621h1M133 622h10M147 622h6M158 622h21M185 622h2M128 623h59M123 624h66M122 625h67M121 626h65M189 626h3M121 627h65M189 627h3M120 628h66M189 628h2M120 629h66M189 629h1M119 630h70M118 631h69M117 632h70M117 633h67M117 634h55M118 635h46M118 636h45M118 637h36M158 637h3M118 638h35M118 639h34M118 640h29M121 641h22"/><polyline class="p" points="144.0,627.4 126.9,628.6 127.7,636.7 156.7,628.1 123.2,631.7 131.8,627.8 148.8,635.3 157.9,626.6 124.1,636.3 136.9,625.7 135.0,636.4 141.5,636.4 125.5,637.0 134.0,626.2 124.2,629.0 175.0,628.7 165.3,630.0 137.0,636.4 128.4,637.3 121.3,633.8 131.9,636.6 137.2,636.8 177.0,628.9 136.1,637.3 185.8,627.4 169.8,627.0 150.7,634.4 164.3,630.5 132.6,626.6 175.2,626.4 143.4,636.8 135.0,637.3 162.1,631.6 156.6,631.6 150.4,625.8 122.6,637.1 159.4,633.6 165.0,625.4 122.1,637.6 140.9,637.5 179.2,627.6 140.2,626.4 132.8,637.3 170.8,629.0 187.7,625.3 141.6,619.8 138.1,625.4 129.6,627.0 174.3,626.0 184.2,627.8 117.0,636.4 132.4,637.6 117.3,635.6 179.4,634.0 124.7,637.6 169.1,626.3 149.7,635.3 180.0,627.2 169.0,630.3 124.9,627.7 181.8,629.0 179.9,629.0 177.1,629.6 187.1,625.4 145.9,636.2 177.8,626.4 173.6,629.3 177.3,626.1 141.0,597.5 171.9,629.9 170.5,625.8 142.1,626.6 160.5,626.3 189.5,629.7 141.5,626.0"/></g>
<rect class="b" x="114.05" y="595.93" width="78.41" height="43.50"/>
<g clip-path="url(#c7_1)"><path class="f" transform="translate(0 .5)" d="M222 621h1M229 621h3M241 621h1M248 621h3M220 622h37M219 623h39M265 623h3M219 624h50M218 625h52M218 626h54M281 626h1M218 627h60M283 627h1M217 628h60M284 628h1M217 629h60M284 629h1M217 630h60M284 630h2M217 631h61M284 631h2M217 632h61M284 632h1M217 633h61M283 633h1M217 634h63M283 634h1M217 635h57M278 635h2M217 636h56M280 636h1M217 637h43M218 638h41M219 639h38M220 640h26M222 641h16"/><polyline class="p" points="250.0,635.6 225.9,636.7 256.3,628.3 230.9,626.6 236.2,636.3 228.9,625.7 222.0,633.7 223.4,636.4 234.0,636.4 225.6,637.0 225.7,626.2 239.7,635.7 230.6,637.3 257.8,633.5 266.7,628.3 281.2,630.6 270.0,630.9 268.5,632.9 225.0,637.3 229.5,637.3 221.0,633.1 270.2,631.8 279.4,631.1 222.4,636.5 235.2,627.0 221.9,628.3 246.0,626.6 270.1,632.3 242.9,635.3 257.1,627.7 271.0,630.6 242.5,626.4 280.2,632.0 258.9,627.8 224.0,637.3 266.1,632.6 221.0,636.1 232.7,626.3 261.3,632.3 241.5,625.4 265.9,627.1 233.0,637.6 224.0,637.5 236.4,626.4 227.7,637.3 221.5,628.2 249.7,625.3 232.8,619.8 222.5,625.4 271.1,632.4 236.9,636.8 241.0,636.9 293.3,631.9 253.3,635.7 255.5,635.6 245.4,636.1 248.3,625.4 231.1,625.4 269.9,629.6 273.0,631.3 254.9,625.9 263.5,597.5 279.1,628.7"/></g>
<rect class="b" x="217.80" y="595.93" width="78.41" height="43.50"/>
<g clip-path="url(#c7_2)"><path class="f" transform="translate(0 .5)" d="M337 621h4M345 621h7M331 622h24M359 622h1M326 623h36M324 624h41M323 625h42M322 626h43M321 627h44M369 627h4M321 628h45M369 628h4M320 629h49M320 630h48M320 631h48M320 632h48M375 632h1M320 633h50M375 633h1M320 634h50M320 635h47M321 636h46M321 637h46M321 638h44M322 639h43M323 640h32M324 641h22"/><polyline class="p" points="335.7,636.7 345.3,626.6 325.4,629.7 350.5,635.5 351.8,635.9 340.2,625.7 369.5,633.3 325.0,631.9 342.2,636.4 324.5,633.7 337.0,637.0 350.1,635.9 335.3,626.2 355.3,635.3 324.5,631.0 325.2,637.3 362.0,634.5 350.8,636.8 334.8,636.9 324.5,630.6 341.3,637.3 353.1,636.3 336.4,637.3 324.5,629.8 349.7,636.9 325.6,628.4 345.8,636.7 353.3,627.0 328.6,636.6 361.2,629.2 359.0,626.4 330.4,627.2 333.1,637.2 337.8,625.4 363.0,631.3 336.4,637.6 371.8,631.4 342.2,637.5 325.9,627.5 350.7,625.3 336.7,619.8 349.8,625.4 343.5,626.0 330.6,637.1 332.6,637.6 365.9,636.1 378.2,635.4 358.3,635.4 324.9,628.6 345.4,637.0 354.2,626.7 357.1,635.8 345.9,625.4 362.3,635.3 397.0,634.3 350.7,597.5 333.2,625.8 368.2,628.1 329.6,637.6 324.5,634.7 364.5,628.5"/></g>
<rect class="b" x="321.55" y="595.93" width="78.41" height="43.50"/>
<g clip-path="url(#c7_3)"><path class="f" transform="translate(0 .5)" d="M429 621h4M447 621h6M428 622h9M442 622h13M427 623h32M426 624h34M426 625h36M425 626h37M425 627h37M425 628h33M461 628h1M425 629h33M461 629h1M425 630h33M425 631h35M425 632h33M424 633h30M424 634h29M424 635h25M424 636h24M424 637h21M424 638h20M425 639h17M426 640h8M427 641h4"/><polyline class="p" points="428.8,635.6 428.9,634.2 453.2,628.7 429.9,629.6 432.7,635.3 428.6,635.5 429.7,630.2 447.8,630.1 430.3,636.7 429.5,629.7 430.2,626.6 428.5,635.9 428.9,631.3 449.3,625.7 428.6,636.4 428.5,636.4 428.5,637.0 450.8,626.2 428.5,637.3 432.9,635.7 439.5,627.7 446.6,631.3 429.1,629.3 441.1,635.0 446.3,632.4 434.4,626.6 454.0,626.8 443.4,626.6 428.6,633.4 451.7,630.1 439.2,627.1 435.7,635.0 451.5,625.8 443.2,626.3 430.7,625.4 428.3,637.6 429.3,627.9 430.0,625.3 462.7,619.8 457.7,627.8 447.2,625.4 429.5,626.0 454.1,626.2 434.2,635.9 432.2,625.4 451.8,625.4 500.8,597.5 456.1,628.3 436.0,626.3"/></g>
<rect class="b" x="425.30" y="595.93" width="78.41" height="43.50"/>
<g clip-path="url(#c7_4)"><path class="f" transform="translate(0 .5)" d="M539 621h4M551 621h1M533 622h21M532 623h23M531 624h31M571 624h2M583 624h2M530 625h34M567 625h8M581 625h6M530 626h54M587 626h1M529 627h41M574 627h10M587 627h1M529 628h41M574 628h10M587 628h2M529 629h41M574 629h10M588 629h2M529 630h42M574 630h10M588 630h2M529 631h55M588 631h2M528 632h56M587 632h3M528 633h61M602 633h1M528 634h60M528 635h33M564 635h11M529 636h32M564 636h5M529 637h28M564 637h1M529 638h27M530 639h23M531 640h18M532 641h12"/><polyline class="p" points="534.1,636.7 533.0,631.7 539.2,626.6 542.9,625.7 534.4,637.0 536.4,626.2 570.0,630.3 584.7,629.7 534.2,628.9 535.1,637.3 533.2,635.7 557.7,631.9 553.5,628.3 534.3,627.8 542.2,637.3 533.3,629.8 533.5,628.5 572.0,628.4 577.8,630.1 568.8,628.9 532.5,635.0 533.4,636.6 555.4,628.4 545.3,626.4 579.8,630.2 535.0,625.8 559.6,627.6 541.0,625.4 535.0,637.6 560.4,627.9 574.3,629.8 537.3,619.8 539.2,625.4 550.4,635.7 573.9,630.4 556.1,632.9 536.6,637.6 532.0,633.7 604.5,630.3 571.9,630.4 582.5,629.5 533.5,637.5 565.8,630.9 554.6,627.7 551.4,625.4 532.6,636.1 533.2,627.6 585.5,630.8 567.0,632.5 547.3,636.6 572.6,631.7 562.2,633.5 583.8,628.2 539.8,597.5 582.3,630.0 563.4,633.2 604.4,628.1 554.5,634.3"/></g>
<rect class="b" x="529.05" y="595.93" width="78.41" height="43.50"/>
<g clip-path="url(#c7_5)"><path class="f" transform="translate(0 .5)" d="M637 621h5M650 621h5M635 622h22M634 623h25M662 623h3M633 624h36M633 625h36M632 626h37M632 627h37M632 628h37M632 629h36M632 630h36M632 631h36M632 632h36M632 633h35M632 634h35M632 635h34M632 636h33M633 637h30M633 638h28M633 639h25M634 640h22M635 641h15"/><polyline class="p" points="637.0,633.7 636.5,629.9 641.5,636.7 658.1,628.1 646.9,636.3 652.0,625.7 636.7,628.5 636.2,634.3 636.1,629.7 641.0,637.0 647.2,626.2 644.8,636.4 642.5,637.3 636.6,636.1 648.0,636.6 645.9,636.9 638.4,637.1 636.7,627.4 652.6,636.5 655.0,635.0 642.0,626.6 661.8,627.6 637.4,636.8 659.0,634.1 657.6,634.8 649.5,625.8 641.3,625.4 640.6,637.6 635.9,628.8 660.2,634.0 654.1,636.3 645.1,637.3 637.5,625.3 644.3,619.8 649.5,636.9 663.2,632.3 636.9,637.6 636.7,626.3 655.5,626.6 636.2,635.2 672.4,627.7 654.3,625.4 635.7,629.7 664.3,627.6 637.5,597.5 667.7,627.7 708.3,633.1 645.9,637.6"/></g>
<rect class="b" x="632.80" y="595.93" width="78.41" height="43.50"/>
<g clip-path="url(#c7_6)"><path class="f" transform="translate(0 .5)" d="M741 621h6M773 621h1M780 621h2M740 622h16M760 622h24M739 623h51M738 624h48M791 624h1M737 625h49M792 625h1M737 626h49M792 626h3M736 627h50M792 627h3M736 628h51M792 628h3M735 629h53M792 629h3M735 630h58M735 631h57M735 632h52M790 632h2M736 633h51M790 633h2M736 634h49M790 634h2M736 635h48M790 635h2M737 636h47M790 636h2M737 637h43M738 638h40M738 639h37M739 640h34M741 641h21"/><polyline class="p" points="764.3,635.6 740.3,629.8 754.0,636.7 742.7,626.6 773.0,625.7 751.0,637.0 756.1,627.2 775.1,626.2 740.7,628.6 759.2,636.4 753.7,637.3 764.9,636.6 783.5,630.4 766.4,636.5 740.0,629.9 773.3,634.8 747.6,637.1 761.6,636.4 740.5,634.5 756.9,637.3 780.3,631.5 768.8,636.5 796.0,631.1 758.6,637.3 745.9,636.9 739.9,632.4 786.7,628.0 755.9,626.6 766.5,626.8 777.4,633.0 741.8,636.6 739.8,629.3 751.3,626.4 744.7,637.3 776.9,634.1 781.6,625.8 761.0,626.3 774.0,635.1 746.1,625.4 761.9,636.9 758.5,637.6 739.6,628.8 743.1,637.5 766.9,626.4 786.8,633.1 764.1,625.8 742.1,625.3 767.9,619.8 773.5,625.4 741.9,637.1 771.1,636.1 739.6,630.9 750.5,637.6 787.6,635.4 740.6,636.0 789.9,627.7 785.0,633.1 780.8,625.4 771.8,636.4 765.2,597.5 799.8,627.7 739.5,631.9 769.4,626.0 749.7,625.8 812.0,633.1 748.9,637.6 788.0,627.2"/></g>
<rect class="b" x="736.55" y="595.93" width="78.41" height="43.50"/>
<g clip-path="url(#c7_7)"><text class="l" text-anchor="middle" x="879.20" y="622.00">density</text></g>
<rect class="b" x="840.30" y="595.93" width="78.41" height="43.50"/>
<g clip-path="url(#c7_8)"><path class="f" transform="translate(0 .5)" d="M956 621h3M970 621h9M955 622h34M954 623h45M948 624h51M948 625h56M948 626h60M947 627h64M946 628h67M944 629h71M945 630h70M945 631h67M945 632h67M1015 632h1M945 633h67M1015 633h1M945 634h71M946 635h69M947 636h68M949 637h66M952 638h56M953 639h54M955 640h51M961 641h31"/><polyline class="p" points="977.8,636.7 959.2,635.3 1000.4,629.5 965.3,636.3 957.2,635.5 969.0,625.7 960.4,636.4 977.3,637.0 957.0,626.2 954.5,634.3 996.7,636.4 953.8,635.0 975.8,637.3 969.7,636.6 1004.3,636.5 982.8,636.8 962.2,636.6 1006.2,629.9 974.5,637.3 970.6,637.3 964.9,636.9 1009.3,631.1 992.0,635.8 1000.3,636.5 998.8,626.6 987.6,636.3 969.2,637.3 987.3,627.1 1007.1,632.9 987.4,626.3 985.8,637.2 990.5,637.1 948.9,633.1 974.7,625.4 990.3,637.6 966.3,637.5 977.4,637.3 981.1,625.8 957.1,625.3 971.1,619.8 971.8,625.4 960.1,636.8 964.6,626.2 949.8,629.7 957.5,636.4 991.4,627.5 979.6,637.6 986.7,637.6 955.6,636.1 954.8,627.2 1011.3,633.2 963.3,636.9 963.9,637.5 1010.8,631.7 958.2,625.4 977.7,625.4 997.0,628.1 950.2,629.0 982.9,625.9 984.7,597.5 1014.7,633.4 990.6,626.9 948.1,628.1 1002.4,629.0 994.3,627.4"/></g>
<rect class="b" x="944.05" y="595.93" width="78.41" height="43.50"/>
<g clip-path="url(#c7_9)"><path class="f" transform="translate(0 .5)" d="M1059 621h4M1070 621h3M1076 621h2M1053 622h27M1053 623h27M1083 623h3M1052 624h39M1101 624h3M1122 624h1M1051 625h43M1098 625h11M1049 626h60M1125 626h2M1049 627h60M1126 627h2M1048 628h60M1116 628h3M1126 628h2M1048 629h59M1116 629h3M1127 629h1M1048 630h59M1116 630h3M1048 631h59M1111 631h1M1118 631h1M1048 632h59M1110 632h2M1118 632h2M1048 633h61M1119 633h1M1123 633h2M1048 634h58M1123 634h1M1048 635h45M1048 636h38M1089 636h3M1048 637h36M1049 638h33M1049 639h31M1051 640h26M1053 641h19"/><polyline class="p" points="1058.7,636.7 1053.0,633.8 1084.2,631.9 1066.5,626.6 1054.8,636.3 1111.1,628.6 1055.9,625.7 1063.4,636.4 1068.4,637.0 1052.7,632.2 1060.5,626.2 1094.4,629.7 1089.8,632.3 1079.3,628.6 1055.1,637.3 1052.2,630.0 1064.4,636.8 1063.2,636.9 1097.2,630.3 1065.1,637.3 1054.7,637.3 1083.0,633.1 1101.5,628.4 1052.4,634.6 1053.1,636.5 1068.8,626.6 1073.6,636.0 1077.2,634.7 1081.8,628.4 1086.9,628.4 1077.4,635.3 1073.1,626.4 1058.7,636.8 1051.8,633.2 1081.0,627.9 1080.9,634.4 1061.0,637.3 1094.1,633.9 1065.0,625.8 1052.0,636.0 1071.1,637.1 1076.9,625.4 1107.8,629.2 1062.1,637.6 1051.6,631.0 1059.3,637.5 1060.2,625.8 1070.3,625.3 1057.2,619.8 1062.2,625.4 1090.6,628.6 1099.7,629.8 1052.4,636.9 1051.9,629.1 1105.4,630.0 1102.9,628.2 1098.1,629.5 1121.3,630.1 1071.9,625.4 1083.1,627.5 1059.4,625.4 1078.5,635.5 1122.5,630.1 1100.9,630.8 1069.9,597.5 1076.4,636.1 1084.7,627.3 1123.3,628.1"/></g>
<rect class="b" x="1047.80" y="595.93" width="78.41" height="43.50"/>
<g clip-path="url(#c7_10)"><path class="f" transform="translate(0 .5)" d="M1154 621h6M1165 621h3M1186 621h1M1152 622h25M1185 622h2M1151 623h36M1190 623h1M1214 623h1M1151 624h53M1210 624h2M1218 624h1M1150 625h62M1215 625h2M1151 626h61M1215 626h2M1151 627h66M1220 627h2M1151 628h71M1152 629h68M1153 630h67M1155 631h65M1156 632h67M1157 633h67M1158 634h66M1158 635h65M1159 636h63M1160 637h61M1161 638h59M1162 639h4M1169 639h50M1183 640h35M1193 641h22"/><polyline class="p" points="1167.5,634.2 1183.0,635.5 1178.6,634.6 1211.7,636.7 1177.3,628.1 1159.3,629.3 1162.8,626.6 1200.1,636.3 1192.1,635.9 1156.7,625.7 1192.9,636.4 1203.6,636.4 1171.0,635.4 1200.0,637.0 1186.6,635.3 1192.5,629.0 1182.5,628.0 1205.7,637.3 1177.5,635.1 1196.7,636.9 1203.9,629.8 1196.5,628.9 1209.7,637.3 1179.5,627.9 1184.0,635.8 1186.2,627.4 1186.3,636.0 1190.5,628.1 1215.5,627.0 1179.3,635.5 1207.1,626.4 1187.1,636.7 1215.5,636.6 1163.2,625.8 1217.6,629.3 1168.7,634.8 1165.8,625.4 1179.9,627.1 1206.5,637.6 1212.4,628.8 1212.4,637.5 1173.9,626.9 1167.1,625.3 1162.9,619.8 1200.7,628.6 1154.5,625.4 1198.0,627.9 1157.4,628.8 1162.9,633.8 1173.8,635.4 1161.4,631.8 1183.1,636.0 1173.1,626.6 1194.4,636.9 1205.1,637.6 1193.5,628.4 1184.0,636.4 1161.7,633.6 1155.2,627.2 1202.3,637.5 1164.0,635.9 1206.0,629.0 1221.8,631.0 1219.0,633.7 1191.5,636.5 1175.4,635.4 1175.5,626.7 1172.0,635.8 1187.1,625.4 1216.3,633.9 1159.2,625.4 1176.1,626.4 1212.3,628.1 1173.0,626.1 1193.4,597.5 1227.0,629.7 1199.4,637.6"/></g>
<rect class="b" x="1151.55" y="595.93" width="78.41" height="43.50"/>
<g clip-path="url(#c8_0)"><path class="f" transform="translate(0 .5)" d="M122 665h3M120 666h6M123 667h5M123 668h6M123 669h9M122 670h13M122 671h15M119 672h20M119 673h21M119 674h26M119 675h26M119 676h26M119 677h29M118 678h38M160 678h2M118 679h48M118 680h49M117 681h52M117 682h53M117 683h54M118 684h54M118 685h54M118 686h54M177 686h1M118 687h62M118 688h63M118 689h63M118 690h64M118 691h66M118 692h69M118 693h71M119 694h71M119 695h71M120 696h70M120 697h71M121 698h70M121 699h68M121 700h67M192 700h1M121 701h66M192 701h1M121 702h64M124 703h61M127 704h33M165 704h20M189 704h1M127 705h30M169 705h3M178 705h5M127 706h30M179 706h2M130 707h26M132 708h23M133 709h6M145 709h8M149 710h1"/><polyline class="p" points="123.2,687.8 124.1,696.5 123.5,678.9 149.5,682.4 121.3,681.9 123.2,675.6 129.4,673.8 164.8,699.2 136.6,675.6 145.7,703.9 185.8,696.3 125.0,702.1 127.6,672.0 142.2,679.8 122.5,692.0 161.2,699.3 158.6,683.6 159.1,700.0 130.3,673.3 122.1,687.4 139.5,677.8 129.8,700.3 134.6,705.6 166.2,700.4 126.5,699.2 124.7,674.0 159.0,682.9 187.7,701.0 167.0,686.3 154.5,682.2 184.2,695.7 145.4,705.1 130.6,703.2 117.0,682.3 171.2,700.0 141.3,678.2 117.3,688.9 179.4,693.2 168.0,687.5 180.0,702.3 172.5,700.5 123.2,671.0 152.7,704.9 134.4,674.6 144.0,677.7 177.1,690.5 140.4,703.7 126.1,671.2 187.1,700.4 139.7,703.9 167.1,684.8 161.1,682.3 123.0,669.1 169.8,701.5 164.7,683.4 125.4,699.4 149.4,706.0 189.5,698.5 146.5,681.1 138.7,705.0"/></g>
<rect class="b" x="114.05" y="664.77" width="78.41" height="43.50"/>
<g clip-path="url(#c8_1)"><path class="f" transform="translate(0 .5)" d="M245 667h3M241 668h1M245 668h3M225 669h2M240 669h8M222 670h6M238 670h13M222 671h36M224 672h34M224 673h36M219 674h2M224 674h37M267 674h3M276 674h1M219 675h43M267 675h4M219 676h53M218 677h55M218 678h56M219 679h55M219 680h56M219 681h56M281 681h1M219 682h56M283 682h1M218 683h59M218 684h58M218 685h58M285 685h1M218 686h58M285 686h1M218 687h59M217 688h53M274 688h3M217 689h53M274 689h3M217 690h53M274 690h1M278 690h1M217 691h54M274 691h1M280 691h1M217 692h58M217 693h58M217 694h57M217 695h56M217 696h55M217 697h50M217 698h46M218 699h39M260 699h2M218 700h39M260 700h1M218 701h39M260 701h1M218 702h41M218 703h38M219 704h33M220 705h31M221 706h26M224 707h16M225 708h14M226 709h6"/><polyline class="p" points="223.5,683.5 256.4,694.2 252.1,698.7 222.0,695.3 225.2,703.1 222.4,702.6 267.4,684.2 221.8,695.8 229.3,675.6 234.0,674.8 266.7,693.0 248.9,673.8 281.2,685.4 270.0,690.6 268.5,678.6 227.9,675.6 223.0,687.3 221.0,697.5 270.2,680.9 279.4,672.0 222.4,677.0 221.9,692.6 260.1,679.8 258.1,677.7 222.9,682.0 271.0,682.9 280.2,686.9 233.2,703.8 243.0,702.2 225.5,673.3 221.0,690.1 222.7,685.4 229.9,705.6 265.9,693.1 256.6,698.0 222.7,674.0 258.2,676.9 249.7,701.0 271.1,686.4 226.8,705.1 270.1,692.4 222.0,685.7 257.4,698.5 262.1,673.1 244.3,673.4 239.5,702.7 237.4,703.7 293.3,682.3 244.4,671.0 255.7,676.0 243.3,671.2 240.4,673.6 222.7,679.2 221.7,684.9 263.6,680.1 221.3,693.0 255.0,699.0 254.3,674.9 273.0,676.1 236.2,704.8 261.7,694.4 252.0,669.1 244.1,702.0 242.0,706.0 252.6,699.3 279.1,690.6"/></g>
<rect class="b" x="217.80" y="664.77" width="78.41" height="43.50"/>
<g clip-path="url(#c8_2)"><path class="f" transform="translate(0 .5)" d="M323 665h3M322 666h5M321 667h8M321 668h10M320 669h17M320 670h23M320 671h24M320 672h25M321 673h24M321 674h26M321 675h27M320 676h30M353 676h1M320 677h34M320 678h34M320 679h34M320 680h35M320 681h39M320 682h39M320 683h40M320 684h41M320 685h41M320 686h41M320 687h42M320 688h47M320 689h48M320 690h48M320 691h49M320 692h51M320 693h49M320 694h48M321 695h46M321 696h46M322 697h45M323 698h44M323 699h44M324 700h43M325 701h41M326 702h39M328 703h37M329 704h35M330 705h30M363 705h1M330 706h30M363 706h1M331 707h23M332 708h19M334 709h6M343 709h2M348 709h1"/><polyline class="p" points="349.6,677.0 330.4,700.5 369.5,696.0 325.0,680.7 353.1,685.1 324.5,678.9 353.1,703.1 360.2,702.6 324.5,684.2 339.4,674.8 362.0,692.2 333.0,673.8 324.5,685.4 341.1,703.9 324.5,687.5 353.5,684.3 324.5,672.0 328.1,698.0 346.4,678.9 361.2,691.5 360.0,688.2 335.7,673.3 337.4,705.6 363.0,694.4 371.8,688.7 341.0,674.0 324.5,676.9 343.6,705.1 332.9,703.2 324.5,692.4 324.5,693.9 362.7,696.6 357.4,688.5 365.9,701.9 356.8,702.3 378.2,697.0 327.8,698.0 325.1,671.0 348.4,704.9 327.4,698.1 334.7,704.9 327.8,671.2 326.3,696.9 354.2,680.3 333.7,704.8 397.0,689.8 324.5,669.1 355.7,684.8 368.2,706.0 327.8,698.9 364.5,692.0"/></g>
<rect class="b" x="321.55" y="664.77" width="78.41" height="43.50"/>
<g clip-path="url(#c8_3)"><path class="f" transform="translate(0 .5)" d="M430 665h1M426 666h1M430 666h2M426 667h7M425 668h8M425 669h10M425 670h10M425 671h11M425 672h18M425 673h19M425 674h22M424 675h23M424 676h24M424 677h25M424 678h28M424 679h28M424 680h29M424 681h29M424 682h30M424 683h32M424 684h33M424 685h33M424 686h34M424 687h34M424 688h34M424 689h34M424 690h36M424 691h36M424 692h34M424 693h34M424 694h34M424 695h34M461 695h1M424 696h38M424 697h35M424 698h35M424 699h35M424 700h35M424 701h34M425 702h33M425 703h32M426 704h29M426 705h27M427 706h25M428 707h24M428 708h22M429 709h5M440 709h4M431 710h1"/><polyline class="p" points="428.8,686.2 428.9,693.6 453.2,693.7 428.6,687.6 428.7,699.8 441.6,677.0 428.7,701.0 428.9,683.5 428.6,684.6 428.6,699.2 428.5,689.9 428.5,694.0 450.8,701.1 428.9,677.5 430.0,702.5 428.4,679.1 438.4,675.6 428.5,674.8 432.6,673.8 443.9,679.4 428.5,696.4 431.5,672.0 428.5,681.7 450.9,701.5 454.0,700.0 443.4,677.9 437.7,703.8 449.0,702.7 428.8,702.3 441.8,705.6 447.6,678.0 462.7,693.2 457.7,696.7 445.4,704.7 429.8,671.0 431.2,704.9 448.2,704.7 447.8,704.9 447.2,681.3 449.5,683.1 441.2,676.0 439.1,704.8 500.8,685.7 428.9,669.1 453.5,686.9 456.1,693.9 431.3,706.0 446.6,680.4"/></g>
<rect class="b" x="425.30" y="664.77" width="78.41" height="43.50"/>
<g clip-path="url(#c8_4)"><path class="f" transform="translate(0 .5)" d="M539 665h3M538 666h2M543 666h1M537 667h3M535 668h5M534 669h8M533 670h13M532 671h14M531 672h15M530 673h17M529 674h18M529 675h19M529 676h20M529 677h20M529 678h29M529 679h28M529 680h28M529 681h28M529 682h28M529 683h29M562 683h1M529 684h30M562 684h1M529 685h34M529 686h34M529 687h37M529 688h41M529 689h46M529 690h48M528 691h51M528 692h52M528 693h59M528 694h55M586 694h2M528 695h55M528 696h55M528 697h55M528 698h53M589 698h1M528 699h34M568 699h13M589 699h1M528 700h29M560 700h1M568 700h8M588 700h2M529 701h28M572 701h3M587 701h2M530 702h27M583 702h5M530 703h26M583 703h3M530 704h25M531 705h14M550 705h4M531 706h12M532 707h9M533 708h7M535 709h3"/><polyline class="p" points="549.6,700.3 534.5,676.0 534.1,689.6 533.0,687.8 546.5,681.3 570.0,694.1 584.7,697.2 534.4,702.9 557.7,682.5 556.7,696.0 533.8,675.6 537.0,703.9 547.0,700.1 536.4,672.0 572.0,696.5 533.3,683.6 577.8,695.7 572.4,697.2 532.5,691.4 548.4,681.6 533.5,701.6 579.8,700.8 550.2,682.0 540.7,702.3 532.7,695.6 539.1,673.3 533.1,680.8 559.6,695.8 534.1,703.3 536.1,705.6 552.8,682.0 560.4,698.7 555.5,687.2 537.0,705.1 573.9,693.4 533.2,684.7 541.0,673.4 532.0,699.1 550.2,700.5 604.5,696.0 582.5,693.1 541.0,671.0 535.1,704.9 565.8,691.7 542.8,702.0 541.3,671.2 568.6,692.1 556.9,683.3 541.7,675.0 532.6,685.7 585.5,699.0 545.1,678.3 550.5,676.1 567.0,696.4 562.2,690.3 583.8,696.9 582.3,692.9 558.4,683.9 540.6,669.1 533.2,678.1 558.5,688.4 563.4,697.9 551.6,702.0 604.4,706.0 533.1,675.4"/></g>
<rect class="b" x="529.05" y="664.77" width="78.41" height="43.50"/>
<g clip-path="url(#c8_5)"><path class="f" transform="translate(0 .5)" d="M650 667h1M638 668h1M637 669h9M634 670h13M634 671h14M653 671h2M634 672h15M652 672h4M633 673h24M633 674h21M633 675h21M632 676h22M658 676h1M632 677h23M658 677h1M632 678h27M632 679h29M632 680h29M632 681h29M632 682h29M632 683h34M632 684h35M632 685h36M632 686h36M632 687h37M632 688h37M632 689h37M632 690h37M632 691h38M632 692h36M632 693h36M632 694h36M632 695h36M632 696h36M632 697h36M632 698h35M632 699h35M632 700h35M632 701h29M632 702h29M633 703h28M634 704h24M634 705h23M634 706h23M638 707h17M639 708h12M639 709h10M643 710h1"/><polyline class="p" points="637.0,691.3 636.5,687.8 636.7,696.9 650.2,677.8 636.2,692.7 636.1,696.9 637.4,677.5 638.7,702.5 636.3,686.8 646.1,675.6 645.6,674.8 636.6,684.0 644.8,673.8 650.7,703.9 647.7,672.0 652.6,677.0 636.1,691.4 636.6,679.8 635.9,683.4 636.7,677.5 653.7,702.7 635.9,690.4 643.1,673.3 654.7,678.6 638.2,705.6 636.2,679.2 635.9,686.9 655.7,700.0 643.5,705.1 657.0,683.1 637.0,700.0 663.2,692.3 638.4,673.1 637.9,673.4 641.8,704.7 637.0,701.9 637.0,702.3 636.7,700.6 650.0,671.0 646.1,704.9 637.2,674.6 672.4,694.8 640.5,671.2 637.5,673.6 663.1,696.1 658.9,685.6 658.5,698.3 653.9,703.0 636.0,693.8 661.8,699.5 653.9,675.6 664.3,687.5 638.4,669.1 636.2,677.3 636.3,701.5 667.7,696.7 661.5,683.3 708.3,684.2 643.5,706.0 648.7,705.0"/></g>
<rect class="b" x="632.80" y="664.77" width="78.41" height="43.50"/>
<g clip-path="url(#c8_6)"><path class="f" transform="translate(0 .5)" d="M746 668h1M761 668h1M740 669h7M753 669h2M759 669h3M738 670h12M753 670h10M737 671h32M736 672h34M736 673h34M774 673h1M736 674h41M736 675h43M736 676h44M736 677h45M736 678h45M736 679h45M736 680h45M736 681h47M735 682h48M736 683h47M736 684h47M736 685h48M735 686h49M735 687h51M735 688h53M735 689h54M736 690h52M736 691h52M792 691h2M736 692h52M792 692h2M736 693h58M736 694h59M736 695h59M736 696h59M736 697h59M736 698h59M737 699h48M789 699h2M737 700h48M789 700h1M737 701h48M737 702h45M737 703h44M738 704h41M739 705h39M740 706h6M749 706h28M755 707h20M755 708h16M760 709h2M768 709h1"/><polyline class="p" points="740.3,688.2 772.8,677.8 741.2,696.9 775.1,701.1 783.5,694.7 771.4,675.6 766.4,674.8 747.7,673.8 740.0,687.0 741.0,697.3 740.5,691.0 740.5,682.1 796.0,694.8 768.1,703.9 740.2,682.7 740.1,684.3 763.1,672.0 740.0,679.8 752.3,701.5 786.7,692.4 759.5,703.8 749.4,702.2 740.0,692.4 740.0,677.5 739.8,690.4 759.4,673.3 753.3,705.6 778.9,699.5 739.6,686.9 756.7,674.0 786.8,697.6 779.8,686.9 742.1,701.0 778.8,700.0 760.1,705.1 744.1,673.1 740.0,695.4 739.6,681.6 740.1,673.4 763.1,704.7 744.5,701.9 741.0,702.3 787.6,697.0 758.2,671.0 768.8,704.7 759.2,704.9 789.9,694.8 748.4,671.2 778.1,684.8 785.0,697.6 740.6,698.7 739.9,697.2 775.9,678.5 739.5,688.4 774.0,703.0 745.2,669.1 781.9,685.1 799.8,696.7 755.5,702.5 812.0,684.2 750.0,706.0 768.2,705.0 779.1,680.4"/></g>
<rect class="b" x="736.55" y="664.77" width="78.41" height="43.50"/>
<g clip-path="url(#c8_7)"><path class="f" transform="translate(0 .5)" d="M850 665h3M849 666h5M848 667h8M847 668h10M847 669h11M847 670h13M844 671h17M843 672h19M842 673h20M842 674h22M841 675h23M841 676h23M841 677h24M841 678h25M841 679h27M841 680h27M840 681h28M840 682h28M839 683h29M839 684h30M840 685h29M840 686h29M840 687h29M840 688h30M840 689h30M840 690h30M840 691h31M840 692h31M840 693h31M840 694h31M840 695h29M840 696h29M840 697h29M840 698h29M840 699h30M841 700h29M842 701h28M842 702h28M843 703h26M843 704h25M844 705h23M846 706h19M848 707h17M849 708h15M850 709h13M860 710h1"/><polyline class="p" points="845.2,689.6 847.5,701.0 865.0,694.4 845.8,699.2 844.7,689.8 864.1,701.1 849.5,702.5 845.7,679.1 848.3,702.9 844.1,690.7 845.6,674.8 845.1,686.8 857.5,673.8 844.1,693.5 844.9,696.7 855.2,672.0 845.5,677.0 847.9,702.8 863.4,677.9 864.0,684.2 844.3,685.1 844.5,682.5 851.8,705.6 865.5,691.3 843.5,682.6 843.8,695.9 864.9,687.7 865.7,701.0 875.7,693.2 845.0,699.4 857.9,705.1 845.7,700.8 843.6,688.6 843.7,684.6 846.3,701.9 851.5,671.0 843.7,697.3 854.2,671.2 861.6,681.3 860.6,678.9 915.8,685.7 851.1,669.1 860.7,706.0 862.0,680.4"/></g>
<rect class="b" x="840.30" y="664.77" width="78.41" height="43.50"/>
<g clip-path="url(#c8_8)"><text class="l" text-anchor="middle" x="982.95" y="691.00">pH</text></g>
<rect class="b" x="944.05" y="664.77" width="78.41" height="43.50"/>
<g clip-path="url(#c8_9)"><path class="f" transform="translate(0 .5)" d="M1064 667h2M1069 667h1M1063 668h3M1069 668h1M1059 669h7M1069 669h1M1059 670h11M1058 671h17M1078 671h1M1052 672h23M1078 672h2M1052 673h26M1052 674h26M1052 675h26M1052 676h31M1052 677h33M1051 678h34M1050 679h36M1050 680h38M1050 681h40M1050 682h40M1049 683h41M1048 684h42M1048 685h46M1048 686h46M1048 687h46M1048 688h47M1098 688h5M1048 689h54M1048 690h54M1048 691h54M1048 692h55M1048 693h57M1048 694h57M1048 695h61M1048 696h60M1048 697h60M1048 698h60M1048 699h60M1116 699h2M1126 699h1M1048 700h60M1116 700h2M1126 700h1M1048 701h38M1092 701h8M1104 701h5M1117 701h1M1126 701h1M1048 702h37M1099 702h1M1104 702h2M1126 702h1M1048 703h37M1104 703h1M1118 703h2M1126 703h1M1048 704h35M1119 704h1M1049 705h28M1119 705h1M1049 706h26M1050 707h22M1052 708h17M1055 709h4M1062 709h5"/><polyline class="p" points="1053.0,695.0 1111.1,697.9 1052.7,699.6 1094.4,697.2 1058.7,675.6 1066.6,674.8 1052.2,694.1 1062.4,673.8 1083.7,683.9 1097.2,688.6 1071.5,675.6 1058.9,703.9 1056.6,672.0 1101.5,696.5 1052.4,691.4 1093.5,688.6 1070.6,703.3 1084.1,697.2 1053.9,684.0 1086.9,700.0 1051.8,694.9 1087.6,696.6 1094.1,692.5 1080.6,700.8 1078.9,677.5 1052.2,698.7 1061.2,673.3 1075.9,680.1 1068.2,703.3 1052.0,685.8 1086.7,686.6 1056.0,705.6 1107.8,696.4 1051.6,694.1 1090.2,688.6 1051.8,697.3 1062.7,705.1 1084.9,683.1 1099.7,694.6 1063.9,673.1 1105.4,693.2 1082.2,699.4 1073.9,702.3 1102.9,699.5 1065.8,671.0 1066.4,704.9 1121.3,701.0 1052.2,689.2 1054.6,704.7 1076.7,674.6 1100.9,691.7 1069.0,671.2 1066.1,673.6 1057.0,676.6 1052.3,703.9 1122.5,700.4 1100.9,699.0 1055.9,676.0 1075.8,678.8 1073.4,669.1 1085.9,681.1 1054.4,679.8 1123.3,706.0"/></g>
<rect class="b" x="1047.80" y="664.77" width="78.41" height="43.50"/>
<g clip-path="url(#c8_10)"><path class="f" transform="translate(0 .5)" d="M1178 666h2M1176 667h7M1173 668h11M1172 669h14M1195 669h2M1172 670h17M1192 670h7M1172 671h17M1192 671h8M1206 671h2M1165 672h1M1169 672h31M1206 672h3M1164 673h2M1169 673h41M1163 674h3M1169 674h42M1163 675h48M1163 676h49M1161 677h51M1160 678h53M1159 679h55M1156 680h58M1155 681h60M1154 682h61M1218 682h1M1154 683h61M1218 683h1M1153 684h69M1154 685h68M1154 686h67M1154 687h67M1154 688h67M1153 689h68M1152 690h69M1151 691h70M1151 692h71M1151 693h69M1151 694h69M1152 695h68M1153 696h65M1154 697h64M1221 697h1M1154 698h64M1154 699h63M1154 700h62M1153 701h61M1154 702h60M1154 703h60M1155 704h49M1209 704h2M1156 705h47M1158 706h44M1159 707h32M1198 707h3M1160 708h14M1180 708h9M1162 709h10M1183 709h4M1169 710h1"/><polyline class="p" points="1210.2,682.6 1162.0,683.5 1156.7,694.4 1191.1,701.5 1157.4,701.1 1193.2,702.9 1162.1,681.9 1206.1,674.8 1188.3,703.9 1200.7,702.1 1177.9,672.0 1215.5,692.6 1198.7,702.8 1160.0,677.9 1182.6,703.8 1215.5,689.6 1184.4,673.3 1158.5,684.2 1199.0,703.3 1209.3,698.8 1184.8,705.6 1217.6,694.5 1212.4,686.9 1217.6,700.4 1206.5,676.9 1154.5,692.9 1166.7,705.1 1177.9,703.2 1165.8,679.3 1207.5,699.0 1196.0,673.4 1172.1,704.7 1158.7,702.3 1175.7,703.7 1157.5,684.5 1180.9,671.0 1214.9,685.3 1171.3,676.9 1212.9,697.3 1214.3,679.4 1221.8,687.6 1219.0,680.3 1210.0,700.1 1194.1,674.6 1177.4,671.2 1191.7,673.6 1216.3,688.2 1167.4,675.0 1180.2,703.9 1161.9,704.8 1218.7,688.3 1176.5,669.1 1209.8,681.1 1164.8,679.5 1169.2,706.0 1227.0,698.5 1163.3,705.0 1169.0,675.9"/></g>
<rect class="b" x="1151.55" y="664.77" width="78.41" height="43.50"/>
<g clip-path="url(#c9_0)"><path class="f" transform="translate(0 .5)" d="M146 731h5M144 732h1M150 732h2M143 733h2M151 733h1M142 734h3M151 734h1M142 735h3M151 735h1M142 736h1M151 736h3M142 737h1M151 737h3M151 738h4M150 739h3M147 740h2M141 743h1M152 743h1M140 744h5M149 744h1M154 744h1M138 745h12M154 745h6M137 746h13M154 746h5M136 747h14M154 747h5M135 748h24M135 749h4M142 749h17M134 750h5M142 750h18M133 751h6M142 751h19M132 752h31M131 753h32M174 753h1M128 754h37M171 754h6M126 755h52M125 756h55M124 757h57M184 757h1M124 758h64M121 759h67M120 760h69M119 761h72M119 762h67M189 762h2M118 763h68M189 763h3M118 764h68M191 764h2M118 765h70M191 765h1M118 766h70M191 766h1M118 767h73M118 768h72M117 769h71M117 770h66M117 771h65M118 772h57M178 772h3M119 773h55M180 773h1M120 774h42M169 774h1M120 775h41M122 776h38M123 777h29M126 778h25M134 779h4"/><polyline class="p" points="125.2,772.9 140.1,773.5 135.0,774.2 123.2,770.7 124.1,773.2 125.5,763.0 157.2,742.0 139.8,774.4 161.8,768.7 135.6,753.8 121.3,769.8 136.3,774.7 153.3,771.3 138.6,749.7 177.0,759.4 131.4,773.9 165.5,768.5 185.8,765.5 152.3,747.3 127.8,774.5 122.5,764.5 147.6,751.7 160.8,758.2 124.8,762.7 158.6,772.2 159.1,755.4 146.2,773.7 133.3,774.9 132.0,751.4 128.1,774.8 163.2,758.5 153.0,743.8 166.1,759.1 135.7,775.0 179.2,761.5 170.8,759.3 146.4,748.8 187.7,764.6 141.3,753.6 184.2,761.5 153.7,751.6 133.1,756.5 163.6,769.6 175.4,753.3 151.4,748.3 117.0,767.3 142.6,774.1 117.3,767.2 179.4,768.3 138.2,774.8 144.6,745.2 163.8,746.5 169.0,770.0 147.6,736.4 149.2,773.4 181.8,762.4 142.2,747.7 177.1,771.1 187.1,763.7 174.2,757.5 127.0,761.1 154.5,772.2 127.3,759.2 145.8,735.7 141.4,747.7 151.6,773.0 144.2,774.6 123.0,762.9 122.8,772.2 171.9,769.3 171.3,758.3 149.2,774.6 149.4,735.2 189.5,761.5"/></g>
<rect class="b" x="114.05" y="733.61" width="78.41" height="43.50"/>
<g clip-path="url(#c9_1)"><path class="f" transform="translate(0 .5)" d="M241 731h1M236 733h1M246 735h1M235 738h3M236 739h2M243 739h2M236 740h8M236 741h7M239 742h4M239 743h4M239 744h7M249 744h4M235 745h8M246 745h5M231 746h1M235 746h7M246 746h5M229 747h13M246 747h5M254 747h1M229 748h13M246 748h5M254 748h1M229 749h1M233 749h9M246 749h5M254 749h1M229 750h1M233 750h18M254 750h1M229 751h1M233 751h22M226 752h32M225 753h30M224 754h31M258 754h2M221 755h34M258 755h3M220 756h43M220 757h41M219 758h42M264 758h5M218 759h43M264 759h6M218 760h53M218 761h53M217 762h54M217 763h59M217 764h59M217 765h58M217 766h58M217 767h58M217 768h60M217 769h60M217 770h60M217 771h61M217 772h58M218 773h57M218 774h57M218 775h42M270 775h3M219 776h36M220 777h27M222 778h21M237 779h1"/><polyline class="p" points="228.1,773.5 226.8,774.2 229.5,756.9 233.8,742.0 222.0,770.9 234.6,774.1 226.6,774.4 236.8,753.9 230.2,751.3 221.8,772.8 236.8,774.7 266.7,762.0 281.2,769.2 250.7,749.7 270.0,767.7 251.1,772.3 233.5,774.0 229.1,774.1 221.0,771.0 279.4,772.2 260.1,760.8 241.4,747.3 231.1,774.5 234.2,751.7 247.2,772.2 256.7,771.3 253.1,755.2 253.7,759.9 271.0,771.4 280.2,762.3 223.2,773.5 237.4,774.9 223.1,758.8 224.8,751.4 266.1,770.2 221.0,769.5 222.7,773.8 231.4,774.8 256.7,757.2 264.0,770.0 238.6,743.8 236.8,775.0 226.6,774.7 244.8,772.5 234.6,748.8 240.5,753.6 250.7,755.0 228.6,774.9 233.3,751.6 253.2,772.0 227.7,756.5 270.1,767.1 222.0,765.5 245.9,773.0 235.7,753.3 250.2,748.3 241.0,774.6 225.5,774.8 245.9,745.2 257.8,771.8 227.8,755.9 236.2,746.5 293.3,771.4 246.0,749.2 238.6,736.4 253.1,772.3 221.8,773.5 222.4,763.4 243.4,747.7 259.6,759.2 241.0,735.7 255.0,747.7 273.0,767.7 261.7,770.7 221.9,760.2 264.7,770.4 221.2,763.4 249.8,751.7 242.0,735.2 279.1,766.0 224.0,774.6"/></g>
<rect class="b" x="217.80" y="733.61" width="78.41" height="43.50"/>
<g clip-path="url(#c9_2)"><path class="f" transform="translate(0 .5)" d="M340 733h1M341 735h1M331 736h1M341 736h1M341 737h1M332 738h1M341 738h1M340 739h2M340 740h2M334 741h1M340 741h2M334 742h1M340 742h2M348 742h3M340 743h2M349 743h4M349 744h4M331 745h2M343 745h1M349 745h4M331 746h3M343 746h1M349 746h4M334 747h19M325 748h1M334 748h19M356 748h2M325 749h1M334 749h20M357 749h1M325 750h3M331 750h23M325 751h3M331 751h23M326 752h31M326 753h33M326 754h33M325 755h34M322 756h39M322 757h39M322 758h40M321 759h42M321 760h43M320 761h44M320 762h45M320 763h45M320 764h45M320 765h45M320 766h46M320 767h49M320 768h50M320 769h50M320 770h48M320 771h48M320 772h47M321 773h45M321 774h45M322 775h44M323 776h39M325 777h36M327 778h27M342 779h1"/><polyline class="p" points="343.7,773.5 332.3,774.2 346.3,742.0 369.5,772.1 325.0,769.4 325.8,761.5 334.2,774.1 324.5,769.9 337.6,774.4 329.7,753.9 360.2,771.5 324.5,766.7 325.2,773.1 338.9,774.7 362.0,771.8 351.2,773.7 328.8,749.7 325.1,761.8 353.4,774.0 324.5,764.0 324.5,772.2 353.1,747.3 341.7,751.7 350.4,774.2 328.6,774.1 325.7,755.2 361.2,766.9 359.0,763.1 324.5,762.3 358.3,773.8 336.1,774.9 352.2,755.0 349.6,751.4 347.7,774.6 360.0,762.1 363.0,769.2 344.1,743.8 371.8,768.5 341.9,775.0 332.7,774.7 329.3,748.8 338.2,751.6 354.7,753.3 340.5,748.3 345.7,774.8 337.6,745.2 365.9,770.8 378.2,770.7 357.7,752.0 353.9,755.9 348.5,746.5 331.1,749.2 335.4,736.4 334.0,753.6 335.4,747.7 325.8,759.2 337.1,735.7 347.1,747.7 397.0,768.0 329.4,774.7 368.2,735.2 324.5,761.3 364.5,767.7"/></g>
<rect class="b" x="321.55" y="733.61" width="78.41" height="43.50"/>
<g clip-path="url(#c9_3)"><path class="f" transform="translate(0 .5)" d="M430 731h3M426 734h1M435 734h1M426 735h1M435 735h1M426 736h1M435 736h1M426 737h1M427 738h7M427 739h7M427 740h7M426 741h9M426 742h9M426 743h9M426 744h9M426 745h10M426 746h11M425 747h12M425 748h12M425 749h12M425 750h12M425 751h12M425 752h12M425 753h14M425 754h15M425 755h16M425 756h21M425 757h27M425 758h28M424 759h30M424 760h30M424 761h31M424 762h31M424 763h31M424 764h31M424 765h32M424 766h35M424 767h35M424 768h38M424 769h34M461 769h1M424 770h34M461 770h1M424 771h34M461 771h1M424 772h38M424 773h37M424 774h37M425 775h36M425 776h31M426 777h26M427 778h20M432 779h1M440 779h3"/><polyline class="p" points="428.8,768.5 453.2,771.3 429.9,757.8 449.3,772.4 428.6,766.1 428.9,770.5 438.7,773.5 432.5,774.2 428.5,770.5 430.2,742.0 449.3,772.6 435.5,774.1 439.9,774.4 429.0,762.9 432.0,751.3 429.7,753.8 428.5,773.1 444.4,774.7 428.7,773.7 429.8,749.7 429.4,757.6 432.5,747.3 429.2,774.5 429.2,751.7 452.8,772.2 452.0,769.0 428.7,774.2 454.0,772.4 428.6,763.6 428.6,760.8 451.7,766.6 432.8,774.9 443.0,759.7 428.5,758.8 449.9,761.1 429.1,774.8 437.0,757.9 430.3,743.8 449.6,773.0 440.5,775.0 429.6,748.8 462.7,771.9 457.7,771.2 454.1,764.6 428.6,774.6 430.0,745.2 430.0,736.4 429.8,735.7 443.9,759.7 429.4,747.7 450.4,773.2 435.9,774.6 500.8,764.9 436.7,756.7 453.5,765.2 456.1,770.5 431.3,735.2"/></g>
<rect class="b" x="425.30" y="733.61" width="78.41" height="43.50"/>
<g clip-path="url(#c9_4)"><path class="f" transform="translate(0 .5)" d="M548 734h1M539 735h1M548 735h1M539 736h1M548 736h1M539 737h1M548 737h1M540 738h2M540 739h4M540 740h8M543 741h5M545 742h3M537 743h2M545 743h4M571 743h2M545 744h5M572 744h1M540 745h1M545 745h5M540 746h1M545 746h6M577 746h4M538 747h4M545 747h7M577 747h4M538 748h4M545 748h8M570 748h1M577 748h4M587 748h1M538 749h18M577 749h4M587 749h3M537 750h19M563 750h2M578 750h2M587 750h2M536 751h20M563 751h3M573 751h2M578 751h2M587 751h2M536 752h21M563 752h3M570 752h5M578 752h2M535 753h22M563 753h9M578 753h2M584 753h3M535 754h23M563 754h9M575 754h12M534 755h25M563 755h5M575 755h2M581 755h5M533 756h35M575 756h2M582 756h4M532 757h33M573 757h4M585 757h1M531 758h34M574 758h3M530 759h35M569 759h2M574 759h2M530 760h35M570 760h1M574 760h2M530 761h35M571 761h5M530 762h35M571 762h5M529 763h37M571 763h6M529 764h42M575 764h1M529 765h41M529 766h36M569 766h1M529 767h36M529 768h33M528 769h34M567 769h1M528 770h34M567 770h1M571 770h1M528 771h34M567 771h1M529 772h31M567 772h4M529 773h31M567 773h4M529 774h31M565 774h3M529 775h28M565 775h2M530 776h24M565 776h1M531 777h17M532 778h14M535 779h4"/><polyline class="p" points="534.0,767.9 544.3,773.5 535.7,774.2 533.0,770.7 534.1,773.2 534.8,762.8 540.5,742.0 533.4,767.5 537.2,774.4 570.0,753.9 584.7,751.3 534.0,773.7 540.2,753.8 557.7,765.5 535.9,774.7 549.0,749.7 533.6,763.8 534.9,761.5 556.7,770.1 572.0,747.3 577.8,759.5 543.9,774.5 551.0,751.7 568.8,759.3 556.2,758.2 572.4,757.0 532.5,770.4 535.4,774.9 535.5,758.8 547.1,772.3 579.8,758.9 552.6,772.3 534.2,774.8 544.1,743.8 545.6,774.0 560.4,760.0 574.3,748.8 532.3,769.9 560.0,755.0 536.7,774.9 573.9,751.6 556.1,771.1 539.3,753.3 569.4,748.3 533.2,766.8 532.0,770.0 539.4,774.8 541.7,745.2 604.5,752.0 545.3,746.5 571.9,756.2 582.5,749.2 542.9,736.4 551.4,747.7 565.8,769.2 568.6,758.5 544.7,735.7 585.5,747.7 567.0,770.3 572.6,769.2 533.3,763.7 562.2,771.5 583.8,761.7 533.1,773.4 582.3,751.7 563.4,772.8 534.1,760.3 563.4,766.9 604.4,735.2 533.1,764.0 532.8,773.9 561.9,754.0 558.1,753.3"/></g>
<rect class="b" x="529.05" y="733.61" width="78.41" height="43.50"/>
<g clip-path="url(#c9_5)"><path class="f" transform="translate(0 .5)" d="M643 731h2M647 734h1M638 735h1M647 735h1M638 736h1M647 736h1M638 737h1M638 738h1M638 739h2M638 740h5M636 741h7M639 742h4M633 743h1M639 743h9M633 744h1M639 744h8M633 745h1M638 745h9M634 746h13M634 747h14M634 748h14M634 749h17M634 750h16M634 751h16M633 752h17M633 753h17M633 754h17M633 755h23M632 756h26M632 757h26M632 758h26M632 759h26M632 760h30M632 761h30M632 762h33M632 763h34M632 764h35M632 765h35M632 766h37M632 767h37M632 768h37M632 769h36M632 770h36M632 771h36M632 772h34M632 773h33M632 774h33M633 775h31M634 776h29M635 777h21M660 777h1M637 778h15M645 779h2"/><polyline class="p" points="637.0,770.5 636.5,761.4 636.9,765.9 643.4,773.5 647.1,774.2 636.7,768.3 637.0,742.0 652.0,772.6 636.7,764.8 636.2,766.8 636.1,766.2 643.8,774.4 637.4,753.9 636.6,759.7 656.0,763.8 636.6,771.6 642.6,774.7 657.5,771.8 636.7,773.7 636.2,769.2 638.5,749.7 646.6,747.3 638.0,774.1 661.8,770.2 641.4,774.9 648.1,758.8 645.0,774.6 660.0,765.3 648.2,757.9 654.0,772.6 636.1,773.1 655.3,772.6 639.2,743.8 635.9,759.1 646.6,775.0 654.1,773.2 643.7,748.8 637.0,753.6 653.6,758.5 646.2,748.3 636.1,761.2 663.2,769.2 659.6,764.6 636.0,764.3 637.5,745.2 638.0,746.5 639.3,749.2 641.8,736.4 637.9,774.4 660.4,772.9 640.5,747.7 672.4,769.2 663.1,766.3 653.0,773.3 643.0,735.7 636.0,769.6 649.6,774.7 656.9,760.2 664.3,768.1 636.3,756.7 667.7,764.9 654.2,773.3 708.3,766.0 643.5,735.2"/></g>
<rect class="b" x="632.80" y="733.61" width="78.41" height="43.50"/>
<g clip-path="url(#c9_6)"><path class="f" transform="translate(0 .5)" d="M749 731h2M754 735h1M744 736h1M754 736h1M744 737h1M744 738h2M744 739h2M744 740h6M742 741h5M740 742h7M738 743h9M738 744h3M745 744h5M739 745h2M745 745h5M739 746h2M745 746h8M739 747h14M739 748h14M739 749h14M739 750h17M738 751h22M737 752h23M737 753h23M736 754h29M769 754h1M736 755h36M736 756h41M735 757h47M735 758h48M736 759h48M736 760h49M736 761h49M736 762h49M735 763h50M735 764h51M735 765h56M735 766h58M736 767h59M736 768h60M736 769h58M736 770h58M736 771h58M736 772h57M737 773h54M737 774h53M738 775h46M739 776h43M740 777h40M744 778h23M770 778h2M762 779h3"/><polyline class="p" points="740.3,764.8 757.3,773.5 763.8,774.2 741.8,742.0 773.0,772.6 765.5,774.1 768.7,773.3 757.1,774.4 754.5,753.9 740.7,759.7 740.7,768.9 783.5,767.5 761.1,774.7 747.8,773.7 740.0,760.8 740.5,769.2 748.5,749.7 740.1,765.0 752.4,773.8 796.0,764.6 757.3,747.3 786.7,764.6 780.0,772.2 747.1,774.1 755.7,755.2 771.3,760.8 741.8,772.8 739.8,767.8 740.2,770.2 764.5,774.9 761.8,758.8 776.4,772.4 780.0,761.1 753.9,774.8 740.8,773.1 778.9,772.6 745.1,743.8 769.8,774.0 739.6,759.1 786.8,768.9 747.8,748.8 742.6,753.6 769.0,758.7 752.9,774.9 769.6,758.5 744.3,748.3 747.5,774.6 764.3,758.4 739.6,767.1 739.6,764.3 778.5,773.3 741.3,755.5 772.8,773.4 761.5,774.8 742.6,745.2 745.5,773.8 787.6,770.7 740.0,771.4 754.9,749.2 748.3,736.4 774.7,773.8 740.7,753.6 751.8,747.7 789.9,769.2 772.4,773.9 743.1,773.8 760.0,735.7 775.7,760.2 739.6,756.7 799.8,764.9 812.0,766.0 750.0,735.2 780.9,772.4"/></g>
<rect class="b" x="736.55" y="733.61" width="78.41" height="43.50"/>
<g clip-path="url(#c9_7)"><path class="f" transform="translate(0 .5)" d="M857 738h5M857 739h7M855 740h9M855 741h9M855 742h9M854 743h10M854 744h10M853 745h12M852 746h11M852 747h11M852 748h11M852 749h12M852 750h12M850 751h14M850 752h14M849 753h16M849 754h17M847 755h19M846 756h21M845 757h22M844 758h25M843 759h26M843 760h27M842 761h28M841 762h29M841 763h29M840 764h30M840 765h30M840 766h30M840 767h30M839 768h31M839 769h32M840 770h31M840 771h31M840 772h31M840 773h29M840 774h29M841 775h27M841 776h26M842 777h21M843 778h18M850 779h2M855 779h1"/><polyline class="p" points="861.9,772.4 845.2,771.1 852.6,773.5 850.4,774.2 859.8,742.0 865.0,772.6 852.9,774.1 844.7,765.7 853.3,774.4 853.2,753.8 844.1,773.1 857.3,774.7 844.2,767.5 860.3,747.3 849.0,774.5 845.5,774.2 846.4,762.8 860.2,755.4 847.8,760.7 851.5,774.9 849.4,758.8 844.2,769.8 850.3,751.4 864.9,767.6 846.6,774.8 844.5,764.2 865.5,761.0 858.7,743.8 843.5,769.2 855.5,775.0 865.7,764.6 875.7,771.9 859.9,753.3 844.9,774.6 843.6,772.6 859.0,774.8 857.3,745.2 860.5,746.5 858.3,749.2 857.0,736.4 861.7,757.5 847.4,760.1 857.0,735.7 855.8,747.7 915.8,764.9 846.4,761.2 862.2,756.6 860.7,735.2 843.7,767.6"/></g>
<rect class="b" x="840.30" y="733.61" width="78.41" height="43.50"/>
<g clip-path="url(#c9_8)"><path class="f" transform="translate(0 .5)" d="M962 735h1M962 736h1M962 737h1M961 738h4M960 739h3M959 740h3M957 741h5M957 742h5M957 743h11M960 744h13M961 745h12M976 745h1M961 746h18M961 747h18M982 747h1M961 748h23M961 749h23M960 750h24M959 751h25M959 752h27M989 752h3M959 753h33M959 754h34M955 755h39M955 756h40M998 756h1M954 757h45M1003 757h1M954 758h50M953 759h51M952 760h53M1010 760h2M951 761h55M1010 761h2M950 762h60M948 763h62M947 764h63M947 765h63M946 766h65M946 767h66M946 768h70M946 769h69M946 770h68M945 771h69M945 772h65M945 773h64M946 774h61M946 775h61M948 776h56M949 777h48M950 778h37M968 779h3"/><polyline class="p" points="988.7,772.9 960.0,773.5 967.9,774.2 962.7,742.0 965.9,774.1 959.7,774.4 971.1,773.6 964.1,751.3 1002.9,771.1 997.1,772.1 969.6,774.7 956.4,773.7 1006.2,769.0 988.0,757.2 979.6,749.7 978.6,773.4 1003.0,763.9 974.8,773.9 956.5,774.0 1009.3,772.2 965.3,747.3 974.5,774.5 979.4,751.7 953.1,764.4 987.8,773.7 958.9,755.4 982.6,773.5 968.1,774.9 957.6,758.9 999.5,759.9 961.3,774.6 992.4,759.8 1007.1,769.7 985.3,773.8 984.6,774.8 983.0,755.5 948.9,772.5 965.5,743.8 969.6,775.0 965.5,774.7 963.9,774.9 949.8,768.9 989.4,756.5 968.7,748.3 977.2,774.1 1007.4,768.2 978.8,774.3 971.1,745.2 954.8,762.6 959.9,746.5 971.3,749.2 1011.3,767.1 950.1,766.8 957.1,736.4 978.5,774.7 950.4,773.4 1004.8,761.1 974.0,747.7 1010.8,765.4 1001.1,772.0 951.9,774.6 958.2,735.7 960.7,747.7 1002.1,772.6 992.9,772.8 997.2,761.6 1014.7,762.9 993.1,756.0 958.1,774.6 995.4,773.5 948.1,735.2"/></g>
<rect class="b" x="944.05" y="733.61" width="78.41" height="43.50"/>
<g clip-path="url(#c9_9)"><text class="l" text-anchor="middle" x="1086.70" y="760.00">sulphates</text></g>
<rect class="b" x="1047.80" y="733.61" width="78.41" height="43.50"/>
<g clip-path="url(#c9_10)"><path class="f" transform="translate(0 .5)" d="M1169 735h1M1169 736h1M1177 738h2M1170 739h3M1169 740h4M1169 741h6M1169 742h6M1168 743h7M1165 744h11M1165 745h12M1164 746h12M1163 747h13M1180 747h2M1163 748h13M1180 748h3M1162 749h21M1189 749h3M1163 750h34M1163 751h34M1163 752h34M1204 752h2M1209 752h3M1163 753h34M1201 753h5M1210 753h3M1162 754h36M1201 754h5M1210 754h4M1161 755h45M1210 755h5M1160 756h51M1214 756h1M1158 757h53M1214 757h2M1158 758h53M1214 758h3M1157 759h63M1156 760h67M1155 761h68M1155 762h68M1154 763h69M1154 764h71M1154 765h72M1154 766h70M1154 767h67M1154 768h66M1154 769h66M1151 770h69M1151 771h69M1152 772h69M1153 773h67M1153 774h66M1154 775h65M1155 776h62M1159 777h56M1161 778h49M1176 779h1"/><polyline class="p" points="1187.6,773.5 1182.6,774.2 1208.7,756.9 1175.5,742.0 1156.7,772.6 1178.3,774.1 1166.9,773.3 1183.8,774.4 1157.4,770.0 1171.8,751.3 1192.9,753.8 1174.4,774.7 1165.9,773.7 1210.7,772.6 1177.6,749.7 1190.4,773.4 1165.3,773.8 1209.7,773.3 1169.7,774.0 1195.0,773.3 1170.4,747.3 1177.3,774.5 1182.3,751.7 1199.2,773.7 1207.5,774.2 1206.5,774.1 1199.3,774.2 1162.3,773.0 1176.4,774.9 1198.9,751.4 1193.3,774.6 1215.5,772.4 1158.5,766.5 1158.5,765.6 1200.3,774.8 1217.6,758.5 1169.2,743.8 1212.4,759.1 1217.6,765.1 1188.3,774.7 1154.5,769.1 1182.4,774.9 1190.8,753.3 1201.2,758.6 1165.3,774.3 1165.2,774.8 1171.3,745.2 1209.8,773.8 1158.7,762.6 1205.1,755.9 1183.9,746.5 1165.0,756.2 1161.0,773.1 1166.6,749.2 1174.4,736.4 1211.5,760.5 1155.2,768.2 1214.3,762.4 1181.1,753.6 1221.8,767.2 1219.0,768.5 1204.1,759.5 1161.2,774.0 1173.4,735.7 1212.9,773.6 1207.2,760.6 1195.0,774.7 1204.8,774.7 1218.7,763.3 1161.3,759.7 1209.8,756.0 1169.2,735.2 1227.0,761.5 1195.6,754.0 1177.0,753.3"/></g>
<rect class="b" x="1151.55" y="733.61" width="78.41" height="43.50"/>
<g clip-path="url(#c10_0)"><path class="f" transform="translate(0 .5)" d="M138 805h5M163 805h1M133 806h1M137 806h7M163 806h1M126 807h19M163 807h1M126 808h19M162 808h5M125 809h21M162 809h9M122 810h24M162 810h3M120 811h29M162 811h3M120 812h33M158 812h7M171 812h3M177 812h2M119 813h34M158 813h9M170 813h3M177 813h2M117 814h56M177 814h2M117 815h56M176 815h4M118 816h57M178 816h3M113 817h1M118 817h56M178 817h3M118 818h56M178 818h3M118 819h56M178 819h4M118 820h55M176 820h6M118 821h55M177 821h5M118 822h55M177 822h5M186 822h3M118 823h56M177 823h8M118 824h66M118 825h66M119 826h65M191 826h1M119 827h65M119 828h65M118 829h66M118 830h66M118 831h70M118 832h70M118 833h70M118 834h68M118 835h67M118 836h67M117 837h67M117 838h67M118 839h63M118 840h59M119 841h57M121 842h54M122 843h43M169 843h4M123 844h32M160 844h2M129 845h21M130 846h13M136 847h5M137 848h3"/><polyline class="p" points="126.9,840.4 127.7,812.6 123.2,837.5 147.4,841.7 157.9,839.7 136.9,843.1 134.0,842.7 124.2,839.0 121.3,838.2 147.5,815.3 123.2,830.1 152.8,840.4 177.0,821.0 185.8,826.7 169.8,810.5 122.5,822.1 175.2,815.2 160.8,840.3 132.8,810.5 123.3,826.2 122.1,831.5 142.1,842.1 166.3,837.7 130.8,841.2 122.6,819.7 163.2,809.3 122.1,815.5 166.1,812.2 166.2,809.3 179.2,830.5 187.7,837.3 138.1,844.3 129.6,841.4 174.3,837.4 122.4,829.1 184.2,837.3 176.2,820.2 175.4,824.2 117.0,818.7 122.2,822.9 117.3,821.0 122.2,819.9 179.4,826.2 152.4,818.4 169.1,838.8 123.2,813.8 180.0,842.0 150.0,816.6 124.9,840.7 131.7,842.7 128.4,810.8 147.6,812.7 152.9,840.9 181.8,815.7 158.9,807.0 129.7,808.5 179.9,833.8 167.5,814.3 177.1,819.3 187.1,826.2 145.9,815.0 141.5,810.0 158.6,817.8 172.2,812.2 140.2,808.7 165.4,838.8 172.4,823.2 152.4,817.4 181.2,834.1 170.5,839.7 172.9,824.9 189.5,804.1 184.2,819.2 155.9,815.4"/></g>
<rect class="b" x="114.05" y="802.46" width="78.41" height="43.50"/>
<g clip-path="url(#c10_1)"><path class="f" transform="translate(0 .5)" d="M229 803h1M229 804h1M228 805h5M227 806h9M226 807h13M222 808h19M222 809h21M246 809h2M221 810h31M220 811h37M220 812h37M220 813h37M219 814h39M218 815h41M218 816h42M218 817h45M218 818h45M218 819h48M218 820h46M218 821h46M218 822h46M217 823h53M217 824h53M273 824h2M217 825h53M274 825h3M217 826h53M274 826h3M218 827h52M274 827h6M218 828h62M218 829h60M218 830h60M284 830h1M218 831h57M283 831h2M218 832h57M284 832h1M217 833h58M217 834h59M217 835h59M217 836h59M282 836h1M217 837h59M280 837h2M217 838h58M217 839h57M217 840h56M218 841h52M218 842h51M218 843h43M266 843h2M218 844h34M256 844h3M219 845h19M219 846h18M220 847h10M222 848h5"/><polyline class="p" points="225.9,812.6 222.4,832.2 233.5,841.7 228.9,843.1 222.0,829.1 223.0,821.6 222.4,839.6 267.4,830.7 221.8,830.8 224.5,813.8 266.7,839.1 281.2,827.4 270.0,832.3 261.9,837.6 221.0,835.8 279.4,831.3 222.4,821.0 235.2,810.5 260.1,824.1 270.1,827.1 248.6,814.1 222.9,817.0 257.1,838.9 271.0,836.4 280.2,832.1 234.4,841.4 241.5,840.3 221.8,826.8 224.0,813.6 238.5,840.7 260.8,838.6 266.1,828.6 250.0,840.7 221.0,825.4 232.7,842.1 249.4,813.9 222.6,841.5 231.3,809.3 241.0,809.3 224.0,812.2 235.5,841.8 221.5,838.4 258.2,815.4 222.5,844.3 271.1,828.2 263.7,824.4 268.4,827.0 234.8,842.7 257.4,840.5 243.5,840.2 221.4,840.3 251.6,814.5 293.3,827.4 236.2,810.8 222.2,816.2 240.8,812.7 226.3,843.9 256.6,818.3 251.1,811.2 244.1,840.9 226.4,807.0 243.6,808.5 221.9,820.9 253.3,815.2 273.0,827.6 229.7,808.7 263.5,822.7 234.3,804.1 279.1,834.0"/></g>
<rect class="b" x="217.80" y="802.46" width="78.41" height="43.50"/>
<g clip-path="url(#c10_2)"><path class="f" transform="translate(0 .5)" d="M339 803h4M338 804h2M337 805h3M349 805h3M337 806h3M345 806h2M350 806h4M331 807h11M345 807h2M350 807h7M331 808h16M350 808h7M331 809h27M327 810h31M324 811h34M322 812h36M321 813h39M321 814h39M320 815h41M320 816h44M320 817h44M320 818h44M368 818h1M320 819h48M374 819h2M320 820h48M374 820h2M320 821h47M375 821h1M320 822h47M320 823h47M320 824h47M320 825h48M320 826h48M320 827h48M320 828h47M320 829h47M320 830h47M320 831h47M320 832h47M320 833h47M320 834h48M320 835h48M320 836h48M320 837h46M320 838h46M320 839h42M365 839h1M321 840h40M365 840h1M321 841h40M322 842h39M322 843h40M323 844h37M324 845h35M334 846h20M357 846h1M336 847h5M347 847h1M352 847h1"/><polyline class="p" points="332.7,813.4 345.3,841.7 340.2,843.1 369.5,822.9 325.0,820.0 324.5,831.9 335.3,842.7 360.2,839.6 324.5,830.7 325.2,815.9 324.5,833.3 362.0,821.9 324.5,827.4 324.5,837.6 353.3,810.5 324.5,824.1 327.6,814.1 361.2,839.7 359.0,815.2 330.4,841.4 324.6,820.5 325.0,838.6 360.0,835.8 339.3,810.5 353.3,841.5 350.7,809.3 363.0,834.3 371.8,823.3 350.3,809.3 325.9,841.8 324.5,815.4 349.8,844.3 349.9,842.1 324.5,838.6 362.7,829.7 365.9,820.5 356.8,842.0 378.2,814.6 358.3,818.3 334.2,810.8 345.2,812.7 337.5,843.9 324.5,818.3 340.8,807.0 325.4,808.5 362.3,816.8 397.0,819.8 340.9,808.7 368.2,836.2 352.9,804.1 364.5,839.8"/></g>
<rect class="b" x="321.55" y="802.46" width="78.41" height="43.50"/>
<g clip-path="url(#c10_3)"><path class="f" transform="translate(0 .5)" d="M430 803h3M429 804h6M428 805h7M427 806h9M426 807h10M425 808h14M425 809h14M425 810h17M425 811h20M424 812h22M424 813h23M424 814h23M424 815h26M424 816h27M424 817h27M424 818h31M424 819h31M424 820h31M424 821h32M424 822h34M424 823h34M424 824h34M424 825h34M424 826h34M424 827h34M424 828h34M424 829h34M424 830h37M424 831h35M424 832h34M424 833h34M424 834h34M424 835h34M424 836h37M424 837h36M424 838h35M424 839h35M424 840h35M425 841h34M425 842h34M426 843h31M426 844h29M427 845h27M429 846h15M447 846h6M434 847h5M447 847h3M436 848h1M447 848h2"/><polyline class="p" points="428.8,819.7 428.9,837.1 453.2,827.2 428.6,828.5 429.1,834.6 445.4,840.3 428.7,823.1 430.2,841.7 429.0,833.1 428.5,823.4 428.9,840.1 449.3,843.1 428.6,835.6 428.5,817.1 428.6,820.8 450.8,842.7 428.4,828.5 428.5,815.9 429.0,813.8 428.5,814.2 443.1,815.2 428.7,833.0 428.5,813.7 452.8,824.9 454.0,840.0 447.2,818.7 443.4,841.3 428.6,838.7 451.7,822.8 443.2,842.1 453.3,833.4 440.3,813.9 429.8,809.3 429.1,809.3 462.7,839.7 457.7,833.7 447.2,844.3 434.2,842.7 435.1,812.5 429.5,842.0 428.4,840.3 440.4,842.1 436.5,842.7 434.2,810.8 436.3,843.9 431.4,807.0 453.6,821.8 500.8,822.7 456.1,828.0 435.9,804.1"/></g>
<rect class="b" x="425.30" y="802.46" width="78.41" height="43.50"/>
<g clip-path="url(#c10_4)"><path class="f" transform="translate(0 .5)" d="M537 803h3M536 804h6M535 805h8M534 806h10M533 807h11M532 808h14M531 809h15M530 810h16M530 811h17M529 812h20M529 813h21M529 814h22M529 815h23M529 816h23M528 817h24M528 818h25M528 819h26M528 820h30M528 821h30M528 822h31M529 823h31M529 824h32M529 825h33M529 826h34M529 827h34M529 828h34M529 829h34M529 830h35M568 830h1M529 831h35M568 831h10M581 831h6M529 832h35M567 832h11M581 832h7M529 833h49M581 833h8M529 834h61M529 835h55M588 835h2M529 836h42M574 836h10M588 836h2M529 837h42M574 837h10M588 837h1M529 838h33M565 838h6M574 838h10M529 839h33M565 839h19M530 840h32M565 840h11M580 840h6M530 841h41M581 841h4M531 842h29M531 843h28M532 844h24M534 845h20M535 846h15M537 847h7M538 848h3"/><polyline class="p" points="534.1,823.8 534.1,812.6 534.0,832.3 533.0,837.5 537.5,841.7 542.9,843.1 533.4,828.7 536.4,842.7 570.0,836.5 584.7,834.7 557.7,835.2 534.3,839.4 533.6,813.2 556.7,838.5 533.3,830.9 572.0,835.5 533.3,827.1 577.8,835.1 541.5,810.5 553.2,839.8 568.8,835.8 532.5,816.9 533.2,830.2 545.3,815.2 550.9,822.7 548.6,819.7 579.8,835.2 534.7,810.5 533.1,828.5 533.1,823.2 559.6,837.7 552.6,823.2 533.0,821.4 574.3,835.6 534.8,840.8 539.2,844.3 533.0,834.7 532.3,820.4 560.0,833.0 573.9,835.9 569.4,835.4 557.1,839.4 556.1,825.7 533.5,812.5 532.0,821.3 556.0,824.8 604.5,836.2 545.6,842.1 547.4,816.3 571.9,838.5 582.5,837.6 533.5,811.9 538.4,807.0 540.0,808.5 565.8,837.3 568.6,837.5 534.4,841.1 551.4,841.7 532.8,830.8 585.5,835.2 567.0,833.8 549.0,842.3 558.4,829.8 563.4,837.4 558.5,828.1 563.4,829.7 533.2,825.7 604.4,836.2 542.4,804.1 561.9,821.5"/></g>
<rect class="b" x="529.05" y="802.46" width="78.41" height="43.50"/>
<g clip-path="url(#c10_5)"><path class="f" transform="translate(0 .5)" d="M636 803h3M635 804h5M634 805h8M633 806h17M633 807h18M633 808h19M632 809h20M632 810h21M632 811h21M632 812h23M632 813h28M632 814h29M632 815h30M632 816h31M632 817h32M632 818h32M632 819h33M632 820h33M632 821h34M632 822h31M632 823h31M632 824h31M632 825h32M632 826h33M632 827h33M632 828h33M632 829h33M632 830h36M632 831h35M632 832h34M632 833h34M632 834h34M632 835h35M632 836h36M632 837h36M632 838h36M632 839h36M632 840h33M633 841h31M633 842h28M633 843h28M634 844h24M635 845h22M637 846h19M643 847h11M645 848h1M650 848h2"/><polyline class="p" points="637.0,823.3 636.5,836.5 636.9,821.9 636.8,831.9 636.7,830.7 636.7,828.7 656.4,839.2 652.0,843.1 636.7,832.3 636.2,824.4 636.1,830.7 647.2,842.7 655.6,840.0 636.6,837.4 636.6,814.3 636.2,827.4 636.3,818.4 636.1,834.9 661.8,837.1 659.0,821.2 646.3,810.5 636.2,837.1 655.3,841.5 636.2,823.7 638.5,809.3 636.9,838.9 635.9,812.2 641.2,809.3 660.2,819.2 652.3,816.1 650.9,844.3 650.7,814.5 655.0,816.8 645.7,842.7 637.2,840.5 636.1,825.6 663.2,826.8 637.0,842.0 661.9,823.3 639.7,842.1 653.4,842.7 645.1,843.9 636.2,819.0 637.2,807.0 636.6,808.5 660.4,829.5 672.4,838.5 663.1,829.8 636.2,839.7 647.9,810.0 657.8,839.0 661.8,834.4 664.3,840.9 667.7,835.0 661.5,837.7 708.3,829.7 657.6,816.9 641.0,804.1"/></g>
<rect class="b" x="632.80" y="802.46" width="78.41" height="43.50"/>
<g clip-path="url(#c10_6)"><path class="f" transform="translate(0 .5)" d="M745 803h1M745 804h3M742 805h9M741 806h16M738 807h20M738 808h21M737 809h25M736 810h31M771 810h2M736 811h39M736 812h41M735 813h43M736 814h42M736 815h44M736 816h47M736 817h47M790 817h1M736 818h46M790 818h1M736 819h46M790 819h1M736 820h46M790 820h1M736 821h46M790 821h1M736 822h47M735 823h49M735 824h50M735 825h50M736 826h49M736 827h49M736 828h48M736 829h48M736 830h48M736 831h49M736 832h50M736 833h50M736 834h50M790 834h2M736 835h55M736 836h50M736 837h50M736 838h50M795 838h1M736 839h51M795 839h1M736 840h51M792 840h2M737 841h50M792 841h1M737 842h48M737 843h48M738 844h1M744 844h40M744 845h2M756 845h27M761 846h17M771 847h6M773 848h2"/><polyline class="p" points="740.3,825.0 779.2,831.2 770.6,841.7 742.7,839.7 756.9,840.1 773.0,843.1 741.2,830.7 775.1,842.7 740.7,837.4 764.9,814.1 783.5,837.2 740.0,833.6 740.5,827.4 741.0,821.0 740.1,821.1 740.5,817.0 780.3,826.8 796.0,835.6 758.6,813.7 740.1,818.4 740.0,830.4 739.9,823.8 786.7,839.8 780.0,824.9 780.5,837.1 740.7,838.1 756.8,840.3 780.1,833.3 752.1,810.5 781.6,839.5 767.8,842.1 761.0,842.1 758.0,841.2 778.9,841.5 743.0,809.3 761.9,813.6 739.6,812.2 765.4,841.8 786.8,819.2 740.1,826.5 773.5,844.3 779.7,841.5 764.4,842.7 756.1,840.5 739.6,829.7 739.6,823.8 753.4,840.1 752.3,840.2 741.0,842.0 787.6,814.6 774.6,817.5 751.4,840.2 774.6,843.9 746.1,840.9 742.1,807.0 747.3,808.5 740.1,836.3 789.9,838.5 751.9,840.6 740.5,839.7 785.0,819.2 755.1,810.0 780.8,841.7 776.6,818.1 771.8,814.2 748.3,808.7 781.9,834.3 799.8,835.0 774.4,815.7 812.0,829.7 750.3,804.1 788.0,840.3 739.6,813.7"/></g>
<rect class="b" x="736.55" y="802.46" width="78.41" height="43.50"/>
<g clip-path="url(#c10_7)"><path class="f" transform="translate(0 .5)" d="M851 804h2M858 804h1M849 805h5M845 806h11M861 806h2M843 807h13M861 807h2M842 808h18M841 809h19M840 810h20M840 811h20M863 811h4M840 812h27M840 813h26M839 814h25M839 815h25M840 816h24M840 817h24M840 818h25M840 819h26M840 820h26M840 821h26M840 822h25M841 823h24M841 824h24M841 825h25M841 826h25M841 827h26M842 828h25M842 829h25M843 830h25M843 831h25M843 832h25M843 833h26M843 834h26M843 835h26M843 836h27M843 837h28M845 838h26M845 839h26M846 840h25M847 841h24M847 842h24M847 843h23M850 844h20M856 845h14M858 846h11M860 847h8M862 848h5"/><polyline class="p" points="849.8,837.1 847.3,828.5 845.2,812.6 858.6,841.7 855.0,840.1 865.0,843.1 845.8,823.0 847.5,835.1 844.7,819.1 844.1,815.9 844.9,820.9 856.8,815.2 844.1,813.7 846.8,827.9 862.0,826.7 862.6,810.5 846.2,828.1 863.8,815.2 845.3,826.2 845.4,810.5 844.3,820.1 858.6,809.3 865.5,838.0 862.6,830.2 843.5,815.5 849.2,837.7 859.5,812.2 843.8,812.2 865.7,837.3 875.7,839.7 859.9,818.7 865.6,844.3 861.0,820.2 859.4,842.7 850.5,839.6 854.1,840.5 845.8,828.0 850.7,840.3 862.4,843.9 843.8,817.8 846.7,839.0 854.1,811.2 855.5,807.0 850.7,808.5 863.2,832.7 846.8,834.6 865.7,826.2 844.6,822.8 863.8,832.3 860.7,812.2 852.0,808.7 915.8,822.7 857.9,804.1 843.7,819.4"/></g>
<rect class="b" x="840.30" y="802.46" width="78.41" height="43.50"/>
<g clip-path="url(#c10_8)"><path class="f" transform="translate(0 .5)" d="M980 803h2M979 804h3M978 805h4M977 806h9M973 807h13M962 808h7M973 808h13M989 808h1M959 809h27M989 809h4M957 810h39M955 811h46M955 812h46M955 813h46M954 814h48M953 815h50M951 816h54M950 817h59M949 818h61M949 819h62M949 820h57M1009 820h2M949 821h57M1009 821h3M949 822h57M1009 822h2M949 823h62M947 824h64M946 825h65M945 826h69M945 827h70M945 828h71M946 829h66M1015 829h1M946 830h66M1015 830h1M946 831h66M1015 831h1M946 832h69M946 833h69M945 834h69M944 835h70M944 836h65M944 837h60M1007 837h2M945 838h59M1007 838h1M946 839h58M1007 839h1M946 840h61M946 841h54M1003 841h2M947 842h51M948 843h48M949 844h44M953 845h38M955 846h4M966 846h10M985 846h4M968 847h7M971 848h2"/><polyline class="p" points="976.4,840.4 1002.2,833.3 990.2,813.4 964.5,841.7 969.0,843.1 957.0,842.7 953.8,822.9 991.7,840.1 969.7,814.1 1004.3,815.7 973.7,813.2 952.0,825.5 955.2,818.7 1009.3,831.3 972.3,810.5 953.8,819.8 998.8,841.3 976.8,841.4 987.3,841.0 977.7,810.5 1007.1,827.7 987.4,842.1 952.9,819.6 961.1,813.9 948.9,827.5 968.9,809.3 982.6,812.2 958.2,809.3 966.3,812.2 976.5,841.8 995.1,815.2 981.1,840.7 1000.6,815.4 971.8,844.3 980.4,841.4 949.8,837.5 996.3,838.1 1007.4,832.0 1006.9,821.3 950.4,834.6 954.8,842.0 987.0,842.7 1011.3,829.7 985.4,810.8 963.9,811.9 996.2,811.2 981.3,807.0 994.5,808.5 958.7,813.5 1004.8,822.3 999.1,817.5 1010.8,831.6 1001.1,820.3 980.3,810.0 1004.0,837.2 997.0,838.0 950.2,840.2 980.1,808.7 1014.7,832.1 1006.1,824.7 993.1,813.6 948.1,836.2 961.6,804.1 1002.4,836.3"/></g>
<rect class="b" x="944.05" y="802.46" width="78.41" height="43.50"/>
<g clip-path="url(#c10_9)"><path class="f" transform="translate(0 .5)" d="M1064 803h1M1061 805h1M1065 805h1M1069 805h6M1056 806h1M1060 806h2M1065 806h9M1077 806h3M1054 807h20M1077 807h3M1053 808h21M1077 808h5M1051 809h32M1051 810h31M1085 810h3M1050 811h32M1085 811h4M1050 812h32M1089 812h1M1050 813h35M1089 813h1M1049 814h36M1089 814h2M1048 815h37M1089 815h2M1048 816h37M1089 816h2M1048 817h37M1089 817h2M1048 818h44M1048 819h45M1048 820h42M1048 821h42M1048 822h42M1048 823h43M1048 824h43M1094 824h2M1048 825h48M1048 826h51M1048 827h47M1048 828h47M1048 829h47M1048 830h47M1124 830h1M1048 831h58M1118 831h1M1048 832h58M1116 832h3M1048 833h58M1116 833h3M1048 834h58M1111 834h1M1116 834h3M1048 835h59M1118 835h1M1126 835h2M1048 836h50M1102 836h4M1126 836h2M1048 837h50M1102 837h3M1048 838h50M1102 838h3M1120 838h2M1048 839h50M1102 839h3M1121 839h1M1049 840h54M1107 840h1M1049 841h40M1093 841h7M1050 842h37M1051 843h31M1052 844h29M1053 845h24M1054 846h15M1074 846h1M1055 847h2M1060 847h6M1061 848h3"/><polyline class="p" points="1053.0,828.7 1058.7,841.7 1084.2,814.3 1111.1,832.7 1055.9,843.1 1052.7,828.0 1060.5,842.7 1089.6,836.5 1094.4,834.7 1089.8,823.0 1052.2,833.3 1097.2,831.5 1054.7,813.7 1053.3,837.8 1101.5,835.5 1069.5,810.5 1093.5,828.9 1053.1,814.9 1053.0,819.5 1081.8,838.1 1051.8,832.2 1094.1,819.7 1052.2,822.8 1056.3,810.5 1076.7,839.7 1066.9,842.1 1068.6,842.1 1052.0,818.9 1086.7,824.2 1081.3,809.3 1107.8,836.2 1080.3,812.2 1051.6,832.0 1069.5,809.3 1052.1,825.6 1098.7,835.6 1062.2,844.3 1090.2,829.9 1051.8,828.8 1090.6,824.2 1081.1,818.4 1052.9,838.3 1051.9,838.4 1105.4,835.0 1053.7,813.7 1073.9,842.0 1086.1,816.3 1102.9,828.0 1085.4,838.5 1098.1,837.6 1063.0,810.8 1121.3,833.3 1077.7,812.7 1063.8,843.9 1074.3,811.2 1065.7,807.0 1063.4,808.5 1100.9,836.8 1053.5,840.6 1122.5,833.8 1054.1,811.9 1052.2,816.4 1072.7,808.7 1078.2,839.6 1093.6,837.0 1079.1,840.5 1085.9,813.6 1123.3,836.2 1076.0,804.1 1089.5,821.5"/></g>
<rect class="b" x="1047.80" y="802.46" width="78.41" height="43.50"/>
<g clip-path="url(#c10_10)"><text class="l" text-anchor="middle" x="1190.45" y="831.00">alcohol</text></g>
<rect class="b" x="1151.55" y="802.46" width="78.41" height="43.50"/>
<path class="t" d="M118.15 845.95v12.67M130.15 845.95v12.67M142.15 845.95v12.67M154.15 845.95v12.67M166.15 845.95v12.67M178.15 845.95v12.67M190.15 845.95v12.67"/>
<path class="t" d="M1229.95 155.27h12.67M1229.95 148.61h12.67M1229.95 141.95h12.67M1229.95 135.30h12.67M1229.95 128.64h12.67M1229.95 121.98h12.67M1229.95 115.33h12.67"/>
<text class="a" text-anchor="middle" x="118.15" y="891.57">4</text>
<text class="a" text-anchor="middle" x="154.15" y="891.57">10</text>
<text class="a" text-anchor="middle" transform="translate(1275.57 155.27) rotate(-90) scale(1 1.05)">4</text>
<text class="a" text-anchor="middle" transform="translate(1275.57 115.33) rotate(-90) scale(1 1.05)">16</text>
<path class="t" d="M241.03 114.05v-12.67M265.23 114.05v-12.67M289.43 114.05v-12.67"/>
<path class="t" d="M114.05 213.50h-12.67M114.05 200.07h-12.67M114.05 186.65h-12.67"/>
<text class="a" text-anchor="middle" x="241.03" y="83.64">0.5</text>
<text class="a" text-anchor="middle" x="289.43" y="83.64">1.5</text>
<text class="a" text-anchor="middle" transform="translate(83.64 213.50) rotate(-90) scale(1 1.05)">0.5</text>
<path class="t" d="M324.45 845.95v12.67M346.32 845.95v12.67M368.19 845.95v12.67M390.05 845.95v12.67"/>
<path class="t" d="M1229.95 293.62h12.67M1229.95 281.48h12.67M1229.95 269.35h12.67M1229.95 257.22h12.67"/>
<text class="a" text-anchor="middle" x="324.45" y="891.57">0.0</text>
<text class="a" text-anchor="middle" x="390.05" y="891.57">1.5</text>
<text class="a" text-anchor="middle" transform="translate(1275.57 293.62) rotate(-90) scale(1 1.05)">0.0</text>
<path class="t" d="M427.53 114.05v-12.67M438.67 114.05v-12.67M449.80 114.05v-12.67M460.94 114.05v-12.67M472.07 114.05v-12.67M483.21 114.05v-12.67M494.34 114.05v-12.67"/>
<path class="t" d="M114.05 362.83h-12.67M114.05 356.65h-12.67M114.05 350.47h-12.67M114.05 344.30h-12.67M114.05 338.12h-12.67M114.05 331.94h-12.67M114.05 325.76h-12.67"/>
<text class="a" text-anchor="middle" x="427.53" y="83.64">0</text>
<text class="a" text-anchor="middle" x="472.07" y="83.64">40</text>
<text class="a" text-anchor="middle" transform="translate(83.64 362.83) rotate(-90) scale(1 1.05)">0</text>
<text class="a" text-anchor="middle" transform="translate(83.64 325.76) rotate(-90) scale(1 1.05)">60</text>
<path class="t" d="M530.87 845.95v12.67M542.93 845.95v12.67M554.98 845.95v12.67M567.04 845.95v12.67M579.10 845.95v12.67M591.16 845.95v12.67M603.22 845.95v12.67"/>
<path class="t" d="M1229.95 431.90h12.67M1229.95 425.21h12.67M1229.95 418.52h12.67M1229.95 411.83h12.67M1229.95 405.14h12.67M1229.95 398.45h12.67M1229.95 391.76h12.67"/>
<text class="a" text-anchor="middle" x="530.87" y="891.57">0.0</text>
<text class="a" text-anchor="middle" x="579.10" y="891.57">0.4</text>
<text class="a" text-anchor="middle" transform="translate(1275.57 431.90) rotate(-90) scale(1 1.05)">0.0</text>
<path class="t" d="M635.45 114.05v-12.67M648.05 114.05v-12.67M660.66 114.05v-12.67M673.26 114.05v-12.67M685.86 114.05v-12.67M698.47 114.05v-12.67M711.07 114.05v-12.67"/>
<path class="t" d="M114.05 500.28h-12.67M114.05 493.29h-12.67M114.05 486.29h-12.67M114.05 479.30h-12.67M114.05 472.31h-12.67M114.05 465.32h-12.67M114.05 458.32h-12.67"/>
<text class="a" text-anchor="middle" x="635.45" y="83.64">0</text>
<text class="a" text-anchor="middle" x="685.86" y="83.64">200</text>
<text class="a" text-anchor="middle" transform="translate(83.64 500.28) rotate(-90) scale(1 1.05)">0</text>
<text class="a" text-anchor="middle" transform="translate(83.64 458.32) rotate(-90) scale(1 1.05)">300</text>
<path class="t" d="M738.45 845.95v12.67M755.17 845.95v12.67M771.90 845.95v12.67M788.63 845.95v12.67M805.36 845.95v12.67"/>
<path class="t" d="M1229.95 569.53h12.67M1229.95 560.25h12.67M1229.95 550.98h12.67M1229.95 541.70h12.67M1229.95 532.42h12.67"/>
<text class="a" text-anchor="middle" x="738.45" y="891.57">0</text>
<text class="a" text-anchor="middle" x="788.63" y="891.57">300</text>
<text class="a" text-anchor="middle" transform="translate(1275.57 569.53) rotate(-90) scale(1 1.05)">0</text>
<path class="t" d="M847.25 114.05v-12.67M861.24 114.05v-12.67M875.24 114.05v-12.67M889.23 114.05v-12.67M903.23 114.05v-12.67M917.23 114.05v-12.67"/>
<path class="t" d="M114.05 635.57h-12.67M114.05 627.81h-12.67M114.05 620.05h-12.67M114.05 612.28h-12.67M114.05 604.52h-12.67M114.05 596.75h-12.67"/>
<text class="a" text-anchor="middle" x="847.25" y="83.64">0.99</text>
<text class="a" text-anchor="middle" x="917.23" y="83.64">1.04</text>
<text class="a" text-anchor="middle" transform="translate(83.64 635.57) rotate(-90) scale(1 1.05)">0.99</text>
<path class="t" d="M951.45 845.95v12.67M962.71 845.95v12.67M973.96 845.95v12.67M985.22 845.95v12.67M996.47 845.95v12.67M1007.73 845.95v12.67M1018.99 845.95v12.67"/>
<path class="t" d="M1229.95 704.16h12.67M1229.95 697.92h12.67M1229.95 691.67h12.67M1229.95 685.43h12.67M1229.95 679.19h12.67M1229.95 672.94h12.67M1229.95 666.70h12.67"/>
<text class="a" text-anchor="middle" x="951.45" y="891.57">2.8</text>
<text class="a" text-anchor="middle" x="1007.73" y="891.57">3.8</text>
<text class="a" text-anchor="middle" transform="translate(1275.57 704.16) rotate(-90) scale(1 1.05)">2.8</text>
<path class="t" d="M1062.12 114.05v-12.67M1082.51 114.05v-12.67M1102.91 114.05v-12.67M1123.30 114.05v-12.67"/>
<path class="t" d="M114.05 769.16h-12.67M114.05 757.85h-12.67M114.05 746.54h-12.67M114.05 735.23h-12.67"/>
<text class="a" text-anchor="middle" x="1062.12" y="83.64">0.5</text>
<text class="a" text-anchor="middle" x="1123.30" y="83.64">2.0</text>
<text class="a" text-anchor="middle" transform="translate(83.64 769.16) rotate(-90) scale(1 1.05)">0.5</text>
<path class="t" d="M1154.45 845.95v12.67M1164.97 845.95v12.67M1175.49 845.95v12.67M1186.01 845.95v12.67M1196.54 845.95v12.67M1207.06 845.95v12.67M1217.58 845.95v12.67M1228.10 845.95v12.67"/>
<path class="t" d="M1229.95 844.34h12.67M1229.95 838.50h12.67M1229.95 832.67h12.67M1229.95 826.83h12.67M1229.95 820.99h12.67M1229.95 815.16h12.67M1229.95 809.32h12.67M1229.95 803.48h12.67"/>
<text class="a" text-anchor="middle" x="1154.45" y="891.57">8</text>
<text class="a" text-anchor="middle" x="1196.54" y="891.57">12</text>
<text class="a" text-anchor="middle" transform="translate(1275.57 844.34) rotate(-90) scale(1 1.05)">8</text>
<text class="a" text-anchor="middle" transform="translate(1275.57 803.48) rotate(-90) scale(1 1.05)">15</text>
</svg>
</body></html>
